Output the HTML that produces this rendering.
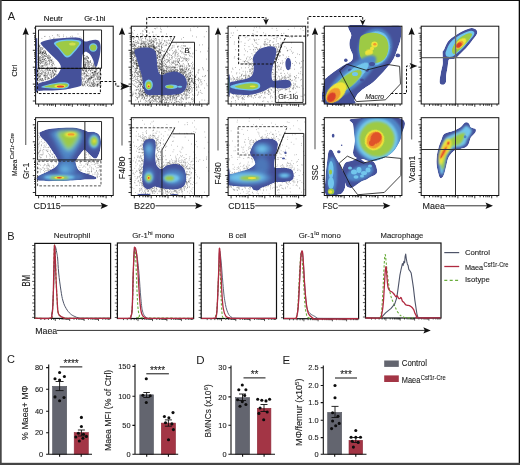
<!DOCTYPE html><html><head><meta charset="utf-8"><style>html,body{margin:0;padding:0;background:#fff}svg{display:block;will-change:transform}text{stroke:#1a1a1a;stroke-width:0.1px}</style></head><body><svg width="520" height="465" viewBox="0 0 520 465" font-family="Liberation Sans, sans-serif">
<defs>
<filter id="b1" x="-50%" y="-50%" width="200%" height="200%"><feGaussianBlur stdDeviation="1.2"/></filter>
<filter id="b2" x="-50%" y="-50%" width="200%" height="200%"><feGaussianBlur stdDeviation="2.2"/></filter>
<filter id="b05" x="-50%" y="-50%" width="200%" height="200%"><feGaussianBlur stdDeviation="0.5"/></filter>
<marker id="ah" viewBox="0 0 10 10" refX="9" refY="5" markerWidth="6" markerHeight="6" orient="auto"><path d="M0,0 L10,5 L0,10 L3,5 Z" fill="#111"/></marker>
</defs>
<rect width="520" height="465" fill="#fff"/>
<path d="M47.7 57.4h.6M38.7 63.0h.6M38.3 60.1h.6M38.9 46.4h.6M45.6 75.7h.6M39.9 51.7h.6M48.5 58.6h.6M40.3 47.5h.6M43.4 75.3h.6M41.0 65.9h.6M49.7 57.6h.6M38.7 51.0h.6M50.4 59.8h.6M43.5 66.1h.6M46.1 54.7h.6M52.6 70.6h.6M42.2 65.6h.6M47.5 77.6h.6M45.5 72.9h.6M40.4 62.2h.6M38.3 69.4h.6M52.0 65.6h.6M50.7 66.4h.6M48.5 60.9h.6M46.5 69.2h.6M38.7 70.7h.6M44.9 69.4h.6M38.0 61.2h.6M40.8 47.5h.6M38.7 73.3h.6M40.0 52.7h.6M45.0 77.4h.6M39.1 60.7h.6M48.0 77.9h.6M53.1 77.2h.6M42.8 59.3h.6M44.4 78.0h.6M40.9 52.0h.6M42.0 62.1h.6M37.6 59.5h.6M44.6 65.3h.6M55.6 70.3h.6M47.3 67.4h.6M54.6 73.8h.6M54.1 74.5h.6M45.0 58.7h.6M39.5 68.0h.6M38.7 45.5h.6M41.5 49.3h.6M37.6 48.8h.6M39.5 57.3h.6M38.1 77.6h.6M42.3 56.6h.6M46.4 62.0h.6M39.2 46.9h.6M44.1 53.3h.6M38.0 80.6h.6M53.9 70.5h.6M42.5 57.4h.6M40.7 73.5h.6M47.6 73.8h.6M43.8 51.7h.6M53.7 74.9h.6M53.1 72.2h.6M41.9 63.4h.6M38.1 53.9h.6M42.5 70.3h.6M41.7 51.8h.6M41.3 50.9h.6M49.4 78.6h.6M53.5 61.9h.6M49.9 74.6h.6M39.2 69.1h.6M54.8 73.9h.6M51.8 61.8h.6M40.9 74.2h.6M43.9 74.6h.6M40.0 48.8h.6M54.7 74.9h.6M40.3 75.7h.6M56.1 68.9h.6M44.2 64.6h.6M55.9 68.6h.6M45.8 77.5h.6M42.3 54.5h.6M42.1 66.1h.6M42.5 59.5h.6M40.1 79.0h.6M44.3 61.0h.6M48.6 78.8h.6M45.5 79.3h.6M47.1 64.0h.6M37.6 74.6h.6M40.8 61.6h.6M51.3 64.9h.6M43.7 63.4h.6M48.1 74.0h.6M39.6 65.1h.6M42.3 53.8h.6M52.2 63.0h.6M48.2 73.0h.6M49.2 62.9h.6M47.3 70.3h.6M46.1 64.0h.6M50.8 77.7h.6M39.9 60.4h.6M38.9 52.4h.6M39.0 69.4h.6M40.5 71.3h.6M41.7 80.7h.6M45.1 62.2h.6M56.3 75.9h.6M40.6 60.0h.6M47.3 56.3h.6M41.3 55.5h.6M48.1 60.3h.6M37.9 56.0h.6M49.4 63.2h.6M38.8 82.0h.6M39.6 53.4h.6M38.3 73.8h.6M42.7 48.0h.6M45.6 79.0h.6M40.4 79.3h.6M48.4 70.7h.6M39.3 45.1h.6M50.6 59.7h.6M38.9 80.1h.6M49.6 74.7h.6M39.2 76.8h.6M38.8 77.1h.6M46.2 56.3h.6M42.6 48.0h.6M39.6 49.2h.6M38.5 50.8h.6M43.5 54.9h.6M51.4 64.7h.6M41.2 61.7h.6M46.9 76.0h.6M45.0 63.0h.6M44.1 75.9h.6M50.9 68.1h.6M45.2 56.6h.6M38.6 48.0h.6M38.9 72.3h.6M42.4 49.3h.6M39.2 76.3h.6M54.0 69.5h.6M42.9 52.4h.6M43.1 61.1h.6M40.6 60.5h.6M43.4 57.0h.6M37.6 58.0h.6M46.6 62.8h.6M41.4 62.9h.6M37.7 53.3h.6M39.3 58.7h.6M38.4 43.7h.6M43.3 52.1h.6M48.7 63.8h.6M51.8 68.9h.6M51.1 77.8h.6M44.9 55.8h.6M51.3 68.4h.6M38.4 76.0h.6M54.4 67.7h.6M51.5 75.1h.6M40.2 63.6h.6M47.1 76.0h.6M52.8 75.7h.6M48.6 78.3h.6M50.5 70.4h.6M40.1 57.2h.6M39.6 76.0h.6M48.1 67.8h.6M49.4 69.9h.6M52.7 72.6h.6M47.1 64.1h.6M39.0 53.4h.6M46.9 58.0h.6M46.6 70.0h.6M52.1 67.3h.6M40.4 52.9h.6M38.7 53.5h.6M50.3 70.3h.6M47.3 61.3h.6M37.9 61.1h.6M46.1 53.5h.6M41.5 80.4h.6M41.6 65.9h.6M40.3 63.6h.6M53.1 63.0h.6M54.4 70.8h.6M41.9 78.5h.6M37.6 62.4h.6M46.1 54.8h.6M40.2 56.5h.6M43.6 76.2h.6M37.6 72.7h.6M55.1 71.2h.6M44.6 58.4h.6M44.4 59.8h.6M39.5 76.0h.6M43.0 80.0h.6M42.3 53.4h.6M54.3 75.1h.6M51.4 60.7h.6M51.8 68.4h.6M46.5 56.5h.6M43.2 72.2h.6M48.1 58.5h.6M40.7 49.2h.6M41.5 78.8h.6M42.1 53.1h.6M48.3 78.1h.6M51.8 59.2h.6M45.4 63.6h.6M44.7 56.3h.6M38.7 53.8h.6M47.1 67.8h.6M42.7 52.7h.6M45.1 60.5h.6M55.6 76.5h.6M38.2 71.0h.6M45.0 79.7h.6M53.2 76.8h.6M39.6 49.0h.6M47.5 69.9h.6M55.4 71.5h.6M49.8 73.2h.6M46.2 64.7h.6M38.3 73.9h.6M42.0 79.4h.6M40.0 52.8h.6M49.6 70.6h.6M39.7 45.6h.6M47.5 66.0h.6M44.9 51.7h.6M43.3 61.1h.6M55.7 68.4h.6M42.0 52.6h.6M55.7 70.8h.6M47.0 69.6h.6M45.5 53.0h.6M44.0 59.5h.6M52.7 72.2h.6M41.8 73.0h.6M43.2 80.6h.6M41.8 59.4h.6M40.3 58.5h.6M38.7 58.4h.6M41.1 80.0h.6M50.1 57.9h.6M44.6 56.0h.6M42.9 56.8h.6M44.3 75.5h.6M38.5 61.6h.6M44.6 79.4h.6M41.2 57.3h.6M45.3 75.1h.6M38.2 45.3h.6M44.0 53.6h.6M55.7 67.3h.6M42.5 71.3h.6M43.6 53.8h.6M37.6 72.8h.6M54.9 68.0h.6M42.0 61.7h.6M44.9 52.8h.6M45.7 62.4h.6M52.8 72.2h.6M53.1 73.5h.6M49.1 55.8h.6M43.6 57.2h.6M41.3 72.7h.6M38.2 64.8h.6M39.4 62.6h.6M51.0 60.6h.6M42.0 59.4h.6M49.3 69.6h.6M51.7 76.5h.6M48.3 57.6h.6M42.3 52.6h.6M40.5 78.0h.6M48.5 55.8h.6M52.9 68.8h.6M46.6 75.4h.6M38.3 54.5h.6M39.8 50.4h.6M42.5 73.7h.6M48.9 67.5h.6M41.7 57.5h.6M40.2 50.9h.6M42.4 66.6h.6M37.8 55.8h.6M43.5 50.9h.6M52.6 64.6h.6M38.8 46.8h.6M45.1 64.7h.6M40.7 70.5h.6M45.3 54.1h.6M43.5 65.3h.6M44.3 59.4h.6M44.5 50.7h.6M37.7 78.6h.6M45.6 75.4h.6M45.3 77.9h.6M37.9 64.7h.6M39.3 67.5h.6M44.6 62.9h.6M40.3 54.1h.6M39.6 62.3h.6M41.3 47.9h.6M54.7 67.5h.6M45.2 76.5h.6M41.7 58.7h.6M47.4 58.1h.6M39.9 52.6h.6M38.3 65.2h.6M48.9 64.7h.6M45.5 66.0h.6M45.6 69.0h.6M46.0 60.2h.6M38.0 67.4h.6M52.0 73.8h.6M40.0 59.9h.6M39.3 60.4h.6M51.5 73.7h.6M47.1 57.8h.6M51.4 75.2h.6M38.8 56.8h.6M47.1 79.4h.6M41.5 53.3h.6M47.1 55.5h.6M38.3 50.1h.6M40.6 80.0h.6M40.8 74.0h.6M39.7 63.9h.6M49.6 57.1h.6M54.1 64.9h.6M48.5 77.9h.6M49.5 58.5h.6M44.4 73.2h.6M48.7 69.2h.6M38.2 48.8h.6M49.2 60.0h.6M47.3 78.4h.6M40.1 51.8h.6M37.6 56.9h.6M39.6 57.0h.6M41.8 66.0h.6M49.4 61.7h.6M40.1 80.0h.6M42.2 48.8h.6M39.4 68.2h.6M54.1 73.9h.6M45.2 53.3h.6M37.8 68.4h.6M48.2 56.7h.6M49.8 60.5h.6M55.3 72.0h.6M42.3 78.7h.6M38.4 63.9h.6M45.3 52.3h.6M38.7 73.8h.6M37.8 64.7h.6M41.3 67.0h.6M47.2 68.3h.6M43.4 54.8h.6M38.5 78.2h.6M52.4 71.2h.6M37.7 76.4h.6M51.7 61.3h.6M51.6 60.8h.6M43.9 72.6h.6M50.7 76.4h.6M48.1 60.1h.6M52.5 63.6h.6M42.6 68.3h.6M42.5 52.2h.6M42.1 78.9h.6M49.5 70.4h.6M46.5 76.2h.6M50.8 76.9h.6M45.8 71.6h.6M48.4 55.0h.6M41.6 67.6h.6M39.0 79.0h.6M39.6 79.7h.6M38.1 44.5h.6M50.7 68.0h.6M50.8 72.1h.6M38.8 66.3h.6M44.4 75.3h.6M38.8 77.3h.6M39.6 51.0h.6M53.6 75.1h.6M49.6 75.6h.6M39.5 46.7h.6M43.6 59.7h.6M38.0 53.0h.6M42.9 71.3h.6M44.5 55.6h.6M53.7 67.4h.6M38.2 59.2h.6M45.8 73.5h.6M44.1 70.8h.6M37.6 50.8h.6M37.7 62.3h.6M46.9 74.5h.6M41.1 62.5h.6M44.1 75.9h.6M42.5 80.3h.6M42.9 51.4h.6M50.8 62.6h.6M39.7 68.1h.6M39.1 74.1h.6M50.8 74.1h.6M49.5 57.0h.6M45.2 58.5h.6M41.5 53.3h.6M44.7 77.9h.6M42.0 61.1h.6M47.6 72.8h.6M51.8 68.5h.6M44.2 55.8h.6M40.5 76.3h.6M50.1 72.3h.6M40.8 60.3h.6M52.2 65.8h.6M40.0 61.2h.6M41.2 54.8h.6M50.9 76.3h.6M40.5 49.0h.6M42.3 55.8h.6M43.8 50.3h.6M56.0 71.8h.6M39.5 81.1h.6M39.5 58.1h.6M56.2 74.4h.6M51.4 60.1h.6M41.3 68.2h.6M39.6 51.0h.6M45.1 74.3h.6M50.7 62.7h.6M49.5 61.2h.6M40.3 66.8h.6M45.2 72.3h.6M48.4 72.6h.6M45.5 51.9h.6M51.2 77.8h.6M52.2 70.6h.6M53.7 69.8h.6M49.7 60.9h.6M43.5 67.8h.6M39.4 59.5h.6M52.4 71.2h.6M45.6 60.9h.6M49.3 59.1h.6M41.0 68.8h.6M38.3 64.4h.6M40.6 73.9h.6M39.5 65.7h.6M47.8 71.3h.6M47.3 68.2h.6M53.3 63.6h.6M41.5 70.0h.6M45.0 73.1h.6M42.8 58.7h.6M37.8 59.5h.6M45.5 70.6h.6M44.2 53.4h.6M41.8 72.3h.6M41.7 74.7h.6M45.0 51.2h.6M40.0 73.7h.6M52.9 68.0h.6M46.4 65.2h.6M41.8 81.1h.6M44.3 68.2h.6M53.1 75.3h.6M46.4 54.5h.6M44.7 52.9h.6M37.6 71.5h.6M42.9 52.6h.6M43.3 61.9h.6M45.7 68.1h.6M50.0 57.2h.6M55.1 76.8h.6M38.6 75.7h.6M54.7 74.0h.6M40.2 75.9h.6" stroke="#111" stroke-width="0.65" stroke-opacity="0.8" fill="none"/>
<path d="M93.7 67.7h.6M94.1 72.4h.6M83.1 70.3h.6M85.7 82.8h.6M88.0 70.5h.6M99.1 83.2h.6M84.4 85.1h.6M93.2 82.9h.6M94.4 85.2h.6M96.8 84.1h.6M85.0 81.2h.6M91.6 82.2h.6M89.8 85.0h.6M92.1 72.7h.6M85.8 70.2h.6M90.9 68.6h.6M90.4 70.3h.6M90.9 77.3h.6M91.8 84.6h.6M81.2 84.1h.6M90.4 78.6h.6M94.3 84.1h.6M88.5 75.7h.6M100.2 68.9h.6M93.8 80.1h.6M81.7 79.5h.6M94.7 85.9h.6M91.2 77.1h.6M98.9 68.1h.6M95.4 79.8h.6M87.8 84.5h.6M88.4 76.8h.6M91.5 82.7h.6M85.3 76.1h.6M89.5 78.4h.6M97.5 73.2h.6M97.5 75.4h.6M91.1 72.8h.6M94.1 83.2h.6M87.7 73.7h.6M87.0 79.1h.6M93.7 83.0h.6M81.9 81.8h.6M98.7 78.3h.6M82.1 73.4h.6M81.2 71.2h.6M99.4 79.5h.6M94.2 83.1h.6M99.2 79.6h.6M93.4 79.9h.6M94.9 79.3h.6M94.6 71.6h.6M94.4 76.5h.6M96.3 69.4h.6M84.7 68.2h.6M96.5 85.6h.6M94.1 74.7h.6M97.4 83.0h.6M92.3 72.5h.6M87.1 75.8h.6M87.4 76.0h.6M93.8 86.0h.6M82.2 78.7h.6M81.9 69.8h.6M97.2 78.9h.6M99.4 76.3h.6M81.4 75.1h.6M92.9 86.1h.6M100.6 76.9h.6M89.3 69.4h.6M93.9 71.6h.6M84.1 67.7h.6M81.2 81.0h.6M82.8 84.7h.6M83.7 67.8h.6M95.4 72.2h.6M95.7 71.1h.6M82.1 82.8h.6M95.3 84.4h.6M95.6 69.1h.6M93.6 81.5h.6M90.2 85.9h.6M95.3 67.6h.6M81.4 80.3h.6M97.3 69.0h.6M87.3 81.9h.6M84.4 84.5h.6M90.8 68.6h.6M88.4 78.8h.6M89.8 80.9h.6M84.0 83.3h.6M88.3 80.2h.6M93.6 75.7h.6M88.8 83.0h.6M99.9 83.0h.6M92.4 73.2h.6M95.1 83.9h.6M87.7 79.5h.6M100.5 83.9h.6M93.0 73.6h.6M89.6 85.1h.6M88.6 81.0h.6M93.1 85.2h.6M97.1 73.0h.6M81.1 72.6h.6M89.5 79.1h.6M97.3 85.1h.6M81.9 84.0h.6M97.2 84.7h.6M92.5 72.9h.6M98.0 83.5h.6M94.7 85.6h.6M88.0 69.1h.6M92.1 83.3h.6M85.1 82.3h.6M99.6 72.1h.6M93.2 80.9h.6M90.3 71.5h.6M86.2 82.3h.6M96.8 76.6h.6M82.8 83.4h.6M96.4 72.0h.6M92.6 85.2h.6M98.7 77.8h.6M90.6 79.1h.6M84.9 71.2h.6M84.7 81.4h.6M88.3 78.6h.6M89.1 77.7h.6M84.1 68.3h.6M100.9 74.9h.6M83.2 80.0h.6M96.7 70.5h.6M93.0 74.3h.6M91.4 67.8h.6M98.3 77.1h.6M92.4 72.6h.6M96.6 75.9h.6M99.9 82.7h.6M97.4 86.6h.6M86.1 68.2h.6M85.1 71.0h.6M82.8 68.4h.6M92.2 84.7h.6M90.2 86.2h.6M99.2 68.7h.6M93.0 75.3h.6M86.2 78.6h.6M93.8 86.4h.6M94.4 75.2h.6M90.0 70.6h.6M100.3 87.1h.6M85.5 68.2h.6M86.2 74.4h.6M99.0 85.4h.6M97.7 68.4h.6M96.7 81.5h.6M82.2 70.3h.6M96.1 86.1h.6M94.5 73.4h.6M92.8 82.5h.6M83.2 73.9h.6M86.2 69.9h.6M90.7 70.8h.6M85.8 70.3h.6M94.6 67.7h.6M95.3 71.3h.6M81.8 85.9h.6M85.5 86.0h.6M98.3 85.1h.6M83.9 76.3h.6M83.0 85.9h.6M97.8 79.9h.6M90.1 74.2h.6M97.5 76.9h.6M93.6 70.3h.6M85.5 68.5h.6M95.3 78.4h.6M84.0 84.7h.6M86.4 75.6h.6M84.2 72.8h.6M97.8 74.1h.6M84.4 77.2h.6M87.4 85.4h.6M82.2 85.2h.6M94.4 71.6h.6M90.6 73.1h.6M86.2 71.4h.6M100.9 85.8h.6M83.0 73.2h.6M98.9 68.6h.6M95.5 73.3h.6M100.5 67.7h.6M97.1 74.2h.6M83.9 67.5h.6M97.6 77.9h.6M84.8 76.1h.6M99.2 71.8h.6M92.4 70.2h.6M84.7 82.7h.6M95.2 71.3h.6M82.7 69.2h.6M93.2 77.3h.6M86.5 71.5h.6M93.3 81.5h.6M97.2 79.0h.6M85.1 68.7h.6M95.7 75.5h.6M95.4 68.5h.6M97.2 74.1h.6M97.8 84.6h.6M90.9 67.7h.6M99.2 76.9h.6M98.4 72.7h.6M84.8 83.9h.6M88.4 70.7h.6M88.5 79.2h.6M81.2 77.7h.6M90.0 77.7h.6M83.5 81.6h.6M97.3 84.6h.6M87.5 81.6h.6M88.7 82.3h.6M82.3 84.8h.6M100.1 77.3h.6M91.3 78.0h.6M91.8 67.8h.6M100.3 71.9h.6M84.7 69.5h.6M86.1 83.7h.6M81.7 69.3h.6M95.0 71.3h.6M81.4 79.3h.6M92.6 77.8h.6M95.1 69.5h.6M98.4 81.7h.6M82.0 69.9h.6M90.9 77.4h.6M86.7 69.8h.6M89.2 70.1h.6M92.9 84.5h.6M84.0 78.8h.6M95.9 70.7h.6M97.5 86.0h.6M88.8 75.8h.6M97.8 77.9h.6M89.0 86.1h.6M96.5 74.1h.6M85.9 74.1h.6M97.1 85.6h.6M97.3 84.3h.6M82.2 77.7h.6M100.1 86.0h.6M86.1 75.8h.6M93.7 74.7h.6M91.6 68.8h.6M89.7 77.4h.6M81.5 70.2h.6M100.4 82.9h.6M99.7 80.0h.6M97.2 85.0h.6M98.7 68.1h.6M93.8 72.7h.6M94.6 72.9h.6M91.9 85.8h.6M93.4 72.4h.6M91.4 76.0h.6M100.0 73.1h.6M87.2 80.3h.6M83.5 79.2h.6M100.1 77.6h.6M86.4 76.7h.6M91.7 70.4h.6M83.6 70.0h.6M86.9 75.5h.6M86.8 72.3h.6M82.8 78.3h.6M97.8 79.5h.6M92.4 80.3h.6M85.1 81.5h.6M90.3 78.3h.6M93.3 76.7h.6M87.3 72.2h.6M85.5 77.6h.6M88.7 79.1h.6M81.3 74.4h.6M98.2 72.2h.6M92.2 77.2h.6M87.0 82.8h.6M84.2 68.7h.6M98.4 76.2h.6M82.3 75.1h.6M89.8 82.0h.6M83.3 71.9h.6M100.2 82.1h.6M84.2 74.1h.6M88.1 80.8h.6M93.3 84.3h.6M97.4 77.7h.6M95.8 82.2h.6M96.2 76.9h.6M96.7 81.5h.6M99.3 69.9h.6M98.4 67.5h.6M96.3 79.1h.6M91.0 86.5h.6M92.5 75.7h.6M96.7 84.8h.6M93.2 75.0h.6M90.1 76.5h.6M95.5 73.2h.6M88.9 78.5h.6M88.7 73.8h.6M96.7 84.3h.6M91.0 76.2h.6M84.8 73.5h.6M84.0 78.9h.6M92.7 69.2h.6M99.4 73.9h.6M97.9 84.1h.6M100.1 71.5h.6M89.6 85.5h.6M81.3 68.4h.6M92.3 77.3h.6M99.4 82.8h.6M91.4 77.7h.6M94.7 75.2h.6M88.2 79.2h.6M88.1 86.3h.6M94.5 77.9h.6M83.1 74.9h.6M89.1 78.6h.6M92.5 84.9h.6M100.3 77.1h.6M89.8 79.8h.6M100.9 74.2h.6M91.6 83.6h.6M84.5 73.7h.6M100.5 83.8h.6M91.3 69.6h.6M98.9 81.1h.6M98.7 75.8h.6M84.2 73.2h.6M91.3 77.5h.6M84.8 71.0h.6M93.6 79.4h.6M93.7 68.3h.6M89.3 83.1h.6M87.2 81.1h.6M81.2 73.5h.6M97.8 79.1h.6M94.4 71.3h.6M91.0 78.4h.6M86.4 80.3h.6M92.5 75.6h.6M83.5 70.5h.6M96.2 69.5h.6M83.1 70.8h.6M91.5 83.8h.6M93.3 83.4h.6M82.3 67.7h.6M96.4 73.8h.6M95.3 74.5h.6M84.5 72.7h.6M83.1 85.4h.6M92.7 74.4h.6M90.0 75.1h.6M82.2 85.1h.6M92.7 86.5h.6M89.8 79.7h.6M86.1 68.3h.6M99.6 84.4h.6M87.4 85.3h.6M97.3 73.5h.6M93.1 86.5h.6M90.9 86.3h.6M85.9 75.2h.6M95.4 71.8h.6M87.2 84.8h.6M90.7 83.2h.6M85.9 70.9h.6" stroke="#111" stroke-width="0.65" stroke-opacity="0.8" fill="none"/>
<path d="M88.1 57.6h.6M84.7 66.1h.6M88.0 58.4h.6M85.7 58.9h.6M85.2 64.5h.6M84.3 58.7h.6M89.3 66.2h.6M88.0 64.7h.6M88.3 67.8h.6M85.9 67.7h.6M88.2 58.4h.6M90.3 62.3h.6M86.8 65.3h.6M88.5 63.8h.6M85.5 66.4h.6M87.5 63.9h.6M84.5 62.6h.6M88.1 61.7h.6M87.4 58.1h.6M84.8 64.6h.6M87.0 60.5h.6M95.5 66.5h.6M84.9 58.8h.6M83.4 64.1h.6M88.8 63.8h.6M84.6 67.2h.6M93.4 64.6h.6M83.6 55.6h.6M85.3 57.7h.6M87.3 60.2h.6M83.5 59.2h.6M89.2 64.2h.6M83.7 58.4h.6M84.6 65.6h.6M86.0 67.2h.6M93.6 66.1h.6M87.0 56.3h.6M93.5 66.1h.6M83.8 64.4h.6M89.1 61.9h.6M93.0 65.8h.6M86.7 62.4h.6M83.8 59.9h.6M87.4 56.9h.6M93.0 64.0h.6M86.4 58.3h.6M90.3 61.0h.6M87.2 66.8h.6M85.0 62.6h.6M87.7 65.9h.6M90.8 65.2h.6M85.4 63.9h.6M93.9 66.1h.6M84.6 59.0h.6M88.1 57.9h.6M83.8 58.8h.6M85.8 64.4h.6M87.6 61.3h.6M84.2 64.6h.6M84.5 61.6h.6M91.9 67.5h.6M86.5 57.0h.6M83.4 65.4h.6M85.6 63.6h.6M95.0 67.4h.6M85.4 65.5h.6M87.6 57.6h.6M88.2 62.4h.6M88.2 66.1h.6M91.0 63.4h.6M95.8 67.6h.6M90.0 61.7h.6M85.2 59.1h.6M89.3 68.0h.6M84.3 55.6h.6M94.9 66.4h.6M87.0 63.9h.6M90.3 60.7h.6M87.8 60.9h.6M92.4 66.1h.6M87.2 61.0h.6M85.8 56.2h.6M87.6 61.2h.6M95.3 68.0h.6M92.6 63.2h.6M87.2 62.7h.6M87.9 66.8h.6M83.4 57.6h.6M84.2 63.9h.6M88.3 62.8h.6M88.9 62.1h.6M84.6 57.5h.6M84.6 66.5h.6M86.6 56.4h.6M89.9 62.5h.6M86.2 62.7h.6M84.6 61.9h.6M89.2 66.6h.6M90.8 64.6h.6M84.4 66.1h.6M86.4 60.1h.6M83.2 63.0h.6M86.0 59.1h.6M85.4 65.0h.6M87.8 65.2h.6M92.6 66.1h.6M84.7 60.1h.6M93.5 67.7h.6M90.8 65.8h.6M84.6 67.4h.6M85.7 61.0h.6M84.6 65.7h.6" stroke="#111" stroke-width="0.65" stroke-opacity="0.8" fill="none"/>
<path d="M49.8 38.2h.6M54.5 39.3h.6M58.7 34.9h.6M81.1 38.1h.6M56.9 35.0h.6M77.7 34.0h.6M49.6 40.4h.6M72.2 36.9h.6M63.0 35.0h.6M79.7 36.9h.6M44.8 36.4h.6M51.2 41.0h.6M49.1 36.7h.6M62.6 38.4h.6M59.0 36.6h.6M41.6 38.4h.6M71.8 36.0h.6M53.8 37.8h.6M53.3 38.4h.6M70.1 38.9h.6M57.8 36.0h.6M55.2 39.9h.6M74.9 37.9h.6M70.2 36.6h.6M66.4 37.0h.6M44.1 36.5h.6M63.2 36.7h.6M52.4 35.6h.6M57.2 34.8h.6" stroke="#2a2a2a" stroke-width="0.65" stroke-opacity="0.8" fill="none"/>
<path d="M40.70,42.80 C41.15,42.02 42.55,41.47 44.80,40.80 C47.05,40.13 50.40,39.32 54.20,38.80 C58.00,38.28 63.57,37.88 67.60,37.70 C71.63,37.52 75.92,37.42 78.40,37.70 C80.88,37.98 81.38,38.77 82.50,39.40 C83.62,40.03 83.77,41.33 85.10,41.50 C86.43,41.67 88.70,40.68 90.50,40.40 C92.30,40.12 94.43,39.62 95.90,39.80 C97.37,39.98 98.52,40.33 99.30,41.50 C100.08,42.67 100.50,44.57 100.60,46.80 C100.70,49.03 100.35,52.20 99.90,54.90 C99.45,57.60 98.45,61.08 97.90,63.00 C97.35,64.92 97.15,65.95 96.60,66.40 C96.05,66.85 95.17,66.72 94.60,65.70 C94.03,64.68 93.88,62.10 93.20,60.30 C92.52,58.50 91.50,56.25 90.50,54.90 C89.50,53.55 88.20,52.65 87.20,52.20 C86.20,51.75 85.28,51.75 84.50,52.20 C83.72,52.65 82.95,53.33 82.50,54.90 C82.05,56.47 81.95,59.35 81.80,61.60 C81.65,63.85 81.67,66.17 81.60,68.40 C81.53,70.63 81.40,72.32 81.40,75.00 C81.40,77.68 82.00,82.57 81.60,84.50 C81.20,86.43 80.10,86.08 79.00,86.60 C77.90,87.12 76.50,87.25 75.00,87.60 C73.50,87.95 72.50,88.30 70.00,88.70 C67.50,89.10 64.17,89.68 60.00,90.00 C55.83,90.32 48.73,90.52 45.00,90.60 C41.27,90.68 38.90,91.27 37.60,90.50 C36.30,89.73 37.05,87.18 37.20,86.00 C37.35,84.82 36.78,84.27 38.50,83.40 C40.22,82.53 44.88,81.80 47.50,80.80 C50.12,79.80 52.30,78.75 54.20,77.40 C56.10,76.05 57.78,74.43 58.90,72.70 C60.02,70.97 61.02,68.85 60.90,67.00 C60.78,65.15 59.55,63.38 58.20,61.60 C56.85,59.82 54.58,58.08 52.80,56.30 C51.02,54.52 49.28,52.70 47.50,50.90 C45.72,49.10 43.23,46.85 42.10,45.50 C40.97,44.15 40.25,43.58 40.70,42.80Z" fill="#45519a" />
<path d="M54.20,42.77 C54.99,41.97 57.23,40.91 59.74,40.37 C62.26,39.83 66.12,39.53 69.30,39.53 C72.49,39.53 76.87,39.83 78.86,40.37 C80.85,40.91 81.22,41.71 81.22,42.77 C81.22,43.83 80.06,45.11 78.86,46.73 C77.66,48.35 75.48,50.87 74.02,52.49 C72.57,54.11 71.45,55.65 70.13,56.45 C68.81,57.25 67.45,57.83 66.12,57.29 C64.78,56.75 63.42,54.69 62.10,53.21 C60.79,51.73 59.39,49.75 58.21,48.41 C57.03,47.07 55.69,46.11 55.02,45.17 C54.36,44.23 53.41,43.57 54.20,42.77Z" fill="#72c6ec" />
<path d="M56.20,43.50 C56.87,42.83 58.77,41.95 60.90,41.50 C63.03,41.05 66.30,40.80 69.00,40.80 C71.70,40.80 75.42,41.05 77.10,41.50 C78.78,41.95 79.10,42.62 79.10,43.50 C79.10,44.38 78.12,45.45 77.10,46.80 C76.08,48.15 74.23,50.25 73.00,51.60 C71.77,52.95 70.82,54.23 69.70,54.90 C68.58,55.57 67.43,56.05 66.30,55.60 C65.17,55.15 64.02,53.43 62.90,52.20 C61.78,50.97 60.60,49.32 59.60,48.20 C58.60,47.08 57.47,46.28 56.90,45.50 C56.33,44.72 55.53,44.17 56.20,43.50Z" fill="#9dca45" />
<ellipse cx="72.40" cy="43.90" rx="3.20" ry="1.50" fill="#d2e050" filter="url(#b05)"/>
<ellipse cx="93.20" cy="47.50" rx="4.20" ry="4.20" fill="#72c6ec"/>
<ellipse cx="93.20" cy="47.50" rx="3.10" ry="3.10" fill="#9dca45"/>
<path d="M41.40,86.80 C42.08,86.30 44.70,85.50 47.50,84.80 C50.30,84.10 55.07,82.97 58.20,82.60 C61.33,82.23 64.43,82.23 66.30,82.60 C68.17,82.97 69.40,83.87 69.40,84.80 C69.40,85.73 68.83,87.55 66.30,88.20 C63.77,88.85 58.02,88.77 54.20,88.70 C50.38,88.63 45.53,88.12 43.40,87.80 C41.27,87.48 40.72,87.30 41.40,86.80Z" fill="#72c6ec" />
<path d="M44.50,86.70 C45.00,86.37 46.67,85.82 49.00,85.30 C51.33,84.78 55.75,83.88 58.50,83.60 C61.25,83.32 63.92,83.37 65.50,83.60 C67.08,83.83 68.00,84.38 68.00,85.00 C68.00,85.62 67.75,86.83 65.50,87.30 C63.25,87.77 57.75,87.80 54.50,87.80 C51.25,87.80 47.67,87.48 46.00,87.30 C44.33,87.12 44.00,87.03 44.50,86.70Z" fill="#9dca45" />
<ellipse cx="60.00" cy="86.20" rx="5.60" ry="1.70" fill="#efe43a" filter="url(#b05)"/>
<ellipse cx="60.50" cy="86.40" rx="3.60" ry="1.00" fill="#e2412a" filter="url(#b05)"/>
<rect x="35.800000000000004" y="38.2" width="1.5" height="54" fill="#45519a"/>
<path d="M38.52,29.95 L83.56,29.95 L83.56,68.37 L38.52,68.37 L38.52,29.95" fill="none" stroke="#111" stroke-width="0.9"/>
<path d="M83.56,29.95 L101.54,29.95 L101.54,68.37 L83.56,68.37" fill="none" stroke="#111" stroke-width="0.9"/>
<path d="M37.57,68.37 L100.40,68.37 L100.40,93.54 L37.57,93.54 L37.57,68.37" fill="none" stroke="#111" stroke-width="1.0" stroke-dasharray="2.6,1.6"/>
<path d="M165.9 70.4h.6M174.0 98.7h.6M152.9 46.5h.6M144.4 47.3h.6M180.8 97.6h.6M173.1 71.9h.6M182.2 72.9h.6M190.3 86.3h.6M203.9 36.8h.6M136.4 65.2h.6M145.7 98.9h.6M140.1 83.0h.6M136.4 70.0h.6M149.0 46.0h.6M190.0 76.1h.6M169.0 95.1h.6M184.1 72.6h.6M176.2 94.5h.6M140.3 101.5h.6M192.5 79.7h.6M169.8 97.3h.6M152.1 32.0h.6M161.3 58.2h.6M170.9 72.2h.6M152.1 96.5h.6M135.1 56.0h.6M159.9 66.7h.6M160.2 52.8h.6M135.2 60.7h.6M158.8 56.3h.6M160.9 67.1h.6M200.8 84.8h.6M137.7 89.5h.6M194.4 93.7h.6M151.5 42.2h.6M169.3 71.5h.6M136.2 60.0h.6M135.6 93.0h.6M143.6 96.7h.6M140.6 90.3h.6M139.1 69.1h.6M177.4 62.1h.6M139.0 94.2h.6M169.8 67.9h.6M170.2 95.1h.6M143.6 47.0h.6M161.9 66.5h.6M191.9 81.3h.6M167.2 97.4h.6M142.6 41.9h.6M196.6 87.1h.6M195.9 87.6h.6M152.6 100.3h.6M178.5 95.4h.6M139.5 69.1h.6M159.7 101.7h.6M134.5 51.7h.6M176.8 71.0h.6M158.9 98.9h.6M189.5 78.8h.6M183.0 71.1h.6M192.2 91.1h.6M185.7 73.7h.6M152.7 43.1h.6M132.1 75.0h.6M134.8 90.2h.6M157.9 52.1h.6M193.7 67.9h.6M171.0 71.9h.6M137.3 63.4h.6M136.6 42.5h.6M175.0 65.7h.6M196.2 37.0h.6M192.0 62.3h.6M186.0 60.5h.6M150.1 102.5h.6M150.2 98.2h.6M133.2 84.8h.6M132.4 83.9h.6M141.2 76.6h.6M206.8 85.7h.6M163.0 73.6h.6M158.5 51.6h.6M163.0 96.9h.6M153.8 96.3h.6M188.9 84.5h.6M181.1 72.1h.6M132.9 54.5h.6M145.6 37.7h.6M142.4 87.2h.6M159.9 66.9h.6M144.9 93.1h.6M168.7 40.5h.6M181.8 66.2h.6M188.5 92.5h.6M177.6 95.9h.6M176.5 98.8h.6M133.6 55.4h.6M142.3 45.2h.6M136.2 44.7h.6M151.4 44.9h.6M148.3 47.1h.6M152.7 32.1h.6M132.1 44.4h.6M186.3 102.5h.6M168.5 46.6h.6M138.2 39.2h.6M193.4 87.5h.6M140.1 75.4h.6M135.7 48.8h.6M142.1 34.9h.6M140.8 46.6h.6M157.8 45.7h.6M167.7 102.8h.6M197.9 70.9h.6M160.5 53.8h.6M187.6 84.7h.6M141.4 96.9h.6M186.2 98.1h.6M154.9 52.0h.6M145.8 96.6h.6M151.7 47.9h.6M171.1 62.7h.6M187.0 84.2h.6M192.8 78.7h.6M150.6 42.0h.6M163.2 74.2h.6M144.2 43.5h.6M133.8 51.5h.6M161.5 73.5h.6M133.5 41.5h.6M174.0 97.5h.6M177.5 101.7h.6M136.1 36.2h.6M186.1 75.1h.6M192.0 66.2h.6M143.9 92.6h.6M152.9 97.6h.6M138.5 86.4h.6M140.9 84.2h.6M134.3 63.4h.6M197.0 95.3h.6M151.0 96.8h.6M154.8 101.1h.6M206.3 31.6h.6M132.8 42.3h.6M140.3 84.0h.6M175.8 69.7h.6M138.6 76.5h.6M155.2 51.6h.6M136.3 65.6h.6M138.8 96.0h.6M141.5 79.4h.6M176.1 101.7h.6M186.6 88.2h.6M148.8 48.0h.6M159.2 50.2h.6M189.6 83.0h.6M177.4 46.3h.6M161.7 55.8h.6M183.5 73.6h.6M177.9 65.9h.6M168.5 102.5h.6M165.5 103.0h.6M167.2 43.0h.6M159.4 57.6h.6M194.8 76.8h.6M147.4 95.7h.6M133.8 52.5h.6M137.3 74.6h.6M193.9 82.9h.6M187.9 77.2h.6M139.0 47.9h.6M163.4 65.8h.6M175.5 68.0h.6M138.2 46.1h.6M132.4 52.0h.6M161.9 50.7h.6M162.9 95.2h.6M199.3 101.8h.6M133.5 60.6h.6M137.0 98.6h.6M153.2 35.1h.6M154.7 47.8h.6M145.2 46.6h.6M161.8 59.3h.6M155.0 47.2h.6M132.7 60.1h.6M179.9 72.7h.6M132.7 33.9h.6M176.7 71.3h.6M136.8 68.3h.6M187.8 88.2h.6M140.7 72.7h.6M175.2 102.9h.6M191.1 98.5h.6M185.5 71.3h.6M184.2 91.9h.6M152.9 46.0h.6M134.2 52.9h.6M154.2 48.4h.6M151.4 46.6h.6M141.3 75.6h.6M193.1 82.8h.6M149.6 41.0h.6M161.9 69.8h.6M191.7 81.9h.6M132.6 94.1h.6M187.9 78.1h.6M187.7 71.1h.6M185.1 69.8h.6M204.5 100.2h.6M157.1 51.4h.6M164.8 95.7h.6M195.8 50.4h.6M164.4 102.2h.6M167.8 98.3h.6M162.3 100.2h.6M173.6 99.0h.6M133.7 64.3h.6M175.5 95.1h.6M171.1 102.6h.6M133.1 51.9h.6M140.9 42.8h.6M187.2 83.9h.6M159.5 56.7h.6M160.3 101.3h.6M166.2 72.2h.6M140.6 72.3h.6M136.4 82.9h.6M139.4 71.9h.6M141.1 44.3h.6M179.2 95.9h.6M143.8 46.8h.6M141.9 43.1h.6M161.0 47.6h.6M167.1 67.1h.6M184.0 68.4h.6M186.2 60.0h.6M154.1 48.2h.6M138.4 102.3h.6M165.2 98.2h.6M182.1 65.9h.6M197.0 79.6h.6M174.0 69.1h.6M139.3 93.9h.6M163.0 68.0h.6M142.9 85.2h.6M160.3 53.1h.6M157.8 51.4h.6M146.7 100.8h.6M138.7 97.3h.6M184.9 98.2h.6M191.7 79.0h.6M186.5 89.9h.6M148.8 43.7h.6M188.3 102.3h.6M132.3 53.8h.6M157.7 96.5h.6M137.3 80.2h.6M177.1 59.6h.6M138.9 81.5h.6M166.5 97.2h.6M189.0 78.1h.6M184.3 73.5h.6M131.9 32.2h.6M179.3 68.3h.6M140.2 86.5h.6M188.2 80.5h.6M202.3 67.6h.6M157.9 53.5h.6M132.1 58.8h.6M192.4 36.0h.6M158.0 102.6h.6M157.6 58.5h.6M185.6 94.9h.6M163.1 70.2h.6M187.8 74.0h.6M187.1 90.1h.6M162.0 47.4h.6M145.0 47.0h.6M132.3 46.6h.6M194.6 95.2h.6M170.2 69.8h.6M183.4 75.0h.6M160.8 32.0h.6M137.6 85.8h.6M139.5 87.9h.6M144.8 45.3h.6M138.0 86.1h.6M176.9 67.4h.6M169.8 98.9h.6M160.1 57.4h.6M148.9 47.5h.6M140.8 95.0h.6M142.6 81.8h.6M139.1 84.3h.6M139.3 71.2h.6M135.8 46.9h.6M140.9 43.3h.6M197.5 27.5h.6M153.9 46.4h.6M157.6 60.6h.6M139.7 43.4h.6M167.7 66.4h.6M167.4 98.6h.6M132.0 53.9h.6M181.8 65.1h.6M198.1 80.8h.6M179.1 94.0h.6M198.4 86.4h.6M185.7 74.4h.6M182.7 66.8h.6M181.7 73.2h.6M200.4 51.8h.6M142.3 94.6h.6M157.9 96.4h.6M150.6 40.7h.6M184.1 71.1h.6M151.1 42.8h.6M164.0 65.5h.6M182.4 66.8h.6M137.6 71.3h.6M162.2 95.4h.6M190.3 72.8h.6M183.8 91.2h.6M139.3 91.4h.6M189.5 78.7h.6M189.2 88.7h.6M161.8 58.9h.6M175.1 67.2h.6M156.4 43.6h.6M137.4 65.9h.6M149.5 95.4h.6M154.0 96.6h.6M197.7 94.4h.6M139.9 90.0h.6M188.5 69.9h.6M142.1 95.0h.6M189.2 87.7h.6M161.5 101.6h.6M136.6 63.4h.6M173.0 71.9h.6M153.4 47.8h.6M170.7 71.5h.6M141.9 76.9h.6M164.2 102.0h.6M145.6 45.2h.6M153.7 101.3h.6M134.8 62.5h.6M188.8 86.7h.6M138.6 86.2h.6M179.7 67.7h.6M142.9 43.6h.6M131.8 58.9h.6M141.9 88.8h.6M135.5 40.5h.6M133.0 41.5h.6M133.4 94.0h.6M163.8 62.6h.6M137.5 48.2h.6M136.4 73.3h.6M132.7 53.7h.6M140.8 44.0h.6M139.8 84.5h.6M144.7 94.0h.6M133.2 45.0h.6M135.7 63.8h.6M147.6 46.2h.6M179.9 72.4h.6M183.0 99.6h.6M188.9 72.5h.6M172.3 67.2h.6M133.1 36.6h.6M174.3 66.9h.6M184.0 97.0h.6M187.8 58.4h.6M161.3 70.6h.6M134.0 45.6h.6M172.5 56.5h.6M172.2 54.0h.6M165.0 73.1h.6M173.6 98.0h.6M187.2 81.9h.6M161.0 72.6h.6M208.1 48.2h.6M159.9 53.0h.6M189.2 55.5h.6M141.9 91.6h.6M180.6 71.6h.6M155.0 51.9h.6M151.9 46.0h.6M169.6 54.5h.6M185.8 89.6h.6M144.0 92.4h.6M188.5 83.5h.6M166.7 62.4h.6M160.9 46.3h.6M154.1 99.5h.6M137.0 68.5h.6M164.5 73.3h.6M155.2 98.7h.6M155.1 95.2h.6M189.2 68.6h.6M140.8 76.1h.6M139.4 82.5h.6M135.9 63.4h.6M142.1 78.4h.6M191.7 80.1h.6M167.1 97.0h.6M139.1 72.6h.6M189.7 81.6h.6M162.8 44.0h.6M164.6 72.8h.6M189.1 65.5h.6M158.5 70.5h.6M161.5 69.7h.6M145.8 93.9h.6M147.1 94.2h.6M169.3 60.8h.6M135.9 93.6h.6M182.9 74.8h.6M169.4 96.1h.6M191.3 63.5h.6M158.3 69.1h.6M152.5 96.9h.6M142.5 90.6h.6M131.8 95.5h.6M180.8 102.3h.6M194.1 87.9h.6M180.2 73.1h.6M133.1 80.8h.6M143.4 95.5h.6M188.3 79.4h.6M135.4 71.5h.6M170.7 49.0h.6M185.7 77.8h.6M151.0 101.2h.6M173.1 95.5h.6M158.1 60.0h.6M175.3 69.6h.6M175.1 98.1h.6M187.9 73.9h.6M160.2 68.3h.6M181.6 68.6h.6M160.2 69.9h.6M143.6 44.3h.6M153.6 95.9h.6M148.0 46.6h.6M186.1 69.7h.6M158.7 57.1h.6M194.5 93.4h.6M138.8 96.2h.6M165.0 61.1h.6M151.8 95.5h.6M175.5 49.9h.6M160.0 26.9h.6M144.7 44.1h.6M187.7 78.9h.6M158.7 44.6h.6M138.6 48.5h.6M163.6 70.7h.6M160.2 43.9h.6M138.3 43.2h.6M163.5 73.5h.6M172.3 71.7h.6M163.3 71.9h.6M200.0 80.9h.6M172.5 47.0h.6M149.7 96.2h.6M188.9 79.5h.6M158.1 54.1h.6M168.8 71.9h.6M188.6 86.0h.6M193.7 100.9h.6M138.6 82.9h.6M167.3 72.1h.6M153.7 50.2h.6M161.2 48.1h.6M159.0 96.3h.6M161.3 62.3h.6M195.4 76.0h.6M138.5 65.1h.6M140.2 74.6h.6M166.7 68.9h.6M138.6 65.6h.6M139.6 70.0h.6M162.0 97.4h.6M172.1 99.7h.6M207.2 102.9h.6M200.6 79.6h.6M172.7 96.1h.6M157.5 62.3h.6M164.2 103.2h.6M158.5 65.2h.6M159.0 65.5h.6M138.1 37.6h.6M141.0 95.4h.6M166.2 71.4h.6M194.5 79.4h.6M142.7 47.0h.6M186.7 91.7h.6M196.2 84.7h.6M142.5 94.2h.6M163.7 55.8h.6M177.9 101.4h.6M176.0 101.2h.6M136.9 78.7h.6M201.8 83.8h.6M137.3 76.6h.6M193.8 85.4h.6M204.9 75.9h.6M132.9 41.6h.6M157.3 98.7h.6M187.2 90.3h.6M183.9 93.0h.6M147.4 27.3h.6M145.3 45.4h.6M166.6 66.7h.6M152.6 45.8h.6M175.8 64.4h.6M147.5 47.5h.6M180.7 66.1h.6M152.6 44.7h.6M143.7 92.4h.6M163.5 99.5h.6M134.5 53.0h.6M173.1 62.6h.6M174.2 70.8h.6M161.0 61.3h.6M143.1 87.6h.6M186.3 98.0h.6M150.2 47.2h.6M132.2 78.5h.6M168.5 95.0h.6M164.5 51.4h.6M143.6 46.6h.6M175.8 65.2h.6M153.0 95.5h.6M132.1 53.9h.6M178.2 94.5h.6M163.3 56.1h.6M148.8 99.9h.6M159.2 68.4h.6M155.6 99.8h.6M161.5 100.6h.6M189.0 76.5h.6M139.4 75.5h.6M170.8 96.1h.6M140.8 73.2h.6M148.8 101.2h.6M134.1 44.8h.6M161.3 95.1h.6M137.6 68.3h.6M142.0 94.4h.6M134.6 37.3h.6M167.0 54.2h.6M148.5 41.0h.6M185.2 90.5h.6M168.4 61.0h.6M132.7 60.5h.6M182.6 57.4h.6M159.6 66.7h.6M173.4 103.2h.6M136.7 72.4h.6M149.1 46.1h.6M159.4 46.9h.6M144.8 94.2h.6M157.3 62.7h.6M136.5 59.5h.6M185.0 75.4h.6M141.2 80.5h.6M140.1 79.6h.6M143.8 97.2h.6M189.2 82.1h.6M195.4 81.6h.6M160.0 98.7h.6M194.0 86.4h.6M180.8 103.1h.6M172.0 69.3h.6M186.9 84.6h.6M142.7 31.2h.6M132.8 38.2h.6M163.0 51.4h.6M140.7 78.1h.6M136.6 68.7h.6M161.1 72.5h.6M142.5 38.4h.6M143.3 34.9h.6M176.0 71.1h.6M136.4 64.4h.6M144.0 98.4h.6M164.0 72.0h.6M161.4 50.2h.6M195.2 76.8h.6M166.7 95.7h.6M162.5 73.9h.6M135.8 64.0h.6M158.9 61.3h.6M150.3 95.8h.6M132.4 44.0h.6M189.9 75.6h.6M157.4 50.9h.6M163.5 71.2h.6M158.4 98.7h.6M149.6 43.7h.6M180.7 47.1h.6M149.8 37.5h.6M135.7 49.4h.6M133.7 52.0h.6M189.3 93.5h.6M154.6 47.7h.6M136.4 58.4h.6M160.4 63.5h.6M150.4 45.2h.6M146.7 96.5h.6M168.1 71.0h.6M186.7 89.7h.6M141.0 41.6h.6M157.8 63.2h.6M143.8 87.8h.6M169.8 95.1h.6M135.2 55.3h.6M137.6 78.6h.6M145.4 38.7h.6M138.7 80.6h.6M185.9 72.2h.6M151.8 99.6h.6M163.1 54.6h.6M162.9 71.3h.6M158.8 97.2h.6M202.3 44.8h.6M159.0 52.5h.6M132.5 66.1h.6M151.9 96.1h.6M183.2 37.5h.6M155.4 97.6h.6M134.9 42.5h.6M137.5 82.5h.6M131.8 56.6h.6M190.3 102.8h.6M159.7 101.6h.6M192.6 53.9h.6M161.0 73.3h.6M201.7 100.0h.6M132.3 50.8h.6M161.2 61.4h.6M191.3 99.7h.6M156.4 100.0h.6M140.3 75.3h.6M188.9 86.2h.6M193.9 87.6h.6M158.7 51.8h.6M181.6 99.1h.6M134.0 55.9h.6M164.0 40.5h.6M155.1 51.3h.6M200.1 90.4h.6M155.1 51.1h.6M178.0 62.5h.6M136.1 68.2h.6M154.7 100.0h.6M148.9 47.0h.6M150.0 43.5h.6M157.2 48.1h.6M193.5 83.8h.6M153.1 46.0h.6M187.6 85.5h.6M144.4 97.6h.6M186.8 70.8h.6M191.7 78.6h.6M135.0 45.3h.6M162.8 99.3h.6M154.0 47.7h.6M165.8 73.1h.6M141.7 91.8h.6M134.3 75.9h.6M161.2 69.6h.6M140.3 46.8h.6M135.2 72.1h.6M198.0 85.1h.6M135.8 68.1h.6M134.6 74.4h.6M153.5 101.3h.6M134.6 48.2h.6M147.1 97.8h.6M138.3 75.0h.6M143.7 43.3h.6M132.6 72.9h.6M152.5 41.1h.6M134.4 47.8h.6M165.4 70.7h.6M140.8 44.6h.6M189.2 84.4h.6M189.0 90.7h.6M136.4 76.6h.6M165.6 102.6h.6M185.6 76.3h.6M168.5 53.6h.6M145.8 94.8h.6M133.0 60.1h.6M180.7 65.9h.6M193.6 100.9h.6M159.9 67.5h.6M188.8 74.5h.6M178.4 96.4h.6M194.9 83.8h.6M156.7 57.4h.6M150.9 42.6h.6M157.9 50.5h.6M149.9 102.1h.6M155.3 99.4h.6M174.5 67.5h.6M133.8 76.6h.6M200.6 92.4h.6M160.9 98.0h.6M170.6 95.1h.6M192.4 101.9h.6M138.6 97.0h.6M180.4 66.5h.6M163.8 96.6h.6M170.3 97.5h.6M141.1 47.7h.6M200.7 82.1h.6M132.1 60.8h.6M152.7 96.8h.6M183.5 58.7h.6M144.0 29.1h.6M158.2 52.9h.6M139.1 67.1h.6M136.4 63.7h.6M166.7 69.0h.6M140.6 77.8h.6M156.8 43.4h.6M166.6 68.7h.6M172.1 97.2h.6M135.4 48.8h.6M161.7 40.6h.6M134.6 83.8h.6M134.6 50.3h.6M141.5 83.7h.6M152.9 49.0h.6M141.8 85.9h.6M158.4 68.0h.6M143.4 47.6h.6M194.0 90.6h.6M135.8 65.9h.6M156.6 102.8h.6M138.1 65.1h.6M133.7 61.7h.6M139.8 95.8h.6M140.8 91.6h.6M134.4 53.0h.6M132.3 94.2h.6M132.7 59.9h.6M155.3 52.3h.6M161.4 95.5h.6M189.0 90.2h.6M188.3 81.3h.6M183.0 72.8h.6M155.3 48.6h.6M153.6 41.5h.6M196.6 89.3h.6M180.2 66.0h.6M163.2 70.7h.6M149.6 98.0h.6M135.2 48.6h.6M182.9 74.4h.6M148.4 44.2h.6M134.9 51.0h.6M165.4 100.0h.6M134.2 49.2h.6M158.1 99.6h.6M140.5 76.7h.6M158.7 52.3h.6M133.8 45.0h.6M159.0 72.2h.6M185.8 89.7h.6M190.1 75.2h.6M159.7 60.0h.6M160.3 51.1h.6M185.1 59.8h.6M158.6 70.2h.6M146.9 39.4h.6M191.4 80.8h.6M192.2 64.9h.6M167.3 95.4h.6M166.1 102.2h.6M189.2 52.2h.6M133.2 49.9h.6M207.1 70.7h.6M133.4 62.6h.6M136.4 49.0h.6M134.0 55.3h.6M143.3 88.7h.6M166.7 71.4h.6M157.6 66.5h.6M136.9 66.4h.6M191.1 78.8h.6M158.9 71.9h.6M158.9 72.1h.6M169.6 99.8h.6M157.4 55.4h.6M136.0 66.3h.6M166.2 71.1h.6M139.6 46.5h.6M136.2 48.3h.6M159.6 102.2h.6M155.0 96.2h.6M159.5 101.6h.6M170.0 45.6h.6M163.1 55.7h.6M179.0 69.4h.6M174.5 70.8h.6M145.8 36.5h.6M138.3 101.4h.6M140.5 82.2h.6M180.8 69.6h.6M176.9 94.7h.6M154.5 28.5h.6M165.0 64.5h.6M148.9 39.8h.6M138.6 47.6h.6M156.2 96.9h.6M132.6 53.8h.6M159.0 67.9h.6M136.5 89.6h.6M191.4 78.0h.6M158.9 57.5h.6M148.0 43.1h.6M133.1 57.9h.6M134.1 44.6h.6M192.0 82.4h.6M132.8 44.1h.6M198.6 87.6h.6M174.1 61.0h.6M188.4 78.2h.6M151.1 48.0h.6M187.4 76.9h.6M159.4 66.9h.6M140.4 44.4h.6M168.4 98.1h.6M166.2 59.4h.6M153.7 47.6h.6M175.7 50.3h.6M135.2 68.5h.6M172.5 98.3h.6M195.1 83.2h.6M141.7 88.8h.6M159.4 97.9h.6M135.2 75.4h.6M188.1 89.1h.6M183.9 90.9h.6M149.8 47.9h.6M159.3 46.3h.6M158.1 98.2h.6M185.6 97.1h.6M145.0 30.2h.6M142.5 86.6h.6M137.1 65.1h.6M145.2 94.9h.6M180.5 69.6h.6M176.5 97.6h.6M163.0 68.9h.6M156.8 95.3h.6M140.3 73.3h.6M174.1 68.0h.6M150.7 100.6h.6M147.6 102.1h.6M134.3 56.8h.6M168.7 69.2h.6M142.3 86.6h.6M138.9 68.2h.6M170.7 71.3h.6M132.3 74.6h.6M158.7 50.1h.6M156.1 101.4h.6M142.2 86.3h.6M170.0 40.6h.6M187.8 79.5h.6M165.9 73.0h.6M138.3 48.7h.6M183.6 69.9h.6M167.3 61.8h.6M143.2 88.7h.6M175.5 67.4h.6M145.4 28.9h.6M182.7 69.8h.6M172.6 71.8h.6M169.8 70.0h.6M159.8 52.3h.6M134.1 50.0h.6M140.1 88.1h.6M155.5 100.8h.6M186.7 87.2h.6M150.8 46.2h.6M142.8 95.6h.6M149.3 103.0h.6M160.5 69.7h.6M142.9 85.9h.6M183.1 98.9h.6M188.4 81.2h.6M159.3 41.4h.6M180.7 100.6h.6M173.5 71.4h.6M166.1 70.7h.6M174.2 102.7h.6M180.3 69.0h.6M170.1 96.2h.6M167.9 72.1h.6M142.1 82.3h.6M165.8 102.5h.6M191.6 67.4h.6M184.6 76.4h.6M141.1 75.3h.6M202.4 76.4h.6M158.5 59.9h.6M171.6 71.1h.6M137.4 67.7h.6M174.0 102.8h.6M132.0 51.4h.6M140.3 82.4h.6M134.2 53.0h.6M153.2 95.3h.6M194.1 79.3h.6M145.2 46.4h.6M152.7 41.3h.6M190.1 29.0h.6M159.6 63.4h.6M187.6 82.1h.6M184.4 93.6h.6M149.8 101.8h.6M134.9 79.0h.6M157.8 65.5h.6M191.2 91.0h.6M161.8 39.0h.6M182.9 74.3h.6M203.9 76.6h.6M133.6 38.9h.6M159.7 56.0h.6M187.1 87.0h.6M161.3 102.6h.6M171.6 61.2h.6M148.8 95.2h.6M159.9 102.1h.6M145.1 96.0h.6M168.4 97.8h.6M158.8 68.3h.6M191.7 78.1h.6M141.1 84.5h.6M192.2 71.4h.6M142.2 80.3h.6M152.9 38.7h.6M157.0 96.0h.6M140.4 83.7h.6M158.8 68.6h.6M177.2 71.7h.6M156.8 55.5h.6M144.8 92.7h.6M149.6 95.3h.6M174.4 70.5h.6M173.2 95.8h.6M137.4 66.7h.6M140.3 71.7h.6M157.2 101.5h.6M134.8 93.1h.6M137.3 48.2h.6M157.6 62.1h.6M141.2 74.7h.6M138.5 72.2h.6M137.8 66.5h.6M160.3 63.8h.6M185.8 78.1h.6M202.7 68.8h.6M160.7 49.6h.6M197.7 72.3h.6M143.4 99.7h.6M166.6 40.7h.6M179.8 69.0h.6M134.2 85.5h.6M184.2 71.8h.6M134.2 64.0h.6M138.8 66.3h.6M162.2 66.0h.6M131.8 56.2h.6M170.9 68.1h.6M173.3 71.8h.6M143.5 96.2h.6M137.1 60.7h.6M194.7 85.3h.6M191.7 85.0h.6M193.3 83.4h.6M137.1 87.4h.6M179.9 93.8h.6M154.0 99.1h.6M166.3 99.3h.6M153.0 48.2h.6M164.4 70.4h.6M140.3 71.5h.6M198.6 69.8h.6M142.9 85.5h.6M136.2 87.1h.6M162.2 95.7h.6M156.9 57.5h.6M170.9 70.4h.6M179.0 102.5h.6M182.1 95.1h.6M148.5 43.9h.6M136.6 95.1h.6M151.3 45.8h.6M181.2 39.1h.6M135.5 86.6h.6M161.3 102.6h.6M181.7 69.0h.6M164.8 97.4h.6M158.6 43.7h.6M163.4 74.1h.6M203.1 69.8h.6M188.9 90.3h.6M162.5 35.8h.6M178.1 94.5h.6M153.1 44.8h.6M187.4 95.4h.6M132.3 67.9h.6M136.3 89.6h.6M183.7 72.1h.6M133.2 77.8h.6M138.5 48.0h.6M132.9 66.7h.6M181.7 98.3h.6M138.9 70.2h.6M139.7 83.0h.6M189.1 84.6h.6M135.3 93.9h.6M192.4 99.6h.6M173.4 70.4h.6M189.4 95.9h.6M188.7 92.9h.6M173.4 96.2h.6M163.9 96.7h.6M140.4 77.1h.6M158.6 97.4h.6M184.5 91.8h.6M139.7 40.6h.6M191.1 74.4h.6M195.5 77.0h.6M154.7 48.7h.6M134.2 53.8h.6M188.5 88.2h.6M198.1 78.7h.6M182.5 61.0h.6M135.2 58.1h.6M192.3 94.3h.6M135.9 49.2h.6M162.5 57.6h.6M189.0 97.5h.6M189.7 78.6h.6M163.4 65.8h.6M132.1 52.4h.6M183.9 94.6h.6M146.3 95.5h.6M138.9 69.2h.6M132.3 46.0h.6M149.7 45.6h.6M163.2 71.1h.6M133.3 52.9h.6M136.2 90.6h.6M178.7 101.6h.6M188.7 73.3h.6M158.7 96.0h.6M140.0 47.6h.6M198.0 78.0h.6M190.6 86.3h.6M157.4 65.9h.6M182.0 70.3h.6M187.2 61.8h.6M134.9 79.4h.6M185.6 74.4h.6M138.0 65.6h.6M190.8 81.9h.6M199.0 102.2h.6M166.1 34.0h.6M167.2 67.7h.6M187.5 82.2h.6M148.9 96.4h.6M143.6 92.6h.6M175.8 94.5h.6M198.7 69.8h.6M151.8 97.9h.6M164.4 51.1h.6M166.7 72.9h.6M158.2 66.6h.6M138.0 37.9h.6M157.2 55.2h.6M157.1 63.7h.6M176.3 94.6h.6M174.6 100.5h.6M177.5 94.3h.6M159.6 66.2h.6M181.7 73.2h.6M163.6 95.2h.6M155.5 47.8h.6M141.4 80.7h.6M136.6 64.2h.6M143.5 92.6h.6M188.2 79.7h.6M160.8 52.4h.6M192.7 95.3h.6M137.6 86.9h.6M185.8 69.6h.6M140.2 91.9h.6M196.0 74.9h.6M191.4 80.8h.6M152.0 102.8h.6M177.5 61.7h.6M188.6 78.1h.6M146.3 95.5h.6M187.2 76.7h.6M132.7 92.1h.6M154.5 42.0h.6M132.9 52.6h.6M137.6 65.5h.6M150.3 46.4h.6M185.9 93.8h.6M145.1 94.7h.6M168.3 67.0h.6M196.1 86.9h.6M185.8 96.0h.6M183.4 42.9h.6M182.3 69.9h.6M141.8 33.3h.6M190.4 76.0h.6M142.5 30.9h.6M156.9 96.1h.6M138.7 71.8h.6M195.6 79.7h.6M155.5 38.5h.6M167.4 26.9h.6M150.9 43.0h.6M156.6 50.5h.6M148.3 100.5h.6M182.7 70.9h.6M142.1 95.7h.6M175.5 95.8h.6M176.4 102.1h.6M159.1 56.1h.6M143.5 88.6h.6M171.8 66.1h.6M159.9 99.9h.6M153.0 96.6h.6M144.7 47.3h.6M199.4 45.0h.6M133.9 51.7h.6M182.0 95.8h.6M137.2 73.5h.6M166.0 102.7h.6M135.5 69.8h.6M156.9 55.8h.6M140.3 89.0h.6M145.6 44.0h.6M194.1 65.6h.6M171.1 102.3h.6M188.4 97.8h.6M170.2 66.3h.6M156.3 42.3h.6M154.9 51.9h.6M163.1 57.7h.6M141.6 46.8h.6M145.0 93.9h.6M135.4 60.4h.6M146.3 47.3h.6M145.8 41.4h.6M172.6 63.1h.6M168.1 67.9h.6M185.7 59.0h.6M144.8 44.3h.6M178.0 70.5h.6M160.8 55.7h.6M162.8 72.6h.6M160.1 100.2h.6M158.5 48.8h.6M185.5 89.4h.6M134.2 62.3h.6M188.8 83.0h.6M187.7 91.5h.6M147.6 95.1h.6M136.7 65.3h.6M140.5 37.7h.6M159.9 56.2h.6M164.3 73.0h.6M188.3 80.9h.6M172.2 70.0h.6M175.4 94.5h.6M159.8 69.2h.6M158.3 66.7h.6M156.4 53.0h.6M187.0 75.2h.6M145.0 94.7h.6M137.9 76.5h.6M159.1 63.1h.6M167.0 51.9h.6M165.3 71.2h.6M138.6 84.5h.6M180.0 70.9h.6M150.1 98.5h.6M161.0 48.2h.6M141.5 84.5h.6M140.7 85.7h.6M140.4 86.0h.6M204.0 88.1h.6M151.4 97.0h.6M138.7 66.0h.6M176.7 64.8h.6M184.8 71.7h.6M186.0 90.3h.6M143.0 46.0h.6M176.6 58.3h.6M148.5 45.6h.6M144.3 92.8h.6M162.1 56.3h.6M132.1 76.2h.6M188.3 69.1h.6M159.8 59.4h.6M139.7 79.9h.6M142.9 88.1h.6M175.4 71.3h.6M180.6 70.1h.6M137.6 74.8h.6M155.8 47.0h.6M192.1 97.8h.6M174.6 63.9h.6M140.3 46.4h.6M171.5 95.7h.6M161.1 73.8h.6M159.0 53.9h.6M134.1 73.0h.6M137.7 73.0h.6M153.0 44.8h.6M143.8 43.0h.6M141.5 84.4h.6M134.8 70.0h.6M181.4 95.3h.6M159.8 53.2h.6M159.3 62.8h.6M165.2 45.4h.6M156.8 46.7h.6M192.7 75.8h.6M181.0 71.9h.6M189.6 78.7h.6M151.8 96.4h.6M182.2 72.0h.6M136.1 63.7h.6M159.2 59.4h.6M192.0 57.0h.6M153.2 46.8h.6M172.2 58.0h.6M141.8 84.2h.6M192.3 68.8h.6M159.3 49.1h.6M141.9 35.8h.6M141.8 91.6h.6M163.1 73.3h.6M160.7 70.0h.6M152.9 98.4h.6M137.3 43.4h.6M166.7 69.9h.6M143.2 87.2h.6M137.8 89.1h.6M143.5 87.9h.6M156.7 27.9h.6M176.5 97.2h.6M143.8 47.1h.6M140.1 76.6h.6M156.9 42.6h.6M134.3 45.7h.6M136.8 61.7h.6M170.9 67.7h.6M198.5 92.0h.6M204.0 80.6h.6M168.9 97.0h.6M172.9 67.3h.6M163.4 64.0h.6M136.3 60.0h.6M149.3 48.2h.6M154.0 45.4h.6M167.0 52.4h.6M171.2 64.3h.6M186.1 67.2h.6M156.9 58.3h.6M144.1 99.1h.6M190.6 89.4h.6M134.7 44.0h.6M171.9 100.9h.6M167.6 100.4h.6M171.8 96.1h.6M152.5 40.7h.6M169.2 70.9h.6M137.0 80.1h.6M133.0 46.4h.6M167.2 48.7h.6M189.6 84.7h.6M188.9 80.1h.6M142.3 98.4h.6M133.6 59.5h.6M206.3 83.9h.6M154.0 46.6h.6M145.3 42.8h.6M179.1 99.5h.6M131.9 75.0h.6M172.1 50.6h.6M148.9 33.1h.6M182.0 98.6h.6M170.1 100.0h.6M142.8 94.0h.6M174.2 67.5h.6M168.9 67.7h.6M159.3 45.1h.6M188.5 75.8h.6M136.2 61.6h.6M185.3 58.1h.6M156.7 58.6h.6M134.9 46.4h.6M186.1 74.8h.6M149.3 46.1h.6M159.3 67.8h.6M140.4 93.2h.6M157.8 56.5h.6M174.3 95.0h.6M138.2 73.9h.6M174.2 71.6h.6M170.1 97.9h.6M156.0 48.0h.6M133.1 48.5h.6M164.6 63.5h.6M140.1 85.7h.6M187.4 80.7h.6M142.7 90.8h.6M186.3 77.6h.6M166.1 66.1h.6M160.4 60.1h.6M189.1 87.9h.6M185.4 95.6h.6M198.0 92.9h.6M153.3 98.5h.6M170.5 68.1h.6M162.7 73.1h.6M168.2 95.7h.6M159.1 40.1h.6M144.4 91.2h.6M141.2 98.7h.6M185.1 72.0h.6M156.5 54.8h.6M155.9 96.2h.6M166.4 101.3h.6M133.0 57.8h.6M143.6 46.4h.6M164.8 98.1h.6M190.4 76.6h.6M146.0 46.8h.6M170.3 37.9h.6M133.9 80.5h.6M142.4 97.0h.6M167.8 59.9h.6M134.4 50.0h.6M171.6 67.2h.6M174.5 95.8h.6M143.0 83.6h.6M147.6 44.9h.6M185.5 94.2h.6M144.3 90.8h.6M158.9 55.2h.6M161.1 46.6h.6M158.9 64.7h.6M161.3 101.5h.6M134.8 72.3h.6M162.3 63.0h.6M167.9 44.1h.6M141.3 77.0h.6M153.0 43.3h.6M164.1 54.1h.6M146.6 94.0h.6M160.3 64.3h.6M155.9 50.0h.6M161.1 72.4h.6M189.0 84.5h.6M194.5 80.6h.6M157.9 68.0h.6M136.9 99.3h.6M136.5 67.7h.6M153.3 97.2h.6M176.4 98.5h.6M149.8 102.3h.6M132.6 65.4h.6M133.5 63.0h.6M159.7 49.9h.6M193.7 26.8h.6M132.7 52.9h.6M179.0 63.7h.6M185.2 91.1h.6M155.8 34.9h.6M137.1 65.4h.6M190.5 30.7h.6M188.4 90.0h.6M177.1 96.5h.6M136.2 42.9h.6M184.5 76.3h.6M188.9 90.9h.6M147.1 40.7h.6M136.6 60.8h.6M174.9 101.0h.6M142.4 82.4h.6M185.9 89.2h.6M183.3 93.6h.6M186.8 79.3h.6M140.2 33.7h.6M138.0 90.0h.6M135.7 60.1h.6M163.3 43.4h.6M138.5 46.5h.6M158.0 52.0h.6M186.7 92.3h.6M155.3 28.8h.6M191.6 87.6h.6M139.0 90.7h.6M190.1 70.7h.6M201.5 81.9h.6M155.7 96.0h.6M164.4 54.8h.6M161.4 74.1h.6M186.5 94.0h.6M176.8 70.1h.6M162.9 73.7h.6M186.3 89.0h.6M140.2 46.9h.6M179.7 64.9h.6M167.4 72.1h.6M150.0 103.1h.6M153.5 41.4h.6M132.6 71.5h.6M176.3 97.5h.6M139.9 74.6h.6M187.0 83.5h.6M188.5 52.2h.6M159.4 73.2h.6M137.6 48.8h.6M153.4 47.1h.6M141.7 79.1h.6M191.6 80.7h.6M165.7 98.7h.6M180.5 99.0h.6M193.7 64.1h.6M144.1 97.9h.6M157.6 66.3h.6M182.1 69.0h.6M160.7 64.6h.6M167.7 95.8h.6M133.6 69.0h.6M140.2 90.6h.6M141.2 82.0h.6M177.1 60.8h.6M156.8 95.4h.6M186.6 79.6h.6M147.2 95.2h.6M153.1 96.6h.6M192.3 89.0h.6M136.5 63.4h.6M142.0 97.4h.6M187.7 85.1h.6M133.8 43.9h.6M179.3 72.2h.6M181.1 94.5h.6M141.9 90.2h.6M197.9 73.1h.6M186.7 87.1h.6M166.4 68.1h.6M178.5 94.7h.6M139.8 84.4h.6M141.4 39.2h.6M135.5 100.1h.6M137.4 72.8h.6M180.8 51.5h.6M134.6 54.4h.6M134.9 64.0h.6M157.1 58.1h.6M140.4 37.7h.6M173.0 53.1h.6M132.0 48.6h.6M150.8 46.2h.6M132.7 57.8h.6M180.4 70.8h.6M149.3 47.7h.6M136.3 60.8h.6M135.8 81.9h.6M164.4 60.7h.6M158.8 97.4h.6M138.1 93.1h.6M134.4 48.7h.6M201.7 93.5h.6M154.2 39.3h.6M154.9 38.7h.6M188.8 66.5h.6M159.4 100.3h.6M179.3 71.3h.6M175.1 61.6h.6M187.2 89.7h.6M141.5 80.0h.6M161.5 95.4h.6M148.1 46.7h.6M137.7 65.0h.6M153.7 47.4h.6M147.0 35.4h.6M154.0 95.1h.6M163.1 61.5h.6M188.4 89.1h.6M141.2 93.0h.6M136.8 61.5h.6M177.3 94.0h.6M196.5 90.5h.6M186.5 95.8h.6M142.6 41.0h.6M147.2 94.6h.6M152.6 100.8h.6M175.8 95.2h.6M134.4 67.9h.6M154.4 95.1h.6M179.6 72.5h.6M172.3 63.0h.6M185.2 75.6h.6M145.5 41.7h.6M180.9 72.5h.6M135.0 61.7h.6M139.4 76.9h.6M146.1 98.3h.6M161.5 96.9h.6M170.1 96.2h.6M156.4 47.0h.6M160.0 28.7h.6M142.3 93.2h.6M161.1 45.1h.6M140.3 100.2h.6M138.5 81.2h.6M137.0 97.8h.6M183.5 94.7h.6M169.6 99.0h.6M199.2 103.3h.6M135.1 49.9h.6M159.3 70.5h.6M132.6 51.9h.6M139.8 95.0h.6M173.5 96.8h.6M139.9 89.7h.6M182.7 60.7h.6M171.9 67.4h.6M174.9 99.5h.6M151.6 97.4h.6M177.0 71.0h.6M134.7 62.9h.6M190.2 72.7h.6M152.5 47.3h.6M156.7 50.9h.6M159.6 63.9h.6M138.2 43.2h.6M164.9 73.7h.6M173.5 66.6h.6M185.5 103.1h.6M164.8 56.0h.6M150.3 102.3h.6M135.2 86.2h.6M132.0 63.3h.6M142.9 90.5h.6M169.9 96.9h.6M185.4 71.4h.6M160.7 61.8h.6M157.9 54.5h.6M188.9 76.1h.6M140.7 45.3h.6M132.5 80.6h.6M144.9 47.7h.6M186.8 76.8h.6M188.1 87.2h.6M149.2 41.4h.6M144.1 41.8h.6M163.8 58.4h.6M188.2 69.4h.6M206.1 59.1h.6M186.6 76.8h.6M176.3 71.7h.6M158.0 46.5h.6M139.9 72.9h.6M165.6 49.8h.6M138.4 80.9h.6M141.4 94.1h.6M153.5 49.3h.6M157.7 66.8h.6M207.1 51.1h.6M134.7 42.0h.6M161.7 96.3h.6M144.9 102.1h.6M193.0 99.0h.6M135.1 56.4h.6M163.3 99.3h.6M165.1 99.8h.6M133.4 53.4h.6M165.7 64.8h.6M134.8 54.9h.6M133.9 37.4h.6M174.5 97.3h.6M169.1 71.8h.6M139.3 95.1h.6M182.0 52.1h.6M143.8 42.1h.6M136.2 79.6h.6M182.8 52.9h.6M207.8 100.9h.6M140.0 82.7h.6M132.1 95.9h.6M181.5 96.9h.6M173.7 68.1h.6M132.9 66.5h.6M167.9 72.0h.6M143.1 87.2h.6M133.6 48.4h.6M133.9 30.5h.6M160.0 95.9h.6M169.6 101.2h.6M140.7 94.6h.6M167.3 99.9h.6M143.5 92.1h.6M198.9 83.0h.6M138.5 66.4h.6M181.7 70.3h.6M159.5 53.4h.6M161.3 64.6h.6M136.1 70.3h.6M184.8 76.5h.6M153.8 48.9h.6M189.7 84.3h.6M138.6 93.9h.6M163.5 69.3h.6M150.9 40.0h.6M135.7 70.4h.6M135.5 96.5h.6M190.0 88.6h.6M142.5 80.6h.6M163.9 60.1h.6M135.0 77.2h.6M156.1 98.6h.6M142.0 83.1h.6M153.5 40.5h.6M136.7 63.6h.6M154.2 47.7h.6M133.9 57.2h.6M136.4 62.1h.6M137.4 77.1h.6M147.5 96.4h.6M195.2 77.5h.6M181.7 101.6h.6M164.5 95.6h.6M132.4 56.6h.6M137.1 47.6h.6M183.5 72.5h.6M151.1 39.2h.6M138.1 93.1h.6M189.2 79.4h.6M145.6 39.9h.6M141.1 40.4h.6M191.6 72.7h.6M133.2 66.3h.6M160.4 69.1h.6M137.7 42.1h.6M189.5 73.2h.6M159.1 49.3h.6M134.9 71.0h.6M162.9 95.3h.6M149.8 103.1h.6M160.9 29.7h.6M199.1 79.1h.6M169.0 67.3h.6M187.7 94.9h.6M186.2 94.9h.6M154.0 50.1h.6M164.4 97.8h.6M141.5 94.7h.6M149.0 99.8h.6M169.8 70.2h.6M176.6 69.5h.6M135.6 68.5h.6M153.5 49.9h.6M178.2 62.2h.6M155.0 48.9h.6M142.4 87.5h.6M160.1 96.8h.6M190.4 82.7h.6M192.6 53.1h.6M164.2 100.4h.6M142.3 79.1h.6M182.9 63.6h.6M134.2 76.6h.6M160.6 31.7h.6M141.6 84.0h.6M149.1 38.2h.6M192.4 75.2h.6M132.8 46.4h.6M140.1 47.4h.6M135.5 81.5h.6M136.9 97.6h.6M161.0 54.6h.6M160.5 95.3h.6M139.5 93.1h.6M138.0 102.0h.6M156.7 95.3h.6M150.8 45.1h.6M155.9 40.5h.6M138.8 91.7h.6M158.9 97.3h.6M167.6 95.0h.6M170.6 99.7h.6M193.2 82.8h.6M171.5 69.9h.6M183.7 54.0h.6M149.3 99.6h.6M148.5 44.5h.6M134.4 56.1h.6M164.9 73.2h.6M148.6 48.1h.6M182.4 74.1h.6M176.5 99.7h.6M157.3 57.1h.6M175.0 70.6h.6M142.9 93.0h.6M185.8 99.7h.6M136.6 67.8h.6M187.4 86.2h.6M131.8 37.4h.6M191.1 87.7h.6M172.7 97.6h.6M189.5 102.9h.6M198.2 80.1h.6M180.3 94.0h.6M169.9 43.5h.6M205.1 75.6h.6M164.7 40.9h.6M134.9 46.0h.6M152.4 97.6h.6M162.4 64.0h.6M168.9 65.9h.6M172.4 98.7h.6M177.3 70.4h.6M157.3 51.9h.6M155.9 39.5h.6M171.9 96.3h.6M143.0 87.9h.6M152.1 44.7h.6M193.1 68.1h.6M134.3 72.4h.6M174.5 71.4h.6M165.7 44.1h.6M190.6 92.6h.6M138.6 71.4h.6M192.8 81.0h.6M138.3 74.3h.6M145.0 100.5h.6M143.2 46.2h.6M137.4 34.4h.6M140.5 73.5h.6M181.6 97.6h.6M186.5 91.7h.6M146.2 101.4h.6M168.8 103.2h.6M188.6 80.1h.6M136.1 72.5h.6M161.8 50.8h.6M194.7 88.9h.6M153.8 46.8h.6M136.2 97.5h.6M141.4 47.2h.6M160.4 52.6h.6M189.4 83.6h.6M187.5 98.0h.6M159.3 72.8h.6M159.7 53.2h.6M176.1 94.8h.6M193.1 69.0h.6M166.1 99.9h.6M132.9 48.8h.6M185.8 99.2h.6M158.6 39.6h.6M162.4 44.8h.6" stroke="#111" stroke-width="0.65" stroke-opacity="0.8" fill="none"/>
<path d="M164.7 70.4h.6M184.9 46.0h.6M177.5 64.1h.6M164.1 58.1h.6M177.8 46.4h.6M165.9 66.0h.6M187.8 63.7h.6M177.5 47.5h.6M180.1 51.0h.6M181.6 45.6h.6M187.1 67.8h.6M190.5 71.2h.6M176.9 73.0h.6M169.4 57.9h.6M173.5 67.3h.6M174.6 55.3h.6M190.2 73.1h.6M168.3 70.6h.6M184.5 46.1h.6M186.5 68.9h.6M188.9 48.3h.6M185.2 54.8h.6M182.7 69.1h.6M178.9 59.9h.6M172.9 69.3h.6M177.4 64.5h.6M180.4 56.6h.6M166.5 62.7h.6M185.9 55.1h.6M173.6 61.9h.6M171.0 71.3h.6M188.7 70.1h.6M184.9 51.6h.6M169.6 50.3h.6M175.2 52.1h.6M177.2 54.7h.6M188.3 50.2h.6M169.7 63.8h.6M184.2 56.9h.6M186.9 48.7h.6M171.6 59.1h.6M184.5 54.8h.6M190.9 56.2h.6M187.3 59.7h.6M186.6 58.7h.6M182.5 47.9h.6M178.1 53.3h.6M178.7 56.0h.6M171.4 70.2h.6M175.9 43.8h.6M184.4 69.9h.6M186.1 68.6h.6M184.9 52.5h.6M191.0 68.8h.6M183.0 48.6h.6M189.9 65.9h.6M178.5 46.1h.6M179.4 63.4h.6M181.6 58.1h.6M180.3 72.8h.6M166.4 66.7h.6M176.2 61.0h.6M170.3 71.4h.6M186.3 58.5h.6M169.2 62.5h.6M183.7 45.8h.6M171.7 72.2h.6M177.5 46.7h.6M184.5 52.0h.6M167.4 59.7h.6M185.3 51.2h.6M180.9 61.5h.6M186.4 65.9h.6M171.8 48.1h.6M171.1 55.6h.6M167.2 56.0h.6M175.5 62.6h.6M177.8 55.9h.6M176.4 52.2h.6M174.1 51.4h.6M185.0 46.0h.6M175.6 56.2h.6M165.4 66.5h.6M176.4 72.4h.6M171.6 57.5h.6M188.8 59.1h.6M184.3 58.9h.6M189.3 53.0h.6M188.3 63.5h.6M189.7 56.3h.6M173.7 45.3h.6M175.4 53.0h.6M181.7 68.9h.6M169.6 55.5h.6M185.7 60.9h.6M181.6 48.9h.6M181.6 58.0h.6M165.4 67.7h.6M183.2 45.8h.6M164.1 69.2h.6M187.8 65.8h.6M184.3 66.2h.6M185.5 67.7h.6M173.9 52.0h.6M185.9 54.5h.6M168.7 54.1h.6M173.8 47.0h.6M165.7 59.9h.6M170.4 59.5h.6M179.9 50.9h.6M180.7 70.2h.6M178.9 59.1h.6M189.8 48.0h.6M175.4 64.5h.6M171.3 57.9h.6M167.8 61.4h.6M184.6 58.4h.6M188.6 54.2h.6M179.3 58.7h.6M166.0 55.4h.6M172.5 62.6h.6M178.0 62.1h.6M164.1 71.0h.6M186.2 48.1h.6M188.1 64.9h.6M169.3 72.9h.6M173.0 69.9h.6M177.3 69.3h.6M175.7 51.2h.6M175.3 60.8h.6M167.5 56.9h.6M175.0 58.8h.6M178.4 49.2h.6M168.9 61.0h.6M178.3 61.2h.6M181.2 53.0h.6M179.2 66.9h.6M190.4 53.6h.6M179.3 60.3h.6M164.5 71.8h.6M164.9 64.3h.6M168.8 59.9h.6M182.9 70.4h.6M175.5 53.7h.6M185.9 68.9h.6M174.3 57.1h.6M172.0 45.6h.6M180.6 65.9h.6M176.7 52.4h.6M171.1 55.7h.6M177.7 72.9h.6M175.5 69.3h.6M178.0 58.5h.6M179.3 66.2h.6M181.7 71.5h.6M178.1 62.2h.6M173.7 63.5h.6M173.3 60.7h.6M175.1 54.9h.6M187.3 47.7h.6M177.7 54.1h.6M174.0 71.5h.6M164.5 66.4h.6M187.9 52.4h.6M179.2 60.8h.6M168.9 58.0h.6M181.3 69.6h.6M188.5 60.3h.6M185.5 49.9h.6M167.9 60.3h.6M177.0 56.7h.6M189.1 66.2h.6M172.9 61.7h.6M188.2 64.4h.6M184.4 67.9h.6M171.0 48.1h.6M184.7 72.6h.6M180.1 57.3h.6M172.9 52.9h.6M183.8 64.9h.6M183.5 58.9h.6M164.2 70.6h.6M175.0 72.6h.6M169.3 50.2h.6M174.6 54.1h.6" stroke="#222" stroke-width="0.65" stroke-opacity="0.8" fill="none"/>
<path d="M145.4 38.3h.6M163.8 45.7h.6M150.7 40.0h.6M152.9 46.3h.6M169.2 45.7h.6M149.0 40.7h.6M159.1 43.2h.6M158.1 45.8h.6M149.9 41.9h.6M159.9 42.3h.6M164.4 41.7h.6M151.3 42.1h.6M166.4 42.5h.6M141.6 43.5h.6M145.4 46.0h.6M143.3 42.4h.6M153.2 41.9h.6M160.1 43.3h.6M139.6 39.3h.6M161.3 46.2h.6M143.4 41.7h.6M170.7 39.3h.6M154.9 40.5h.6M142.4 43.6h.6M165.7 41.9h.6M166.3 45.0h.6M170.6 38.3h.6M145.7 44.4h.6M168.0 40.0h.6M137.6 41.8h.6M160.9 42.4h.6M166.0 45.4h.6M146.1 46.3h.6M143.9 44.9h.6M141.6 43.4h.6M147.9 44.9h.6M156.4 44.5h.6M137.2 41.1h.6M146.2 44.9h.6M146.8 42.6h.6M169.0 43.1h.6M152.6 44.6h.6M152.5 46.4h.6M153.5 46.2h.6M153.8 42.6h.6M155.7 38.5h.6M133.0 39.0h.6M169.4 43.3h.6M161.2 42.3h.6M160.7 43.6h.6M147.0 43.4h.6" stroke="#222" stroke-width="0.65" stroke-opacity="0.8" fill="none"/>
<path d="M135.46,49.44 C136.88,48.65 140.19,47.71 143.03,47.55 C145.87,47.39 150.29,47.39 152.49,48.49 C154.70,49.60 155.49,51.33 156.28,54.17 C157.07,57.01 156.75,62.37 157.23,65.53 C157.70,68.68 158.27,71.52 159.12,73.10 C159.97,74.67 160.92,75.05 162.34,74.99 C163.75,74.93 165.49,73.29 167.63,72.72 C169.78,72.15 173.00,71.46 175.20,71.58 C177.41,71.71 179.24,72.59 180.88,73.48 C182.52,74.36 184.04,75.37 185.05,76.88 C186.05,78.40 186.81,80.60 186.94,82.56 C187.06,84.51 186.65,86.88 185.80,88.62 C184.95,90.35 183.91,91.93 181.83,92.97 C179.75,94.01 176.31,94.51 173.31,94.86 C170.32,95.21 166.69,95.02 163.85,95.05 C161.01,95.08 158.80,95.05 156.28,95.05 C153.76,95.05 150.60,95.49 148.71,95.05 C146.82,94.61 145.81,93.85 144.92,92.40 C144.04,90.95 143.88,88.93 143.41,86.34 C142.94,83.76 142.78,80.04 142.09,76.88 C141.39,73.73 140.19,70.57 139.25,67.42 C138.30,64.27 137.20,60.48 136.41,57.96 C135.62,55.43 134.67,53.70 134.52,52.28 C134.36,50.86 134.04,50.23 135.46,49.44Z" fill="#45519a" />
<ellipse cx="148.71" cy="84.83" rx="4.16" ry="5.30" fill="#72c6ec"/>
<ellipse cx="148.71" cy="85.40" rx="2.84" ry="3.78" fill="#9dca45"/>
<ellipse cx="148.71" cy="85.97" rx="1.51" ry="1.89" fill="#efe43a"/>
<ellipse cx="148.71" cy="86.34" rx="0.85" ry="0.95" fill="#e2412a"/>
<ellipse cx="171.42" cy="86.72" rx="6.43" ry="2.27" fill="#72c6ec"/>
<ellipse cx="169.91" cy="86.72" rx="3.78" ry="1.51" fill="#9dca45"/>
<ellipse cx="179.94" cy="86.72" rx="2.27" ry="0.95" fill="#72c6ec"/>
<path d="M131.68,36.57 L174.83,36.57" fill="none" stroke="#111" stroke-width="1.0" stroke-dasharray="2.6,1.6"/>
<path d="M174.83,36.57 L161.96,59.85 L161.96,103.75" fill="none" stroke="#111" stroke-width="0.9"/>
<path d="M171.04,42.25 L194.51,42.25 L194.51,103.75" fill="none" stroke="#111" stroke-width="0.9"/>
<text x="184.5" y="53" font-size="7.5" text-anchor="start" fill="#1a1a1a" >B</text>
<path d="M229.8 103.4h.6M268.5 94.5h.6M277.1 49.5h.6M273.9 87.8h.6M242.8 71.3h.6M283.3 70.7h.6M231.5 79.0h.6M288.6 79.5h.6M273.6 80.5h.6M277.0 54.3h.6M274.7 94.4h.6M268.0 90.0h.6M241.6 78.3h.6M275.8 44.3h.6M231.7 81.0h.6M244.2 97.2h.6M278.4 91.9h.6M274.7 74.0h.6M256.8 31.9h.6M237.1 80.6h.6M283.3 55.2h.6M283.6 33.3h.6M244.9 75.2h.6M274.5 80.5h.6M279.8 89.6h.6M249.7 73.8h.6M291.4 80.7h.6M268.7 88.6h.6M294.0 28.0h.6M257.5 103.2h.6M301.0 85.8h.6M245.7 74.2h.6M279.0 79.9h.6M275.8 80.0h.6M246.7 77.1h.6M282.6 54.8h.6M253.5 49.8h.6M251.6 53.6h.6M275.6 58.4h.6M257.6 44.5h.6M254.6 47.8h.6M261.3 95.6h.6M303.0 60.7h.6M247.6 77.0h.6M284.8 89.9h.6M248.2 75.3h.6M287.9 29.5h.6M259.5 96.3h.6M294.1 36.3h.6M240.8 79.3h.6M237.8 97.5h.6M272.3 69.6h.6M270.1 44.9h.6M244.9 37.7h.6M273.3 66.7h.6M252.7 59.5h.6M235.3 100.5h.6M286.3 78.1h.6M272.5 72.5h.6M279.3 66.6h.6M260.5 47.4h.6M245.4 50.8h.6M238.3 59.7h.6M240.6 76.6h.6M279.0 56.3h.6M251.9 72.2h.6M273.4 69.9h.6M240.2 96.3h.6M273.8 76.4h.6M279.5 78.8h.6M252.9 58.3h.6M264.5 44.7h.6M232.9 94.0h.6M267.6 42.7h.6M231.0 103.1h.6M269.4 91.4h.6M284.8 77.8h.6M245.0 71.3h.6M289.0 80.8h.6M270.1 96.3h.6M244.5 61.9h.6M268.9 92.3h.6M241.3 75.6h.6M266.2 44.3h.6M263.2 32.8h.6M288.5 56.5h.6M237.7 98.8h.6M278.4 51.1h.6M281.9 89.4h.6M276.3 28.4h.6M248.2 95.5h.6M279.4 50.9h.6M241.0 74.5h.6M251.0 73.4h.6M281.3 89.2h.6M251.9 63.9h.6M294.1 76.8h.6M262.1 92.9h.6M265.6 45.1h.6M298.1 73.2h.6M280.7 69.1h.6M289.2 103.5h.6M268.4 102.0h.6M273.8 62.9h.6M257.5 49.0h.6M275.2 35.4h.6M230.9 33.1h.6M281.8 94.8h.6M271.5 90.4h.6M233.9 44.1h.6M234.5 56.7h.6M238.6 95.2h.6M280.0 63.1h.6M235.0 27.4h.6M253.8 52.0h.6M244.2 61.7h.6M230.1 37.5h.6M251.5 74.1h.6M280.5 38.8h.6M289.1 36.9h.6M276.2 97.0h.6M254.7 54.7h.6M273.6 79.5h.6M238.0 78.9h.6M232.4 96.8h.6M252.8 34.3h.6M300.5 71.7h.6M254.7 40.3h.6M266.6 44.1h.6M273.3 42.0h.6M284.1 78.7h.6M298.0 77.7h.6M289.3 88.4h.6M274.9 77.0h.6M278.7 70.0h.6M264.3 45.8h.6M251.1 58.5h.6M283.8 77.1h.6M231.5 98.1h.6M279.0 55.4h.6M229.2 91.4h.6M278.8 76.7h.6M238.3 99.3h.6M239.5 78.2h.6M280.7 44.1h.6M233.9 58.0h.6M232.7 69.3h.6M265.3 97.8h.6M263.5 91.1h.6M288.7 87.2h.6M278.9 90.3h.6M255.3 95.3h.6M242.2 97.5h.6M278.4 47.3h.6M285.6 89.8h.6M236.7 95.3h.6M235.2 80.6h.6M277.4 51.8h.6M264.0 44.5h.6M275.3 92.8h.6M296.3 75.6h.6M254.3 102.9h.6M289.8 49.7h.6M283.9 95.7h.6M243.5 76.1h.6M230.5 93.0h.6M279.9 45.5h.6M255.6 47.5h.6M228.8 75.6h.6M277.2 50.7h.6M287.0 69.2h.6M293.3 94.0h.6M239.5 73.1h.6M235.4 49.7h.6M249.7 96.4h.6M259.1 48.8h.6M281.0 79.3h.6M295.2 88.3h.6M273.8 79.1h.6M300.3 80.1h.6M277.8 35.9h.6M247.3 61.3h.6M263.2 98.0h.6M276.8 72.3h.6M275.8 48.4h.6M299.9 73.7h.6M293.1 83.2h.6M242.8 79.2h.6M243.1 98.8h.6M282.7 62.5h.6M277.8 55.4h.6M233.7 79.1h.6M246.5 63.6h.6M277.2 51.7h.6M293.7 85.8h.6M291.3 85.2h.6M278.1 76.0h.6M258.7 92.8h.6M245.2 72.9h.6M275.0 66.3h.6M276.7 30.4h.6M278.0 59.5h.6M264.5 42.0h.6M229.1 96.0h.6M279.4 52.5h.6M256.2 39.9h.6M256.0 52.6h.6M293.8 94.3h.6M295.7 81.2h.6M275.0 90.5h.6M276.5 56.1h.6M244.0 75.6h.6M236.6 72.7h.6M294.5 84.1h.6M246.2 59.0h.6M301.1 61.4h.6M243.2 64.0h.6M271.7 101.3h.6M251.8 94.6h.6M272.8 77.0h.6M292.3 88.6h.6M285.1 76.9h.6M251.6 70.2h.6M277.5 66.6h.6M283.6 95.3h.6M284.6 46.7h.6M266.4 89.7h.6M277.8 93.2h.6M290.1 79.4h.6M248.9 66.0h.6M247.4 94.9h.6M304.7 36.6h.6M255.0 97.4h.6M236.4 96.0h.6M238.9 39.3h.6M260.4 97.1h.6M275.3 46.2h.6M295.4 61.4h.6M260.5 93.0h.6M290.5 75.8h.6M243.1 96.2h.6M290.5 86.8h.6M291.7 37.4h.6M256.5 43.2h.6M253.2 46.0h.6M284.9 58.6h.6M229.3 94.7h.6M249.5 75.7h.6M278.1 101.5h.6M270.3 40.6h.6M267.4 46.2h.6M253.4 65.2h.6M296.0 77.8h.6M250.4 71.3h.6M269.3 44.5h.6M284.8 101.8h.6M237.0 78.0h.6M248.3 75.8h.6M296.5 92.2h.6M280.6 69.1h.6M295.0 77.6h.6M255.1 49.7h.6M251.3 65.1h.6M243.4 75.7h.6M254.7 34.9h.6M252.4 74.2h.6M244.8 95.9h.6M277.8 49.9h.6M276.1 79.7h.6M295.3 83.8h.6M295.0 57.5h.6M269.9 45.0h.6M290.5 68.7h.6M281.5 94.3h.6M289.8 74.0h.6M255.5 52.2h.6M246.7 36.9h.6M236.7 79.9h.6M289.6 79.0h.6M281.2 33.7h.6M268.3 91.5h.6M228.9 92.0h.6M248.3 63.1h.6M294.0 65.2h.6M240.4 79.9h.6M252.2 69.1h.6M293.1 94.8h.6M269.3 42.1h.6M239.3 79.5h.6M291.1 47.6h.6M276.0 52.2h.6M271.0 89.5h.6M251.3 95.4h.6M289.6 77.1h.6M256.6 48.1h.6M295.3 93.4h.6M245.5 78.1h.6M248.4 67.6h.6M295.0 84.9h.6M299.4 54.6h.6M300.7 96.2h.6M302.0 27.6h.6M268.5 94.3h.6M278.2 99.8h.6M277.1 62.5h.6M249.7 70.5h.6M252.7 55.1h.6M270.2 93.0h.6M233.3 97.9h.6M252.4 66.5h.6M251.6 97.2h.6M292.8 89.2h.6M245.3 75.3h.6M252.6 33.6h.6M274.9 79.2h.6M232.9 94.2h.6M262.4 101.4h.6M256.3 94.8h.6M294.9 98.0h.6M269.9 89.1h.6M280.2 73.3h.6M241.1 79.2h.6M286.0 57.1h.6M272.3 87.7h.6M301.8 96.5h.6M296.5 86.7h.6M232.5 35.5h.6M276.8 67.7h.6M277.8 66.3h.6M271.8 28.3h.6M275.9 37.3h.6M291.3 84.4h.6M251.9 44.3h.6M296.7 86.2h.6M256.1 47.5h.6M264.8 92.2h.6M273.6 38.5h.6M282.6 78.0h.6M284.5 97.3h.6M233.0 32.9h.6M302.8 103.5h.6M268.3 90.5h.6M243.9 99.6h.6M246.7 78.7h.6M273.0 44.8h.6M278.6 53.1h.6M276.5 65.8h.6M242.5 99.7h.6M244.7 43.3h.6M280.8 79.5h.6M264.4 97.2h.6M284.0 76.4h.6M265.2 41.9h.6M273.6 46.8h.6M252.1 71.8h.6M250.5 59.6h.6M239.0 97.1h.6M234.4 42.0h.6M251.8 67.8h.6M245.4 77.1h.6M290.4 87.1h.6M243.9 54.8h.6M276.0 46.8h.6M253.3 68.2h.6M277.4 37.3h.6M282.3 78.0h.6M243.6 63.5h.6M244.1 102.3h.6M281.3 73.2h.6M259.5 97.8h.6M247.7 62.2h.6M285.2 93.8h.6M237.0 79.8h.6M275.4 76.4h.6M292.4 63.5h.6M268.1 92.2h.6M291.0 42.8h.6M245.0 60.5h.6M253.1 36.3h.6M241.8 98.6h.6M248.5 96.0h.6M285.4 79.6h.6M254.1 95.8h.6M276.1 54.5h.6M282.4 63.8h.6M274.8 88.6h.6M250.9 72.7h.6M278.4 45.0h.6M300.5 28.8h.6M267.4 101.7h.6M268.0 89.9h.6M249.8 49.5h.6M249.1 71.7h.6M260.7 93.3h.6M295.6 100.2h.6M280.2 90.0h.6M246.6 75.6h.6M247.0 96.2h.6M249.3 69.4h.6M270.0 45.8h.6M235.7 94.6h.6M247.4 71.9h.6M267.1 90.5h.6M254.1 95.4h.6M303.0 99.7h.6M245.8 61.5h.6M274.4 77.0h.6M274.2 46.6h.6M289.6 91.7h.6M250.2 69.3h.6M249.0 57.9h.6M287.3 77.2h.6M297.5 87.2h.6M242.8 95.3h.6M253.2 59.1h.6M277.4 88.4h.6M280.3 51.8h.6M241.3 67.9h.6M247.6 56.8h.6M228.7 96.5h.6M244.3 61.7h.6M279.9 52.4h.6M293.2 85.3h.6M265.0 43.8h.6M236.5 77.8h.6M244.5 45.5h.6M248.7 60.0h.6M294.1 76.6h.6M259.0 48.9h.6M251.4 68.9h.6M274.8 90.1h.6M272.5 42.2h.6M234.3 78.6h.6M296.2 62.8h.6M278.0 43.5h.6M232.4 76.0h.6M237.4 77.2h.6M252.2 61.1h.6M299.1 63.0h.6M233.3 80.0h.6M229.3 82.6h.6M286.9 50.8h.6M248.7 46.6h.6M251.6 63.0h.6M247.8 97.2h.6M302.8 30.4h.6M229.4 81.5h.6M251.8 68.5h.6M280.0 79.9h.6M281.9 60.9h.6M236.9 30.3h.6M275.1 96.4h.6M251.1 96.4h.6M245.3 67.8h.6M267.5 44.5h.6M283.8 77.7h.6M237.5 96.7h.6M281.3 44.8h.6M287.5 94.7h.6M286.0 89.4h.6M237.0 58.6h.6M229.3 77.2h.6M247.0 51.7h.6M241.5 102.3h.6M280.9 67.3h.6M239.1 69.7h.6M272.8 74.1h.6M287.1 73.1h.6M301.0 67.1h.6M245.0 78.5h.6M275.9 39.1h.6M293.7 87.1h.6M263.5 101.0h.6M279.4 77.0h.6M273.7 44.6h.6M279.9 44.4h.6M291.4 51.2h.6M289.7 76.0h.6M264.3 43.2h.6M278.3 54.2h.6M245.3 77.4h.6M252.1 63.4h.6M277.3 62.6h.6M255.6 42.7h.6M252.1 69.1h.6M242.8 61.2h.6M288.6 74.8h.6M293.1 88.7h.6M299.5 63.7h.6M247.7 63.1h.6M278.9 46.9h.6M295.2 78.7h.6M239.1 77.0h.6M257.7 94.3h.6M277.7 88.3h.6M247.2 96.6h.6M232.2 68.2h.6M288.5 68.5h.6M269.1 40.9h.6M260.6 46.2h.6M297.2 54.0h.6M254.0 41.0h.6M280.2 45.6h.6M264.8 91.9h.6M258.6 39.5h.6M272.8 74.5h.6M276.1 55.1h.6M241.7 97.9h.6M229.8 78.0h.6M254.4 40.1h.6M269.8 45.5h.6M266.9 93.6h.6M249.8 95.7h.6M275.1 92.0h.6M264.6 94.1h.6M258.0 97.3h.6M240.8 41.8h.6M273.4 45.8h.6M284.0 73.6h.6M247.9 40.3h.6M290.1 91.5h.6M241.0 75.7h.6M248.6 62.8h.6M236.4 79.4h.6M248.8 76.9h.6M248.5 95.4h.6M281.3 75.6h.6M266.6 38.8h.6M294.5 79.9h.6M236.1 73.8h.6M248.6 64.9h.6M276.3 71.9h.6M256.4 27.3h.6M273.9 91.9h.6M275.3 57.7h.6M231.3 101.5h.6M302.2 74.8h.6M287.3 68.9h.6M264.6 93.1h.6M249.6 39.1h.6M280.5 63.2h.6M301.2 79.4h.6M270.3 98.0h.6M272.5 72.6h.6M293.3 87.3h.6M280.1 51.6h.6M278.6 65.1h.6M253.0 49.8h.6M278.6 89.7h.6M300.5 67.8h.6M279.2 80.2h.6M277.4 48.8h.6M240.5 59.5h.6M248.7 76.2h.6M232.8 78.1h.6M285.0 89.1h.6M292.8 52.4h.6M287.3 67.2h.6M298.9 87.4h.6M229.1 82.3h.6M302.9 88.8h.6M233.1 97.1h.6M233.4 77.4h.6M273.1 92.1h.6M237.8 96.8h.6M272.9 87.8h.6M292.0 53.3h.6M292.4 80.3h.6M258.0 50.3h.6M244.7 79.0h.6M279.8 38.2h.6M280.7 42.4h.6M235.4 67.5h.6M252.0 65.9h.6M281.7 77.0h.6M278.2 100.1h.6M289.5 75.9h.6M265.5 34.1h.6M253.7 39.3h.6M267.6 39.8h.6M292.7 87.9h.6M275.7 90.3h.6M288.5 99.7h.6M288.8 91.8h.6M235.8 96.2h.6M275.4 59.3h.6M290.1 103.0h.6M287.1 50.7h.6M275.9 74.9h.6M242.6 98.2h.6M302.8 42.9h.6M287.7 88.8h.6M289.3 90.0h.6M287.6 50.3h.6M303.9 94.4h.6M269.7 46.1h.6M253.2 98.0h.6M242.3 78.5h.6M267.9 46.5h.6M277.5 43.6h.6M276.1 41.1h.6M276.9 78.1h.6M258.8 49.4h.6M264.0 92.8h.6M276.6 56.0h.6M273.7 63.4h.6M231.0 71.9h.6M253.2 30.3h.6M230.6 79.3h.6M235.5 102.1h.6M285.5 75.3h.6M272.3 97.3h.6M303.9 95.6h.6M257.3 49.7h.6M287.9 77.7h.6M238.2 55.7h.6M286.2 48.1h.6M273.8 38.7h.6M259.7 28.1h.6M249.9 56.9h.6M234.6 79.5h.6M237.1 94.5h.6M270.9 95.9h.6M253.9 27.7h.6M269.8 93.8h.6M241.4 95.7h.6M276.0 47.3h.6M249.3 76.8h.6M278.3 91.4h.6M259.4 26.8h.6M275.9 98.6h.6M263.1 44.1h.6M271.0 36.0h.6M278.3 69.2h.6M286.6 89.3h.6M278.3 46.8h.6M277.3 90.2h.6M238.5 80.3h.6M297.3 98.8h.6M245.0 76.8h.6M264.8 39.7h.6M264.6 41.5h.6M285.2 78.1h.6M294.0 69.2h.6M288.1 77.2h.6M255.9 94.5h.6M275.2 69.5h.6M253.2 64.7h.6M253.3 65.6h.6M252.7 72.9h.6M290.7 83.5h.6M249.7 71.2h.6M246.4 58.1h.6M262.2 92.3h.6M280.9 78.5h.6M280.1 55.7h.6M241.9 74.1h.6M244.3 49.0h.6M290.4 79.7h.6M276.4 51.9h.6" stroke="#222" stroke-width="0.65" stroke-opacity="0.8" fill="none"/>
<path d="M253.23,57.01 C254.01,55.12 256.22,51.96 257.96,50.39 C259.69,48.81 261.43,48.24 263.63,47.55 C265.84,46.85 269.15,46.07 271.20,46.22 C273.25,46.38 275.15,47.01 275.94,48.49 C276.72,49.98 276.25,52.91 275.94,55.12 C275.62,57.33 274.67,59.38 274.04,61.74 C273.41,64.11 272.56,66.95 272.15,69.31 C271.74,71.68 271.43,74.04 271.58,75.94 C271.74,77.83 271.90,79.94 273.10,80.67 C274.30,81.39 276.57,80.45 278.77,80.29 C280.98,80.13 284.39,79.50 286.34,79.72 C288.30,79.94 289.81,80.51 290.51,81.61 C291.20,82.72 291.20,85.24 290.51,86.34 C289.81,87.45 288.30,87.92 286.34,88.24 C284.39,88.55 281.30,88.39 278.77,88.24 C276.25,88.08 273.41,86.97 271.20,87.29 C269.00,87.61 267.73,89.18 265.53,90.13 C263.32,91.08 260.48,92.18 257.96,92.97 C255.43,93.76 253.23,94.54 250.39,94.86 C247.55,95.18 243.92,95.02 240.92,94.86 C237.93,94.70 234.30,94.39 232.41,93.91 C230.52,93.44 230.30,92.81 229.57,92.02 C228.84,91.23 228.31,90.44 228.06,89.18 C227.80,87.92 227.65,85.62 228.06,84.45 C228.47,83.28 229.00,82.81 230.52,82.18 C232.03,81.55 234.46,81.23 237.14,80.67 C239.82,80.10 244.08,79.72 246.60,78.77 C249.13,77.83 251.08,76.88 252.28,74.99 C253.48,73.10 253.64,69.63 253.79,67.42 C253.95,65.21 253.32,63.48 253.23,61.74 C253.13,60.01 252.44,58.90 253.23,57.01Z" fill="#45519a" />
<ellipse cx="288.24" cy="64.01" rx="2.84" ry="6.25" fill="#45519a"/>
<path d="M229.95,86.72 C229.95,85.78 233.73,84.51 237.14,83.69 C240.55,82.87 246.92,81.99 250.39,81.80 C253.86,81.61 256.32,81.87 257.96,82.56 C259.60,83.25 260.23,84.89 260.23,85.97 C260.23,87.04 259.60,88.24 257.96,88.99 C256.32,89.75 253.86,90.44 250.39,90.51 C246.92,90.57 240.55,90.00 237.14,89.37 C233.73,88.74 229.95,87.67 229.95,86.72Z" fill="#72c6ec" />
<path d="M234.87,86.53 C234.87,85.90 238.34,85.18 240.92,84.64 C243.51,84.10 247.74,83.41 250.39,83.32 C253.04,83.22 255.50,83.57 256.82,84.07 C258.15,84.58 258.40,85.65 258.34,86.34 C258.27,87.04 257.77,87.76 256.44,88.24 C255.12,88.71 252.97,89.15 250.39,89.18 C247.80,89.21 243.51,88.87 240.92,88.43 C238.34,87.98 234.87,87.16 234.87,86.53Z" fill="#9dca45" />
<ellipse cx="252.66" cy="86.34" rx="3.03" ry="0.95" fill="#efe43a" filter="url(#b05)"/>
<ellipse cx="229.00" cy="85.40" rx="1.14" ry="11.35" fill="#45519a"/>
<ellipse cx="228.81" cy="85.40" rx="0.57" ry="7.95" fill="#5fa88a"/>
<path d="M238.65,35.63 L286.34,35.63 L273.48,64.01 L238.65,64.01 L238.65,35.63" fill="none" stroke="#111" stroke-width="1.0" stroke-dasharray="2.6,1.6"/>
<path d="M282.56,42.25 L303.00,42.25 L303.00,102.43 L275.37,102.43 L275.37,62.69 L282.56,42.25" fill="none" stroke="#111" stroke-width="0.9"/>
<text x="278.3" y="99.3" font-size="7.2" text-anchor="start" fill="#1a1a1a" >Gr-1lo</text>
<clipPath id="c30"><path d="M324.12,103.35 C319.24,99.77 323.59,86.60 324.12,82.19 C324.65,77.78 326.03,78.37 327.29,76.90 C328.55,75.43 330.23,74.49 331.70,73.38 C333.17,72.26 334.64,71.23 336.11,70.20 C337.58,69.17 339.05,68.14 340.52,67.20 C341.99,66.26 343.60,65.29 344.92,64.56 C346.25,63.82 347.28,63.53 348.45,62.80 C349.63,62.06 351.24,61.38 351.98,60.15 C352.71,58.92 353.21,57.45 352.86,55.39 C352.51,53.33 350.42,50.10 349.86,47.81 C349.30,45.51 349.27,43.78 349.51,41.63 C349.74,39.49 351.45,37.14 351.27,34.93 C351.10,32.73 348.86,30.00 348.45,28.41 C348.04,26.82 347.33,25.97 348.80,25.41 C350.27,24.85 354.09,25.06 357.27,25.06 C360.44,25.06 364.03,25.23 367.85,25.41 C371.67,25.59 376.67,26.06 380.19,26.12 C383.72,26.17 385.78,25.82 389.01,25.76 C392.24,25.70 397.53,25.18 399.59,25.76 C401.65,26.35 401.21,26.94 401.35,29.29 C401.50,31.64 401.21,36.34 400.47,39.87 C399.74,43.40 397.97,47.51 396.95,50.45 C395.92,53.39 395.18,55.59 394.30,57.51 C393.42,59.42 392.68,60.44 391.66,61.91 C390.63,63.38 389.45,64.71 388.13,66.32 C386.81,67.94 385.34,69.85 383.72,71.61 C382.10,73.38 380.19,75.14 378.43,76.90 C376.67,78.67 375.05,80.58 373.14,82.19 C371.23,83.81 369.03,85.13 366.97,86.60 C364.91,88.07 362.41,89.69 360.80,91.01 C359.18,92.33 358.30,93.07 357.27,94.54 C356.24,96.01 355.27,98.30 354.62,99.83 C353.98,101.36 358.47,103.12 353.39,103.71 C348.30,104.30 328.99,106.94 324.12,103.35Z"/></clipPath><g clip-path="url(#c30)">
<path d="M324.12,103.35 C319.24,99.77 323.59,86.60 324.12,82.19 C324.65,77.78 326.03,78.37 327.29,76.90 C328.55,75.43 330.23,74.49 331.70,73.38 C333.17,72.26 334.64,71.23 336.11,70.20 C337.58,69.17 339.05,68.14 340.52,67.20 C341.99,66.26 343.60,65.29 344.92,64.56 C346.25,63.82 347.28,63.53 348.45,62.80 C349.63,62.06 351.24,61.38 351.98,60.15 C352.71,58.92 353.21,57.45 352.86,55.39 C352.51,53.33 350.42,50.10 349.86,47.81 C349.30,45.51 349.27,43.78 349.51,41.63 C349.74,39.49 351.45,37.14 351.27,34.93 C351.10,32.73 348.86,30.00 348.45,28.41 C348.04,26.82 347.33,25.97 348.80,25.41 C350.27,24.85 354.09,25.06 357.27,25.06 C360.44,25.06 364.03,25.23 367.85,25.41 C371.67,25.59 376.67,26.06 380.19,26.12 C383.72,26.17 385.78,25.82 389.01,25.76 C392.24,25.70 397.53,25.18 399.59,25.76 C401.65,26.35 401.21,26.94 401.35,29.29 C401.50,31.64 401.21,36.34 400.47,39.87 C399.74,43.40 397.97,47.51 396.95,50.45 C395.92,53.39 395.18,55.59 394.30,57.51 C393.42,59.42 392.68,60.44 391.66,61.91 C390.63,63.38 389.45,64.71 388.13,66.32 C386.81,67.94 385.34,69.85 383.72,71.61 C382.10,73.38 380.19,75.14 378.43,76.90 C376.67,78.67 375.05,80.58 373.14,82.19 C371.23,83.81 369.03,85.13 366.97,86.60 C364.91,88.07 362.41,89.69 360.80,91.01 C359.18,92.33 358.30,93.07 357.27,94.54 C356.24,96.01 355.27,98.30 354.62,99.83 C353.98,101.36 358.47,103.12 353.39,103.71 C348.30,104.30 328.99,106.94 324.12,103.35Z" fill="#45519a" />
<ellipse cx="375.00" cy="48.00" rx="16.50" ry="20.00" fill="#4f86c6" filter="url(#b1)" transform="rotate(20 375.00 48.00)"/>
<ellipse cx="375.00" cy="48.50" rx="14.50" ry="17.50" fill="#72c6ec" filter="url(#b05)" transform="rotate(20 375.00 48.50)"/>
<path d="M361.00,36.30 C362.57,34.58 365.70,33.33 368.70,32.90 C371.70,32.47 376.13,32.85 379.00,33.70 C381.87,34.55 384.32,35.85 385.90,38.00 C387.48,40.15 388.35,43.73 388.50,46.60 C388.65,49.47 387.80,52.90 386.80,55.20 C385.80,57.50 384.37,59.10 382.50,60.40 C380.63,61.70 378.03,62.57 375.60,63.00 C373.17,63.43 370.20,63.58 367.90,63.00 C365.60,62.42 363.23,61.37 361.80,59.50 C360.37,57.63 359.72,54.52 359.30,51.80 C358.88,49.08 359.02,45.78 359.30,43.20 C359.58,40.62 359.43,38.02 361.00,36.30Z" fill="#9dca45" filter="url(#b05)" />
<ellipse cx="369.00" cy="52.50" rx="4.00" ry="3.00" fill="#efe43a" filter="url(#b05)" transform="rotate(-20 369.00 52.50)"/>
<ellipse cx="374.50" cy="44.50" rx="3.20" ry="3.00" fill="#efe43a" filter="url(#b05)"/>
<ellipse cx="372.00" cy="48.50" rx="2.00" ry="2.00" fill="#efe43a" filter="url(#b05)"/>
<ellipse cx="374.80" cy="44.20" rx="1.60" ry="1.30" fill="#f19a2e" filter="url(#b05)"/>
<ellipse cx="352.00" cy="77.00" rx="31.00" ry="10.00" fill="#4f86c6" filter="url(#b1)" transform="rotate(-41 352.00 77.00)"/>
<ellipse cx="366.00" cy="70.00" rx="3.00" ry="2.00" fill="#45519a" filter="url(#b05)"/>
<ellipse cx="358.00" cy="76.00" rx="2.50" ry="2.00" fill="#45519a" filter="url(#b05)"/>
<ellipse cx="372.00" cy="64.00" rx="3.00" ry="2.00" fill="#45519a" filter="url(#b05)"/>
<ellipse cx="350.00" cy="70.00" rx="2.00" ry="1.50" fill="#45519a" filter="url(#b05)"/>
<ellipse cx="362.00" cy="80.00" rx="2.00" ry="1.50" fill="#45519a" filter="url(#b05)"/>
<ellipse cx="350.00" cy="79.00" rx="24.00" ry="6.50" fill="#72c6ec" filter="url(#b05)" transform="rotate(-41 350.00 79.00)"/>
<ellipse cx="347.00" cy="82.00" rx="18.00" ry="6.00" fill="#9dca45" filter="url(#b05)" transform="rotate(-38 347.00 82.00)"/>
<ellipse cx="355.00" cy="74.00" rx="3.00" ry="2.00" fill="#72c6ec" filter="url(#b05)"/>
<ellipse cx="336.00" cy="92.50" rx="12.50" ry="7.50" fill="#efe43a" filter="url(#b05)" transform="rotate(-45 336.00 92.50)"/>
<ellipse cx="333.50" cy="95.30" rx="8.50" ry="5.80" fill="#f19a2e" filter="url(#b05)" transform="rotate(-50 333.50 95.30)"/>
<ellipse cx="331.50" cy="97.30" rx="5.20" ry="3.80" fill="#d9402a" filter="url(#b05)" transform="rotate(-55 331.50 97.30)"/>
</g>
<ellipse cx="345.81" cy="60.15" rx="1.76" ry="1.76" fill="#45519a"/>
<ellipse cx="397.83" cy="55.39" rx="2.29" ry="1.94" fill="#45519a"/>
<path d="M339.63,70.73 L346.69,64.21 L366.09,70.20 L388.13,64.56 L399.59,66.32 L400.47,83.96 L385.48,99.83 L356.39,101.59 L350.22,91.01 L339.63,70.73" fill="none" stroke="#111" stroke-width="0.8"/>
<text x="365.2" y="98.7" font-size="7.8" font-style="italic" textLength="18.8" lengthAdjust="spacingAndGlyphs" fill="#1a1a1a">Macro</text>
<clipPath id="c40"><path d="M444.10,49.40 C445.05,47.67 446.45,43.40 448.30,41.10 C450.15,38.80 452.68,37.32 455.20,35.60 C457.72,33.88 460.65,32.05 463.40,30.80 C466.15,29.55 469.52,28.22 471.70,28.10 C473.88,27.98 475.65,29.07 476.50,30.10 C477.35,31.13 477.60,32.45 476.80,34.30 C476.00,36.15 473.47,38.92 471.70,41.20 C469.93,43.48 468.03,45.95 466.20,48.00 C464.37,50.05 462.53,51.77 460.70,53.50 C458.87,55.23 457.07,57.43 455.20,58.40 C453.33,59.37 450.65,58.70 449.50,59.30 C448.35,59.90 448.62,60.67 448.30,62.00 C447.98,63.33 447.95,65.03 447.60,67.30 C447.25,69.57 446.50,73.07 446.20,75.60 C445.90,78.13 446.37,80.97 445.80,82.50 C445.23,84.03 443.83,84.80 442.80,84.80 C441.77,84.80 439.93,84.50 439.60,82.50 C439.27,80.50 440.30,75.78 440.80,72.80 C441.30,69.82 442.30,66.82 442.60,64.60 C442.90,62.38 442.60,61.00 442.60,59.50 C442.60,58.00 442.60,56.93 442.60,55.60 C442.60,54.27 442.35,52.53 442.60,51.50 C442.85,50.47 443.15,51.13 444.10,49.40Z"/></clipPath><g clip-path="url(#c40)">
<path d="M444.10,49.40 C445.05,47.67 446.45,43.40 448.30,41.10 C450.15,38.80 452.68,37.32 455.20,35.60 C457.72,33.88 460.65,32.05 463.40,30.80 C466.15,29.55 469.52,28.22 471.70,28.10 C473.88,27.98 475.65,29.07 476.50,30.10 C477.35,31.13 477.60,32.45 476.80,34.30 C476.00,36.15 473.47,38.92 471.70,41.20 C469.93,43.48 468.03,45.95 466.20,48.00 C464.37,50.05 462.53,51.77 460.70,53.50 C458.87,55.23 457.07,57.43 455.20,58.40 C453.33,59.37 450.65,58.70 449.50,59.30 C448.35,59.90 448.62,60.67 448.30,62.00 C447.98,63.33 447.95,65.03 447.60,67.30 C447.25,69.57 446.50,73.07 446.20,75.60 C445.90,78.13 446.37,80.97 445.80,82.50 C445.23,84.03 443.83,84.80 442.80,84.80 C441.77,84.80 439.93,84.50 439.60,82.50 C439.27,80.50 440.30,75.78 440.80,72.80 C441.30,69.82 442.30,66.82 442.60,64.60 C442.90,62.38 442.60,61.00 442.60,59.50 C442.60,58.00 442.60,56.93 442.60,55.60 C442.60,54.27 442.35,52.53 442.60,51.50 C442.85,50.47 443.15,51.13 444.10,49.40Z" fill="#45519a" />
<path d="M446.50,50.00 C447.25,48.25 448.42,45.08 450.00,43.00 C451.58,40.92 453.67,39.17 456.00,37.50 C458.33,35.83 461.50,34.12 464.00,33.00 C466.50,31.88 469.30,30.92 471.00,30.80 C472.70,30.68 473.78,31.52 474.20,32.30 C474.62,33.08 474.37,34.05 473.50,35.50 C472.63,36.95 470.67,39.00 469.00,41.00 C467.33,43.00 465.33,45.58 463.50,47.50 C461.67,49.42 459.83,51.00 458.00,52.50 C456.17,54.00 454.33,55.83 452.50,56.50 C450.67,57.17 448.17,57.00 447.00,56.50 C445.83,56.00 445.58,54.58 445.50,53.50 C445.42,52.42 445.75,51.75 446.50,50.00Z" fill="#72c6ec" filter="url(#b05)" />
<path d="M452.00,50.00 C452.25,48.08 454.00,44.67 455.50,42.50 C457.00,40.33 458.92,38.50 461.00,37.00 C463.08,35.50 466.17,34.00 468.00,33.50 C469.83,33.00 471.67,33.17 472.00,34.00 C472.33,34.83 471.17,36.75 470.00,38.50 C468.83,40.25 466.75,42.58 465.00,44.50 C463.25,46.42 461.33,48.42 459.50,50.00 C457.67,51.58 455.25,54.00 454.00,54.00 C452.75,54.00 451.75,51.92 452.00,50.00Z" fill="#9dca45" filter="url(#b05)" />
<ellipse cx="460.50" cy="43.50" rx="7.00" ry="3.60" fill="#efe43a" filter="url(#b05)" transform="rotate(-42 460.50 43.50)"/>
<ellipse cx="459.50" cy="44.50" rx="4.50" ry="2.60" fill="#f19a2e" filter="url(#b05)" transform="rotate(-42 459.50 44.50)"/>
<ellipse cx="459.00" cy="45.00" rx="3.20" ry="2.00" fill="#d9402a" filter="url(#b05)" transform="rotate(-42 459.00 45.00)"/>
</g>
<path d="M455.6,26.2V104 M421.2,57.6H498.8" stroke="#6a6a6a" stroke-width="1.3"/>
<path d="M47.7 165.1h.6M38.1 139.7h.6M46.7 138.3h.6M40.5 168.7h.6M44.4 168.8h.6M51.3 147.4h.6M46.6 150.1h.6M39.6 151.2h.6M48.1 165.7h.6M41.4 145.0h.6M55.7 162.4h.6M39.9 157.9h.6M41.3 157.6h.6M38.0 147.2h.6M53.6 153.1h.6M38.8 146.0h.6M54.9 153.3h.6M45.7 150.0h.6M51.5 148.1h.6M41.8 154.4h.6M44.4 160.7h.6M45.9 170.6h.6M42.1 155.0h.6M52.6 156.1h.6M47.5 139.1h.6M40.5 150.1h.6M52.8 165.4h.6M51.9 157.4h.6M48.5 170.6h.6M50.5 145.2h.6M38.7 168.2h.6M51.6 161.2h.6M53.4 167.3h.6M39.6 156.9h.6M38.0 135.5h.6M43.0 170.5h.6M44.3 171.6h.6M46.8 167.2h.6M48.8 170.2h.6M46.3 165.9h.6M43.5 137.8h.6M50.1 156.1h.6M39.7 137.2h.6M47.1 168.6h.6M42.3 160.2h.6M43.0 165.8h.6M53.3 159.7h.6M46.7 147.5h.6M52.5 150.5h.6M37.9 172.3h.6M51.1 153.9h.6M39.2 136.8h.6M49.7 155.3h.6M39.4 162.0h.6M38.6 144.5h.6M39.3 133.1h.6M37.9 149.0h.6M40.0 150.3h.6M50.0 152.4h.6M53.3 166.0h.6M40.7 154.5h.6M47.5 143.2h.6M49.6 158.4h.6M40.1 157.4h.6M44.4 140.7h.6M44.4 164.2h.6M45.4 138.0h.6M37.9 153.9h.6M38.7 137.8h.6M48.5 142.4h.6M52.0 154.4h.6M38.3 152.8h.6M49.4 154.5h.6M47.7 151.4h.6M54.4 156.2h.6M40.0 172.2h.6M48.3 168.5h.6M40.2 165.4h.6M44.8 139.4h.6M39.5 164.4h.6M44.1 169.1h.6M44.1 142.5h.6M42.4 136.1h.6M39.9 170.8h.6M51.2 167.4h.6M42.7 143.1h.6M38.7 152.3h.6M52.0 160.4h.6M43.0 149.5h.6M47.4 151.4h.6M45.5 170.7h.6M54.2 153.2h.6M45.9 140.5h.6M40.9 145.8h.6M47.7 149.8h.6M40.9 155.2h.6M41.5 139.7h.6M37.8 139.0h.6M38.0 164.7h.6M39.0 150.8h.6M45.6 159.8h.6M38.3 168.6h.6M49.7 156.2h.6M54.6 167.0h.6M39.8 161.5h.6M38.1 152.9h.6M48.6 147.4h.6M43.7 149.8h.6M45.3 147.0h.6M39.6 141.9h.6M45.2 136.7h.6M49.9 150.7h.6M39.5 152.1h.6M39.0 160.9h.6M46.0 156.0h.6M42.9 154.0h.6M48.8 140.7h.6M51.0 148.4h.6M56.7 158.7h.6M40.5 148.2h.6M50.2 169.6h.6M43.7 145.8h.6M51.5 162.3h.6M48.8 165.2h.6M54.0 157.2h.6M43.4 147.6h.6M39.7 169.3h.6M41.1 141.6h.6M46.3 157.3h.6M50.1 144.9h.6M48.2 169.9h.6M49.4 169.6h.6M48.9 166.0h.6M54.4 151.3h.6M42.7 151.7h.6M52.6 154.4h.6M39.7 154.7h.6M45.8 168.4h.6M47.1 170.6h.6M54.5 156.9h.6M44.5 147.0h.6M51.9 157.5h.6M48.2 163.9h.6M47.0 151.7h.6M42.0 137.5h.6M42.8 152.8h.6M41.1 145.0h.6M47.8 165.0h.6M44.7 139.3h.6M44.8 164.5h.6M45.4 136.8h.6M38.3 144.2h.6M55.6 158.3h.6M42.2 150.3h.6M44.3 172.2h.6M46.0 156.0h.6M48.2 153.6h.6M49.2 166.8h.6M46.8 165.6h.6M42.6 167.7h.6M45.2 134.2h.6M45.3 136.1h.6M48.3 147.4h.6M56.3 162.9h.6M38.2 133.1h.6M42.7 138.4h.6M50.1 151.2h.6M47.6 169.5h.6M38.8 143.2h.6M41.0 169.5h.6M45.2 136.2h.6M46.4 145.0h.6M54.1 157.7h.6M44.5 159.4h.6M38.1 171.5h.6M46.4 150.7h.6M44.2 165.3h.6M45.8 143.1h.6M56.3 156.8h.6M42.8 167.9h.6M47.0 163.7h.6M39.2 143.2h.6M39.0 156.2h.6M44.6 145.0h.6" stroke="#555" stroke-width="0.65" stroke-opacity="0.8" fill="none"/>
<path d="M88.2 162.8h.6M95.7 174.2h.6M79.7 165.4h.6M94.9 172.3h.6M79.6 167.5h.6M85.0 171.0h.6M84.5 176.8h.6M83.6 161.0h.6M79.9 160.7h.6M86.1 175.1h.6M99.2 176.5h.6M82.6 167.5h.6M91.2 171.0h.6M88.2 173.5h.6M99.4 165.9h.6M82.1 176.5h.6M91.0 169.4h.6M99.9 166.8h.6M97.5 176.2h.6M92.9 160.4h.6M96.3 162.0h.6M85.2 174.9h.6M91.5 171.2h.6M97.6 162.9h.6M79.7 170.8h.6M97.7 174.4h.6M87.3 163.1h.6M93.6 161.0h.6M90.7 162.6h.6M86.9 173.3h.6M100.5 162.7h.6M95.1 163.6h.6M93.6 176.9h.6M87.6 171.3h.6M88.8 160.8h.6M87.7 169.6h.6M86.7 162.0h.6M93.7 177.6h.6M97.7 165.1h.6M89.4 173.2h.6M83.1 175.7h.6M99.5 169.5h.6M86.3 163.9h.6M99.7 170.9h.6M97.0 163.1h.6M78.9 172.3h.6M96.1 171.5h.6M79.3 174.5h.6M79.1 169.3h.6M98.6 171.0h.6M83.2 176.0h.6M89.5 171.6h.6M80.1 163.1h.6M81.5 170.2h.6M93.8 164.7h.6M91.2 167.3h.6M96.7 176.2h.6M92.9 168.4h.6M87.3 164.8h.6M97.9 163.1h.6M95.3 166.4h.6M87.2 164.4h.6M84.1 166.0h.6M87.6 165.4h.6M80.6 169.8h.6M88.7 161.3h.6M97.4 176.8h.6M96.6 163.6h.6M99.0 165.1h.6M91.7 164.4h.6M85.0 164.1h.6M100.0 172.9h.6M99.3 167.1h.6M80.1 170.1h.6M92.2 175.9h.6M87.4 174.1h.6M80.4 162.1h.6M85.1 174.1h.6M87.9 162.9h.6M97.4 177.6h.6M91.4 171.2h.6M88.7 171.8h.6M92.8 160.4h.6M97.3 167.7h.6M97.7 173.9h.6M85.5 167.1h.6M87.5 174.3h.6M79.6 162.6h.6M96.7 162.8h.6M100.2 170.9h.6M97.8 160.7h.6M99.0 166.6h.6M96.2 170.4h.6M87.0 164.6h.6M94.0 162.7h.6M91.5 168.3h.6M88.7 174.0h.6M78.4 167.1h.6M89.6 165.4h.6M93.6 169.6h.6M95.5 177.2h.6M85.0 174.2h.6M93.7 162.6h.6M84.1 161.1h.6M93.8 174.4h.6M87.7 171.4h.6M79.5 173.0h.6M79.8 172.1h.6M99.9 174.8h.6M91.2 172.0h.6M82.5 175.1h.6M90.3 175.5h.6M97.2 172.4h.6M87.6 168.8h.6M100.3 161.2h.6M81.6 176.4h.6M92.0 174.2h.6M94.9 177.4h.6M96.8 175.2h.6M87.6 164.1h.6M97.9 165.6h.6M81.0 165.1h.6M99.5 170.0h.6M87.8 176.2h.6M98.0 167.6h.6M89.7 166.3h.6M91.4 161.7h.6M83.4 166.2h.6M97.6 173.3h.6M89.5 167.7h.6M95.9 167.9h.6M92.7 177.6h.6M96.3 170.6h.6M94.6 173.0h.6M86.3 161.4h.6M93.0 177.2h.6M94.6 164.5h.6" stroke="#555" stroke-width="0.65" stroke-opacity="0.8" fill="none"/>
<path d="M86.1 154.9h.6M88.1 152.6h.6M93.5 159.4h.6M84.5 149.8h.6M84.3 155.1h.6M92.5 156.5h.6M86.1 157.5h.6M91.2 154.4h.6M88.9 156.8h.6M84.1 153.8h.6M90.1 159.0h.6M85.1 157.6h.6M87.9 153.7h.6M90.5 157.0h.6M95.2 159.5h.6M91.6 159.5h.6M84.1 150.4h.6M85.9 152.5h.6M88.0 154.9h.6M89.7 153.9h.6M84.3 157.6h.6M91.4 159.3h.6M89.5 158.6h.6M85.7 154.3h.6" stroke="#555" stroke-width="0.65" stroke-opacity="0.8" fill="none"/>
<clipPath id="c01"><path d="M40.41,131.92 C41.99,131.14 45.30,129.78 48.92,129.09 C52.55,128.39 57.76,127.98 62.17,127.76 C66.59,127.54 71.79,127.38 75.42,127.76 C79.05,128.14 81.73,129.34 83.94,130.03 C86.14,130.73 86.93,131.61 88.67,131.92 C90.40,132.24 92.61,131.45 94.34,131.92 C96.08,132.40 97.97,133.19 99.08,134.76 C100.18,136.34 100.81,138.71 100.97,141.39 C101.13,144.07 100.65,148.17 100.02,150.85 C99.39,153.53 98.13,156.21 97.18,157.47 C96.24,158.73 95.45,158.73 94.34,158.42 C93.24,158.10 91.82,156.68 90.56,155.58 C89.30,154.48 87.88,152.74 86.77,151.80 C85.67,150.85 85.20,149.27 83.94,149.90 C82.67,150.53 80.47,153.85 79.20,155.58 C77.94,157.32 77.00,159.37 76.37,160.31 C75.73,161.26 75.26,160.00 75.42,161.26 C75.58,162.52 76.37,166.15 77.31,167.88 C78.26,169.62 79.52,170.72 81.10,171.67 C82.67,172.61 84.88,172.93 86.77,173.56 C88.67,174.19 90.87,174.82 92.45,175.45 C94.03,176.08 95.76,176.71 96.24,177.34 C96.71,177.97 96.87,178.86 95.29,179.24 C93.71,179.62 91.35,179.36 86.77,179.62 C82.20,179.87 74.16,180.50 67.85,180.75 C61.54,181.00 53.66,181.13 48.92,181.13 C44.19,181.13 41.51,181.07 39.46,180.75 C37.41,180.44 36.94,179.96 36.62,179.24 C36.31,178.51 36.47,177.34 37.57,176.40 C38.67,175.45 41.04,174.66 43.25,173.56 C45.46,172.46 48.61,171.04 50.82,169.77 C53.03,168.51 55.23,167.25 56.49,165.99 C57.76,164.73 58.39,163.62 58.39,162.20 C58.39,160.78 57.44,159.21 56.49,157.47 C55.55,155.74 54.29,154.16 52.71,151.80 C51.13,149.43 48.92,145.65 47.03,143.28 C45.14,140.91 42.62,139.18 41.35,137.60 C40.09,136.03 39.62,134.76 39.46,133.82 C39.30,132.87 38.83,132.71 40.41,131.92Z"/></clipPath><g clip-path="url(#c01)">
<path d="M40.41,131.92 C41.99,131.14 45.30,129.78 48.92,129.09 C52.55,128.39 57.76,127.98 62.17,127.76 C66.59,127.54 71.79,127.38 75.42,127.76 C79.05,128.14 81.73,129.34 83.94,130.03 C86.14,130.73 86.93,131.61 88.67,131.92 C90.40,132.24 92.61,131.45 94.34,131.92 C96.08,132.40 97.97,133.19 99.08,134.76 C100.18,136.34 100.81,138.71 100.97,141.39 C101.13,144.07 100.65,148.17 100.02,150.85 C99.39,153.53 98.13,156.21 97.18,157.47 C96.24,158.73 95.45,158.73 94.34,158.42 C93.24,158.10 91.82,156.68 90.56,155.58 C89.30,154.48 87.88,152.74 86.77,151.80 C85.67,150.85 85.20,149.27 83.94,149.90 C82.67,150.53 80.47,153.85 79.20,155.58 C77.94,157.32 77.00,159.37 76.37,160.31 C75.73,161.26 75.26,160.00 75.42,161.26 C75.58,162.52 76.37,166.15 77.31,167.88 C78.26,169.62 79.52,170.72 81.10,171.67 C82.67,172.61 84.88,172.93 86.77,173.56 C88.67,174.19 90.87,174.82 92.45,175.45 C94.03,176.08 95.76,176.71 96.24,177.34 C96.71,177.97 96.87,178.86 95.29,179.24 C93.71,179.62 91.35,179.36 86.77,179.62 C82.20,179.87 74.16,180.50 67.85,180.75 C61.54,181.00 53.66,181.13 48.92,181.13 C44.19,181.13 41.51,181.07 39.46,180.75 C37.41,180.44 36.94,179.96 36.62,179.24 C36.31,178.51 36.47,177.34 37.57,176.40 C38.67,175.45 41.04,174.66 43.25,173.56 C45.46,172.46 48.61,171.04 50.82,169.77 C53.03,168.51 55.23,167.25 56.49,165.99 C57.76,164.73 58.39,163.62 58.39,162.20 C58.39,160.78 57.44,159.21 56.49,157.47 C55.55,155.74 54.29,154.16 52.71,151.80 C51.13,149.43 48.92,145.65 47.03,143.28 C45.14,140.91 42.62,139.18 41.35,137.60 C40.09,136.03 39.62,134.76 39.46,133.82 C39.30,132.87 38.83,132.71 40.41,131.92Z" fill="#45519a" />
<path d="M50.82,131.92 C53.18,130.41 62.80,130.41 67.85,130.41 C72.90,130.41 78.73,130.41 81.10,131.92 C83.46,133.44 82.67,136.66 82.04,139.49 C81.41,142.33 79.05,145.96 77.31,148.96 C75.58,151.95 73.37,155.58 71.63,157.47 C69.90,159.37 68.48,160.47 66.90,160.31 C65.33,160.15 63.59,158.42 62.17,156.53 C60.75,154.63 59.81,151.80 58.39,148.96 C56.97,146.12 54.92,142.33 53.66,139.49 C52.39,136.66 48.45,133.44 50.82,131.92Z" fill="#4f86c6" filter="url(#b2)" />
<path d="M56.49,132.87 C58.23,131.86 65.07,131.55 68.80,131.55 C72.52,131.55 77.25,131.55 78.83,132.87 C80.40,134.20 78.98,137.29 78.26,139.49 C77.53,141.70 75.89,144.23 74.47,146.12 C73.05,148.01 71.16,150.22 69.74,150.85 C68.32,151.48 67.22,151.01 65.96,149.90 C64.70,148.80 63.43,146.28 62.17,144.23 C60.91,142.18 59.33,139.49 58.39,137.60 C57.44,135.71 54.76,133.88 56.49,132.87Z" fill="#72c6ec" filter="url(#b2)" />
<path d="M58.39,132.87 C59.65,131.55 65.48,131.61 68.80,131.55 C72.11,131.48 76.84,131.33 78.26,132.49 C79.68,133.66 78.04,136.59 77.31,138.55 C76.59,140.50 75.32,142.49 73.91,144.23 C72.49,145.96 70.28,148.64 68.80,148.96 C67.31,149.27 66.27,147.70 65.01,146.12 C63.75,144.54 62.33,141.70 61.23,139.49 C60.12,137.29 57.13,134.20 58.39,132.87Z" fill="#9dca45" filter="url(#b2)" />
<ellipse cx="70.69" cy="134.57" rx="6.06" ry="2.46" fill="#efe43a" filter="url(#b1)"/>
<ellipse cx="71.07" cy="134.38" rx="3.41" ry="1.23" fill="#f19a2e" filter="url(#b05)"/>
<ellipse cx="93.97" cy="141.39" rx="4.92" ry="7.57" fill="#4f86c6" filter="url(#b2)"/>
<ellipse cx="93.97" cy="141.39" rx="4.54" ry="6.43" fill="#72c6ec" filter="url(#b1)"/>
<ellipse cx="93.97" cy="141.39" rx="3.41" ry="4.73" fill="#9dca45" filter="url(#b1)"/>
<ellipse cx="94.34" cy="141.01" rx="1.51" ry="1.89" fill="#efe43a" filter="url(#b1)"/>
<ellipse cx="66.90" cy="167.88" rx="9.46" ry="8.52" fill="#4f86c6" filter="url(#b2)"/>
<ellipse cx="65.01" cy="169.77" rx="4.73" ry="4.16" fill="#72c6ec" filter="url(#b2)" fill-opacity="0.6"/>
<ellipse cx="61.23" cy="176.97" rx="22.71" ry="3.78" fill="#4f86c6" filter="url(#b2)"/>
<ellipse cx="59.33" cy="177.34" rx="15.14" ry="2.46" fill="#72c6ec" filter="url(#b1)"/>
<ellipse cx="59.33" cy="177.72" rx="9.46" ry="1.70" fill="#9dca45" filter="url(#b1)"/>
<ellipse cx="59.33" cy="177.72" rx="4.92" ry="1.14" fill="#efe43a" filter="url(#b05)"/>
<ellipse cx="59.33" cy="177.72" rx="2.65" ry="0.66" fill="#e2412a" filter="url(#b05)"/>
</g>
<path d="M37.57,121.52 L84.88,121.52 L84.88,159.93 L37.57,159.93 L37.57,121.52" fill="none" stroke="#111" stroke-width="0.9"/>
<path d="M84.88,121.52 L101.54,121.52 L101.54,159.93 L84.88,159.93" fill="none" stroke="#111" stroke-width="0.9"/>
<path d="M37.57,161.26 L100.97,161.26 L100.97,185.86 L37.57,185.86 L37.57,161.26" fill="none" stroke="#333" stroke-width="0.85" stroke-dasharray="2.6,1.6"/>
<path d="M165.5 145.9h.6M142.7 161.7h.6M179.0 133.3h.6M152.3 135.0h.6M142.9 148.7h.6M162.3 159.2h.6M152.1 191.3h.6M190.5 177.9h.6M160.8 157.7h.6M156.1 138.6h.6M155.4 138.3h.6M132.7 173.6h.6M193.9 177.6h.6M143.0 152.3h.6M175.1 164.0h.6M158.0 159.6h.6M189.5 181.3h.6M196.9 146.8h.6M158.2 151.6h.6M165.8 159.6h.6M159.5 161.9h.6M143.0 144.1h.6M142.0 171.7h.6M186.9 162.2h.6M179.0 157.8h.6M147.4 191.3h.6M138.7 169.4h.6M159.0 163.2h.6M143.1 152.8h.6M170.1 163.1h.6M172.4 141.4h.6M179.7 151.3h.6M196.3 141.4h.6M203.1 160.4h.6M135.8 178.8h.6M179.8 189.7h.6M135.4 172.4h.6M160.2 143.4h.6M138.7 168.6h.6M194.7 154.8h.6M182.8 162.2h.6M156.7 131.2h.6M187.4 182.4h.6M143.2 186.5h.6M140.3 175.3h.6M182.1 155.7h.6M133.7 188.7h.6M186.1 171.6h.6M178.3 161.1h.6M143.5 138.1h.6M135.7 165.9h.6M148.4 190.2h.6M188.6 181.4h.6M163.1 162.2h.6M183.4 167.2h.6M143.1 149.6h.6M136.6 171.4h.6M188.1 169.2h.6M141.0 182.8h.6M149.2 137.1h.6M136.1 159.9h.6M154.0 193.4h.6M142.7 149.3h.6M148.3 139.3h.6M189.0 193.2h.6M135.8 185.5h.6M188.8 160.1h.6M168.6 162.5h.6M185.8 167.0h.6M164.0 189.7h.6M179.6 164.8h.6M145.6 189.2h.6M159.9 188.9h.6M208.1 152.0h.6M158.3 160.2h.6M187.3 191.8h.6M160.5 152.6h.6M175.0 164.0h.6M158.3 141.2h.6M182.0 165.6h.6M135.6 161.8h.6M142.3 171.8h.6M140.0 156.3h.6M141.6 177.5h.6M140.1 135.9h.6M155.4 155.2h.6M185.5 162.8h.6M189.0 187.4h.6M160.1 152.9h.6M188.9 178.6h.6M183.3 186.4h.6M156.7 153.8h.6M186.3 182.2h.6M172.7 151.8h.6M153.1 135.7h.6M186.9 122.6h.6M175.5 156.2h.6M146.2 139.5h.6M145.1 193.4h.6M140.8 149.3h.6M157.7 150.2h.6M153.2 191.2h.6M160.6 151.3h.6M181.6 159.8h.6M158.1 191.2h.6M186.0 167.0h.6M181.3 190.1h.6M140.3 166.7h.6M194.7 183.5h.6M191.2 191.7h.6M183.1 162.0h.6M186.0 179.9h.6M139.1 157.1h.6M156.3 160.9h.6M183.7 157.5h.6M137.6 176.6h.6M136.9 128.3h.6M142.0 164.0h.6M138.7 152.3h.6M140.0 178.3h.6M152.6 135.6h.6M186.0 188.7h.6M156.4 145.6h.6M145.1 136.6h.6M167.4 164.8h.6M141.6 177.3h.6M152.4 138.0h.6M142.1 167.4h.6M207.7 142.3h.6M169.2 160.9h.6M148.6 137.3h.6M179.2 164.5h.6M140.4 179.2h.6M140.0 170.1h.6M141.2 185.8h.6M141.4 168.9h.6M184.9 187.1h.6M163.3 136.0h.6M149.4 189.5h.6M194.2 127.0h.6M160.2 140.3h.6M144.5 191.5h.6M193.8 178.4h.6M157.2 148.2h.6M163.0 166.4h.6M138.2 181.0h.6M142.1 136.8h.6M142.6 132.7h.6M157.5 158.9h.6M187.7 174.3h.6M156.0 189.1h.6M140.0 155.4h.6M156.3 156.1h.6M145.3 193.1h.6M177.9 161.1h.6M148.2 191.6h.6M158.1 163.8h.6M157.0 193.4h.6M144.4 136.9h.6M162.9 194.0h.6M143.7 153.7h.6M163.5 143.6h.6M141.3 188.6h.6M186.6 174.8h.6M155.9 144.1h.6M149.9 135.0h.6M143.9 155.8h.6M149.8 193.2h.6M206.2 158.2h.6M139.6 190.7h.6M141.9 160.7h.6M164.5 165.1h.6M142.0 183.2h.6M156.3 155.3h.6M144.0 124.2h.6M171.7 136.0h.6M156.8 139.2h.6M161.4 148.0h.6M141.8 182.9h.6M175.5 157.7h.6M181.1 165.7h.6M143.5 192.6h.6M180.6 152.6h.6M189.8 166.8h.6M170.3 190.1h.6M139.1 188.6h.6M169.4 163.1h.6M187.5 187.1h.6M176.0 190.3h.6M188.9 182.5h.6M152.7 188.2h.6M173.4 193.6h.6M151.3 190.9h.6M144.0 138.7h.6M158.6 135.9h.6M157.4 140.0h.6M143.5 186.0h.6M143.8 157.3h.6M139.5 167.0h.6M157.5 144.4h.6M142.3 172.7h.6M197.1 176.8h.6M143.2 154.6h.6M137.2 164.0h.6M152.4 191.2h.6M155.9 188.4h.6M186.3 181.7h.6M181.9 166.1h.6M185.8 183.0h.6M166.3 164.7h.6M143.6 137.3h.6M162.3 166.8h.6M191.4 161.4h.6M178.4 121.9h.6M173.1 163.0h.6M192.8 158.8h.6M189.6 164.5h.6M189.4 158.3h.6M168.6 192.4h.6M150.6 189.3h.6M142.3 138.6h.6M141.7 179.9h.6M139.5 176.0h.6M140.0 172.8h.6M152.4 188.3h.6M158.9 132.0h.6M141.1 173.4h.6M138.9 149.5h.6M153.2 137.9h.6M172.3 160.9h.6M144.8 139.3h.6M145.7 131.7h.6M185.9 172.9h.6M137.7 181.7h.6M145.1 193.1h.6M184.6 169.3h.6M149.2 138.5h.6M151.0 139.2h.6M169.8 130.0h.6M138.7 149.8h.6M137.7 193.8h.6M162.9 144.4h.6M141.6 189.2h.6M154.9 192.0h.6M161.0 163.3h.6M132.5 170.3h.6M189.6 175.3h.6M189.6 171.3h.6M172.9 191.2h.6M136.5 170.8h.6M160.5 188.8h.6M167.7 164.1h.6M183.9 188.3h.6M175.4 164.2h.6M168.1 162.8h.6M188.4 181.3h.6M179.7 160.6h.6M185.4 165.4h.6M192.4 168.4h.6M139.2 185.4h.6M150.4 135.6h.6M137.9 180.7h.6M153.4 121.2h.6M173.7 137.2h.6M145.5 190.1h.6M188.0 174.5h.6M170.4 164.6h.6M174.5 191.2h.6M166.1 165.5h.6M184.7 162.1h.6M146.9 139.4h.6M139.9 180.2h.6M141.8 155.6h.6M204.3 192.2h.6M142.0 134.7h.6M140.8 145.6h.6M157.8 147.3h.6M141.7 149.7h.6M187.0 187.7h.6M141.7 190.2h.6M143.1 161.0h.6M158.1 139.3h.6M182.4 191.7h.6M141.8 171.3h.6M144.4 186.8h.6M143.0 143.4h.6M187.2 171.8h.6M161.6 167.9h.6M156.5 140.2h.6M166.6 194.7h.6M187.8 168.3h.6M156.7 147.2h.6M150.8 188.8h.6M179.4 164.8h.6M185.9 184.2h.6M154.7 136.0h.6M142.9 141.4h.6M153.0 190.6h.6M139.6 190.5h.6M187.4 124.6h.6M170.4 164.7h.6M139.9 172.9h.6M193.7 161.2h.6M156.7 145.5h.6M182.1 194.0h.6M193.3 168.9h.6M137.2 148.6h.6M189.0 168.0h.6M150.1 137.3h.6M189.9 190.8h.6M183.9 188.2h.6M141.7 144.4h.6M156.8 157.0h.6M162.8 188.6h.6M160.0 151.6h.6M178.8 190.6h.6M181.5 191.9h.6M144.2 188.1h.6M158.9 149.0h.6M192.2 123.0h.6M142.1 191.3h.6M178.7 164.4h.6M199.4 178.1h.6M138.7 152.4h.6M158.1 137.2h.6M154.4 187.0h.6M165.1 190.7h.6M132.9 160.8h.6M155.9 190.9h.6M140.7 172.0h.6M142.9 159.5h.6M133.1 119.6h.6M143.1 185.6h.6M142.1 181.4h.6M157.5 158.4h.6M156.3 162.7h.6M192.6 193.2h.6M195.8 157.8h.6M179.1 162.2h.6M139.1 148.9h.6M140.2 175.5h.6M184.3 133.7h.6M157.4 140.0h.6M173.8 160.8h.6M141.6 177.9h.6M153.8 135.8h.6M173.5 164.4h.6M143.0 140.7h.6M142.2 120.4h.6M141.2 167.6h.6M144.0 190.3h.6M141.2 184.2h.6M188.9 186.4h.6M138.5 156.9h.6M152.7 188.7h.6M138.8 176.8h.6M193.2 182.2h.6M181.0 161.2h.6M204.9 137.3h.6M160.2 168.0h.6M176.0 160.5h.6M181.2 156.7h.6M159.9 155.2h.6M140.7 165.0h.6M180.8 188.3h.6M172.7 132.0h.6M158.6 143.2h.6M146.0 130.6h.6M176.6 191.9h.6M140.8 137.7h.6M171.5 192.3h.6M178.2 159.1h.6M186.1 173.6h.6M158.4 161.8h.6M146.2 139.6h.6M175.4 160.9h.6M167.1 194.6h.6M156.8 189.6h.6M169.3 162.0h.6M167.2 190.1h.6M155.6 142.7h.6M186.7 174.5h.6M131.9 187.6h.6M140.9 164.7h.6M191.7 189.1h.6M142.0 149.8h.6M161.1 189.8h.6M151.7 191.8h.6M195.4 172.6h.6M187.4 133.7h.6M139.6 158.1h.6M155.9 142.3h.6M177.5 192.1h.6M142.0 181.8h.6M191.4 144.0h.6M186.8 177.1h.6M157.5 165.8h.6M186.3 166.6h.6M188.8 179.6h.6M184.6 162.9h.6M165.0 147.4h.6M160.3 145.2h.6M147.2 193.5h.6M156.9 164.4h.6M182.7 147.9h.6M203.9 148.2h.6M145.4 139.7h.6M141.9 160.2h.6M189.0 174.7h.6M184.9 186.2h.6M168.9 164.8h.6M139.4 136.4h.6M145.8 137.1h.6M173.0 141.1h.6M163.4 156.4h.6M163.0 165.5h.6M162.1 189.1h.6M172.3 162.5h.6M172.7 164.5h.6M188.4 163.7h.6M170.8 191.4h.6M157.9 163.1h.6M170.3 193.5h.6M181.5 149.2h.6M141.2 192.8h.6M191.1 133.2h.6M141.8 143.5h.6M178.0 195.0h.6M180.3 188.4h.6M165.8 162.7h.6M137.8 140.1h.6M159.4 157.4h.6M141.8 148.5h.6M192.2 165.0h.6M154.8 137.9h.6M138.4 134.0h.6M148.1 138.3h.6M169.4 189.4h.6M135.1 192.5h.6M208.1 171.0h.6M153.9 136.2h.6M151.3 189.8h.6M141.2 160.6h.6M139.5 183.8h.6M140.2 157.1h.6M180.5 189.6h.6M140.0 137.0h.6M155.6 142.2h.6M188.1 140.3h.6M138.8 160.8h.6M152.0 192.6h.6M166.6 124.5h.6M142.7 152.5h.6M139.4 182.3h.6M138.3 136.3h.6M165.5 192.2h.6M190.6 162.1h.6M188.2 181.3h.6M182.4 166.9h.6M159.5 190.1h.6M160.3 167.5h.6M170.2 155.4h.6M139.8 173.7h.6M193.6 131.6h.6M198.4 161.2h.6M185.5 163.1h.6M147.3 189.7h.6M133.9 174.3h.6M158.8 166.3h.6M183.5 187.6h.6M184.6 124.7h.6M182.6 189.2h.6M196.4 161.4h.6M142.6 187.1h.6M156.1 148.8h.6M142.4 185.5h.6M150.4 138.7h.6M140.3 169.3h.6M163.0 140.0h.6M160.4 142.7h.6M134.2 157.8h.6M139.2 170.8h.6M174.4 162.2h.6M154.3 191.5h.6M141.5 140.7h.6M187.6 168.9h.6M156.3 145.9h.6M136.3 151.2h.6M159.6 166.2h.6M140.9 157.0h.6M204.5 131.9h.6M141.5 163.6h.6M189.3 168.7h.6M185.1 159.1h.6M134.0 146.0h.6M159.5 167.8h.6M132.9 173.0h.6M156.7 161.1h.6M176.4 158.9h.6M190.6 164.9h.6M186.8 168.5h.6M142.0 147.6h.6M176.1 162.9h.6M196.6 183.0h.6M167.4 191.4h.6M140.8 148.5h.6M184.4 190.2h.6M158.5 165.6h.6M184.2 169.0h.6M162.6 166.9h.6M139.3 146.6h.6M174.7 190.9h.6M136.9 156.2h.6M174.7 190.4h.6M167.0 191.9h.6M159.2 146.3h.6M157.0 150.2h.6M146.5 189.7h.6M154.0 190.4h.6M149.6 139.0h.6M157.8 147.3h.6M194.4 120.7h.6M163.4 192.2h.6M184.5 186.0h.6M141.7 146.2h.6M141.3 172.5h.6M181.7 192.0h.6M171.1 164.3h.6M169.7 163.6h.6M164.4 189.1h.6M139.1 191.6h.6M194.9 170.3h.6M158.9 159.5h.6M180.4 155.8h.6M156.0 143.7h.6M173.6 163.7h.6M176.4 161.4h.6M154.0 188.1h.6M159.0 191.1h.6M139.2 172.7h.6M178.6 188.6h.6M187.3 184.9h.6M142.2 160.4h.6M185.8 154.5h.6M179.2 164.5h.6M137.2 178.2h.6M141.8 169.6h.6M142.0 145.2h.6M162.1 193.9h.6M185.4 167.9h.6M142.8 167.7h.6M174.6 191.3h.6M146.1 133.3h.6M175.2 162.0h.6M159.0 149.3h.6M184.2 189.9h.6M152.8 193.1h.6M172.3 193.6h.6M172.7 191.8h.6M143.1 135.1h.6M153.4 126.1h.6M155.8 147.0h.6M134.3 182.4h.6M181.1 162.5h.6M147.2 139.3h.6M150.7 190.7h.6M143.7 155.6h.6M183.1 166.5h.6M170.6 161.1h.6M206.2 159.5h.6M137.0 139.8h.6M165.7 159.9h.6M158.8 151.6h.6M145.3 140.5h.6M161.3 166.8h.6M139.2 170.6h.6M142.5 144.5h.6M135.5 162.8h.6M190.5 183.9h.6M155.4 141.8h.6M184.1 159.5h.6M140.7 188.2h.6M190.7 177.3h.6M138.9 176.9h.6M176.8 189.6h.6M148.7 135.8h.6M136.4 131.4h.6M164.8 131.5h.6M192.7 187.6h.6M158.4 159.7h.6M170.4 194.4h.6M188.2 182.0h.6M160.9 134.2h.6M141.1 173.3h.6M139.7 152.4h.6M171.2 159.3h.6M161.2 194.1h.6M164.6 165.1h.6M154.9 133.1h.6M137.0 177.2h.6M157.2 137.7h.6M139.8 169.8h.6M153.4 130.2h.6M192.0 184.5h.6M147.8 191.4h.6M141.6 174.3h.6M153.3 130.3h.6M140.2 146.2h.6M188.1 175.1h.6M141.4 158.7h.6M184.9 164.6h.6M185.9 183.0h.6M190.6 183.8h.6M193.6 152.1h.6M189.0 172.2h.6M166.9 163.2h.6M136.1 146.5h.6M140.2 180.2h.6M159.3 164.6h.6M143.0 139.3h.6M146.0 133.0h.6M195.2 132.4h.6M158.1 161.7h.6M142.2 185.0h.6M177.1 163.5h.6M151.7 122.0h.6M165.4 166.2h.6M148.8 193.7h.6M167.9 162.7h.6M181.9 165.5h.6M173.9 163.1h.6M190.9 172.5h.6M160.4 191.4h.6M139.8 189.6h.6M173.3 131.6h.6M190.9 173.0h.6M134.5 168.4h.6M147.5 189.6h.6M177.3 154.7h.6M173.6 149.7h.6M189.2 168.4h.6M161.8 149.4h.6M165.2 155.8h.6M153.2 135.4h.6M156.5 142.6h.6M165.6 191.4h.6M156.3 162.0h.6M180.2 162.6h.6M158.2 155.4h.6M181.9 147.1h.6M184.6 186.6h.6M168.5 129.9h.6M141.6 152.4h.6M148.2 190.6h.6M142.7 184.6h.6M177.4 146.3h.6M162.6 188.7h.6M140.2 171.6h.6M195.8 174.8h.6M157.7 143.3h.6M183.6 166.9h.6M142.8 161.2h.6M142.9 166.6h.6M170.7 193.3h.6M187.3 187.3h.6M192.7 168.0h.6M160.5 127.9h.6M166.5 194.2h.6M187.2 165.2h.6M156.5 157.0h.6M158.9 166.7h.6M190.2 168.9h.6M186.7 174.5h.6M159.5 191.8h.6M165.3 189.9h.6M184.7 160.9h.6M156.3 188.0h.6M137.3 157.5h.6M186.7 168.9h.6M135.8 136.1h.6M174.1 190.8h.6M182.6 164.8h.6M186.2 181.5h.6M142.3 174.0h.6M151.7 138.9h.6M194.0 164.0h.6M178.7 189.1h.6M186.8 166.6h.6M189.7 180.5h.6M169.1 189.4h.6M191.6 167.4h.6M154.5 189.7h.6M175.9 192.5h.6M141.5 168.6h.6M150.2 123.9h.6M155.8 188.2h.6M176.2 164.1h.6M181.7 190.6h.6M134.7 182.9h.6M156.0 133.2h.6M175.2 191.2h.6M186.1 175.0h.6M152.5 130.8h.6M183.5 165.3h.6M157.8 152.4h.6M143.1 163.0h.6M160.6 159.4h.6M142.9 149.7h.6M187.0 183.3h.6M186.7 174.5h.6M164.9 193.4h.6M178.7 190.8h.6M145.0 192.1h.6M138.8 160.6h.6M161.1 138.3h.6M158.2 158.8h.6M178.2 164.3h.6M142.2 181.6h.6M191.9 161.1h.6M141.8 153.2h.6M156.2 141.0h.6M162.5 190.5h.6M167.7 135.0h.6M141.6 183.2h.6M143.8 141.7h.6M141.7 166.8h.6M186.0 182.8h.6M141.0 173.0h.6M159.1 142.3h.6M175.6 161.9h.6M177.9 163.6h.6M155.2 191.4h.6M142.4 183.7h.6M140.3 145.4h.6M166.0 189.2h.6M140.3 161.9h.6M142.2 152.7h.6M186.5 184.2h.6M199.6 159.7h.6M159.9 142.8h.6M140.9 158.6h.6M187.0 185.7h.6M155.8 156.6h.6M140.1 182.5h.6M179.0 165.2h.6M177.6 193.6h.6M152.8 133.3h.6M134.8 180.5h.6M206.5 156.8h.6M168.6 193.0h.6M139.6 172.3h.6M171.0 145.1h.6M175.8 159.1h.6M181.1 164.7h.6M189.6 156.7h.6M171.9 163.2h.6M169.1 191.6h.6M176.7 193.0h.6M137.8 155.8h.6M156.9 148.2h.6M167.4 191.2h.6M167.1 162.7h.6M186.1 133.4h.6M184.8 137.1h.6M186.3 158.5h.6M166.5 146.4h.6M142.9 151.0h.6M176.5 191.6h.6M157.1 158.8h.6M140.7 180.8h.6M171.7 164.3h.6M150.6 188.8h.6M138.9 170.5h.6M193.0 164.6h.6M139.3 165.3h.6M156.0 144.2h.6M140.3 173.6h.6M168.9 163.3h.6M195.8 129.1h.6M138.7 161.4h.6M184.0 166.1h.6M156.0 154.2h.6M143.7 140.3h.6M152.7 188.4h.6M166.5 191.6h.6M146.3 137.9h.6M160.4 143.3h.6M159.7 160.0h.6M160.0 155.5h.6M151.7 136.3h.6M165.0 150.4h.6M163.2 188.7h.6M190.7 173.9h.6M134.7 176.6h.6M190.5 178.4h.6M183.5 185.7h.6M136.8 185.4h.6M142.5 138.3h.6M149.3 138.8h.6M183.6 162.1h.6M206.0 167.4h.6M141.6 158.9h.6M154.3 187.2h.6M152.4 193.3h.6M157.8 159.3h.6M157.1 160.2h.6M157.2 150.3h.6M144.2 140.0h.6M180.9 189.0h.6M137.9 147.4h.6M133.0 142.2h.6M166.9 192.8h.6M175.4 190.7h.6M178.8 192.5h.6M182.7 160.6h.6M180.8 188.8h.6M181.6 164.2h.6M151.7 139.0h.6M195.4 144.7h.6M184.7 167.9h.6" stroke="#444" stroke-width="0.65" stroke-opacity="0.8" fill="none"/>
<clipPath id="c11"><path d="M143.98,141.39 C144.92,140.06 146.97,139.43 148.71,139.12 C150.44,138.80 153.19,138.49 154.39,139.49 C155.59,140.50 155.74,142.65 155.90,145.17 C156.06,147.70 155.27,151.48 155.33,154.63 C155.40,157.79 155.65,161.89 156.28,164.10 C156.91,166.30 158.17,167.09 159.12,167.88 C160.06,168.67 160.54,169.30 161.96,168.83 C163.38,168.35 165.11,165.83 167.63,165.04 C170.16,164.25 174.42,163.62 177.10,164.10 C179.78,164.57 182.21,165.99 183.72,167.88 C185.23,169.77 185.87,172.93 186.18,175.45 C186.50,177.97 186.34,180.97 185.61,183.02 C184.89,185.07 183.88,186.65 181.83,187.75 C179.78,188.86 176.31,189.49 173.31,189.65 C170.32,189.80 166.22,189.01 163.85,188.70 C161.48,188.38 160.70,188.07 159.12,187.75 C157.54,187.44 155.81,186.65 154.39,186.81 C152.97,186.96 152.02,188.38 150.60,188.70 C149.18,189.01 147.13,189.33 145.87,188.70 C144.61,188.07 143.66,186.81 143.03,184.91 C142.40,183.02 142.09,180.50 142.09,177.34 C142.09,174.19 142.72,169.77 143.03,165.99 C143.35,162.20 143.98,157.79 143.98,154.63 C143.98,151.48 143.03,149.27 143.03,147.06 C143.03,144.86 143.03,142.71 143.98,141.39Z"/></clipPath><g clip-path="url(#c11)">
<path d="M143.98,141.39 C144.92,140.06 146.97,139.43 148.71,139.12 C150.44,138.80 153.19,138.49 154.39,139.49 C155.59,140.50 155.74,142.65 155.90,145.17 C156.06,147.70 155.27,151.48 155.33,154.63 C155.40,157.79 155.65,161.89 156.28,164.10 C156.91,166.30 158.17,167.09 159.12,167.88 C160.06,168.67 160.54,169.30 161.96,168.83 C163.38,168.35 165.11,165.83 167.63,165.04 C170.16,164.25 174.42,163.62 177.10,164.10 C179.78,164.57 182.21,165.99 183.72,167.88 C185.23,169.77 185.87,172.93 186.18,175.45 C186.50,177.97 186.34,180.97 185.61,183.02 C184.89,185.07 183.88,186.65 181.83,187.75 C179.78,188.86 176.31,189.49 173.31,189.65 C170.32,189.80 166.22,189.01 163.85,188.70 C161.48,188.38 160.70,188.07 159.12,187.75 C157.54,187.44 155.81,186.65 154.39,186.81 C152.97,186.96 152.02,188.38 150.60,188.70 C149.18,189.01 147.13,189.33 145.87,188.70 C144.61,188.07 143.66,186.81 143.03,184.91 C142.40,183.02 142.09,180.50 142.09,177.34 C142.09,174.19 142.72,169.77 143.03,165.99 C143.35,162.20 143.98,157.79 143.98,154.63 C143.98,151.48 143.03,149.27 143.03,147.06 C143.03,144.86 143.03,142.71 143.98,141.39Z" fill="#45519a" />
<ellipse cx="149.09" cy="150.85" rx="4.16" ry="9.46" fill="#4f86c6" filter="url(#b2)"/>
<ellipse cx="148.71" cy="148.96" rx="2.27" ry="3.41" fill="#72c6ec" filter="url(#b2)"/>
<ellipse cx="149.09" cy="175.45" rx="4.92" ry="7.57" fill="#4f86c6" filter="url(#b2)"/>
<ellipse cx="148.71" cy="177.34" rx="4.16" ry="5.30" fill="#72c6ec" filter="url(#b1)"/>
<ellipse cx="148.71" cy="177.72" rx="2.65" ry="3.41" fill="#9dca45" filter="url(#b1)"/>
<ellipse cx="148.71" cy="177.91" rx="1.51" ry="1.89" fill="#efe43a" filter="url(#b05)"/>
<ellipse cx="148.71" cy="177.91" rx="0.85" ry="0.95" fill="#e2412a" filter="url(#b05)"/>
<ellipse cx="173.31" cy="177.34" rx="11.35" ry="7.95" fill="#4f86c6" filter="url(#b2)"/>
<ellipse cx="171.42" cy="178.29" rx="7.95" ry="4.16" fill="#72c6ec" filter="url(#b1)"/>
<ellipse cx="169.53" cy="178.29" rx="4.54" ry="2.27" fill="#9dca45" filter="url(#b1)"/>
</g>
<ellipse cx="143.98" cy="194.75" rx="6.62" ry="0.95" fill="#45519a"/>
<ellipse cx="174.26" cy="194.75" rx="3.78" ry="0.76" fill="#45519a"/>
<path d="M131.68,127.76 L174.83,127.76" fill="none" stroke="#333" stroke-width="0.85" stroke-dasharray="2.6,1.6"/>
<path d="M174.83,127.76 L161.96,149.90 L161.96,195.32" fill="none" stroke="#111" stroke-width="0.9"/>
<path d="M172.37,133.82 L194.51,133.82 L194.51,195.32" fill="none" stroke="#111" stroke-width="0.9"/>
<path d="M262.3 136.3h.6M229.6 187.0h.6M256.5 190.3h.6M250.6 145.8h.6M237.0 190.0h.6M247.9 162.1h.6M232.8 168.8h.6M248.0 157.2h.6M287.0 139.5h.6M298.6 128.8h.6M293.3 125.8h.6M275.3 183.2h.6M303.4 172.5h.6M277.0 187.1h.6M251.4 139.9h.6M299.5 188.6h.6M242.0 152.3h.6M270.4 185.4h.6M247.6 164.2h.6M230.8 173.9h.6M267.3 135.4h.6M237.4 187.4h.6M233.9 190.0h.6M251.6 158.1h.6M286.0 182.2h.6M245.6 153.6h.6M278.5 157.5h.6M234.8 146.8h.6M266.7 137.7h.6M244.1 168.1h.6M271.4 137.6h.6M292.5 167.3h.6M244.9 139.5h.6M279.8 153.8h.6M282.2 145.1h.6M278.9 146.1h.6M263.2 187.7h.6M278.3 147.4h.6M246.7 191.0h.6M234.1 172.7h.6M285.6 159.4h.6M276.1 187.1h.6M268.2 138.4h.6M280.6 185.2h.6M277.7 147.8h.6M278.8 185.2h.6M294.8 134.4h.6M278.6 192.6h.6M280.1 166.1h.6M245.9 193.7h.6M245.6 168.7h.6M277.0 157.5h.6M278.7 146.7h.6M303.3 183.7h.6M272.9 134.2h.6M249.0 194.7h.6M233.9 169.5h.6M293.7 181.8h.6M251.7 158.9h.6M248.3 137.8h.6M244.0 141.8h.6M256.3 125.5h.6M230.7 185.9h.6M233.1 189.5h.6M279.5 149.2h.6M279.1 190.0h.6M273.7 135.9h.6M229.2 172.9h.6M281.5 165.7h.6M278.5 131.8h.6M265.8 186.8h.6M248.2 157.6h.6M256.2 140.4h.6M255.6 141.2h.6M237.7 157.4h.6M247.5 153.0h.6M277.8 138.6h.6M230.9 155.5h.6M283.9 167.6h.6M249.2 143.1h.6M230.1 171.2h.6M288.1 184.7h.6M285.0 187.3h.6M287.5 137.1h.6M255.0 139.4h.6M242.7 170.2h.6M251.3 156.6h.6M238.2 168.4h.6M229.1 158.8h.6M278.3 189.7h.6M289.1 181.2h.6M299.8 130.1h.6M266.0 190.0h.6M249.6 189.4h.6M296.0 162.1h.6M262.3 193.2h.6M232.7 188.8h.6M297.0 182.8h.6M302.5 136.5h.6M289.9 128.8h.6M253.0 124.6h.6M231.7 172.9h.6M294.7 182.0h.6M238.4 187.8h.6M275.8 155.6h.6M301.6 182.4h.6M236.9 167.7h.6M288.7 122.5h.6M252.8 141.1h.6M266.1 136.8h.6M299.4 187.8h.6M241.3 147.1h.6M275.2 164.3h.6M289.9 167.3h.6M252.9 140.5h.6M275.0 139.7h.6M238.6 187.0h.6M229.3 145.2h.6M230.8 130.9h.6M239.8 169.5h.6M276.9 187.1h.6M252.0 159.9h.6M258.6 134.1h.6M253.0 141.2h.6M286.6 166.6h.6M233.4 186.3h.6M295.2 172.5h.6M242.1 189.3h.6M295.8 185.5h.6M301.2 143.4h.6M297.2 120.7h.6M273.7 138.8h.6M248.4 191.9h.6M249.3 157.9h.6M237.1 190.5h.6M282.0 164.5h.6M292.8 185.2h.6M272.2 138.7h.6M285.2 188.6h.6M283.2 167.3h.6M238.3 188.7h.6M243.4 191.9h.6M297.6 181.6h.6M257.9 193.6h.6M250.0 142.0h.6M242.6 147.8h.6M277.2 165.0h.6M250.1 187.8h.6M228.7 184.7h.6M230.0 186.1h.6M276.6 159.4h.6M281.4 167.5h.6M239.4 189.1h.6M274.7 138.0h.6M251.9 161.9h.6M277.1 190.4h.6M275.1 130.6h.6M261.7 139.0h.6M279.1 186.7h.6M245.2 145.0h.6M256.2 129.6h.6M228.8 187.1h.6M297.1 165.5h.6M278.2 159.2h.6M245.9 166.2h.6M244.8 187.7h.6M291.3 167.2h.6M257.9 128.6h.6M243.5 147.1h.6M281.5 185.4h.6M240.4 193.3h.6M249.8 144.0h.6M292.4 165.9h.6M251.8 142.5h.6M244.4 152.0h.6M287.1 183.9h.6M277.4 182.4h.6M246.5 150.7h.6M246.7 169.0h.6M239.6 157.5h.6M275.1 162.3h.6M252.8 144.3h.6M249.4 191.3h.6M268.1 185.5h.6M286.3 182.9h.6M274.0 183.4h.6M231.7 157.3h.6M304.1 122.0h.6M276.0 136.5h.6M297.1 185.9h.6M248.2 149.3h.6M282.4 167.2h.6M237.3 120.2h.6M301.2 192.2h.6M260.0 189.8h.6M271.6 184.2h.6M229.0 159.9h.6M233.8 190.1h.6M287.2 162.4h.6M275.4 157.1h.6M288.5 182.2h.6M288.5 163.3h.6M237.0 159.5h.6M292.8 181.4h.6M239.8 170.7h.6M280.8 150.7h.6M272.8 134.6h.6M229.3 174.2h.6M232.7 164.6h.6M277.7 189.8h.6M300.4 170.9h.6M272.1 134.2h.6M282.7 165.5h.6M261.1 137.2h.6M258.6 132.9h.6M269.1 133.7h.6M248.0 188.6h.6M247.2 168.4h.6M259.4 119.3h.6M265.7 137.3h.6M271.9 134.4h.6M282.9 151.7h.6M294.5 154.9h.6M270.1 189.0h.6M261.9 124.5h.6M232.4 141.0h.6M283.6 167.0h.6M279.1 134.9h.6M279.4 139.8h.6M247.8 167.6h.6M243.5 158.5h.6M249.5 148.3h.6M291.9 181.0h.6M289.9 183.5h.6M282.3 188.5h.6M280.8 154.4h.6M285.3 182.0h.6M292.9 169.4h.6M290.8 165.1h.6M239.9 171.2h.6M248.8 121.2h.6M283.0 125.6h.6M238.8 168.0h.6M287.2 186.8h.6M288.9 165.5h.6M233.9 189.9h.6M248.0 194.2h.6M281.9 182.6h.6M288.6 148.1h.6M275.3 158.7h.6M235.3 150.7h.6M252.9 193.8h.6M249.6 187.2h.6M273.7 187.4h.6M235.8 189.9h.6M293.9 176.5h.6M230.9 187.2h.6M301.3 164.9h.6M297.5 169.0h.6M288.8 167.1h.6M267.3 133.6h.6M280.6 135.0h.6M261.6 137.8h.6M290.5 164.8h.6M241.8 189.7h.6M254.0 143.5h.6M292.3 134.9h.6M276.4 155.7h.6M253.2 142.5h.6M296.0 184.8h.6M277.6 150.9h.6M259.1 136.0h.6M301.3 145.3h.6M261.6 137.3h.6M234.0 172.1h.6M238.0 166.8h.6M247.8 165.9h.6M231.0 187.0h.6M248.3 139.5h.6M228.8 174.1h.6M267.2 186.0h.6M283.3 188.8h.6M263.2 190.6h.6M286.9 163.4h.6M236.5 187.7h.6M276.0 136.6h.6M239.5 133.4h.6M303.2 151.4h.6M249.9 148.0h.6M278.1 149.1h.6M249.9 151.6h.6M286.3 153.4h.6M277.5 152.9h.6M260.4 137.8h.6M268.6 138.2h.6M271.0 123.0h.6M293.6 178.6h.6M298.7 169.9h.6M290.8 168.5h.6M238.0 194.1h.6M277.9 150.8h.6M250.0 187.8h.6M244.6 142.4h.6M236.7 169.5h.6M248.9 118.4h.6M243.0 152.6h.6M235.7 172.5h.6M239.1 163.9h.6M290.9 142.3h.6M270.5 186.2h.6M257.1 191.2h.6M279.4 152.9h.6M264.8 134.7h.6M293.7 173.5h.6M257.6 132.1h.6M250.7 144.4h.6M252.0 192.7h.6M275.8 133.9h.6M268.8 193.9h.6M270.6 132.2h.6M277.6 159.4h.6M271.7 138.5h.6M296.3 154.6h.6M243.3 134.4h.6M245.4 188.2h.6M280.2 145.7h.6M244.2 187.1h.6M273.6 138.8h.6M277.2 151.5h.6M276.6 166.5h.6M263.6 138.0h.6M258.1 195.0h.6M251.1 158.6h.6M270.1 187.7h.6M249.1 165.3h.6M240.4 163.1h.6M289.8 188.3h.6M293.0 163.6h.6M277.4 153.3h.6M298.8 175.5h.6M247.0 193.1h.6M268.0 185.8h.6M297.3 181.8h.6M297.0 170.5h.6M281.4 157.5h.6M278.0 140.3h.6M252.1 192.2h.6M249.2 141.1h.6M247.3 157.8h.6M295.8 138.9h.6M299.8 180.6h.6M246.9 168.6h.6M242.8 149.8h.6M294.4 169.8h.6M239.4 187.9h.6M273.5 137.4h.6M264.9 186.8h.6M279.1 148.4h.6M285.3 155.4h.6M254.5 142.0h.6M253.3 142.9h.6M292.5 170.5h.6M265.8 130.8h.6M239.2 156.0h.6M286.5 146.3h.6M241.7 129.4h.6M243.8 165.0h.6M281.6 187.9h.6M247.4 130.4h.6M243.1 168.6h.6M246.7 167.1h.6M280.4 185.2h.6M243.4 165.7h.6M286.3 165.0h.6M296.8 179.7h.6M293.6 182.8h.6M281.5 142.2h.6M298.4 159.5h.6M249.7 194.5h.6M237.7 187.1h.6M275.3 124.4h.6M250.1 140.5h.6M289.4 181.4h.6M290.3 192.0h.6M261.7 138.4h.6M248.9 146.6h.6M302.2 174.7h.6M290.2 163.3h.6M236.8 122.1h.6M256.4 141.7h.6M286.9 122.0h.6M304.5 155.5h.6M258.5 140.3h.6M288.4 168.4h.6M244.2 168.7h.6M242.7 166.8h.6M278.0 150.6h.6M303.8 189.5h.6M285.0 150.1h.6M278.6 151.2h.6M246.1 167.0h.6M233.7 150.8h.6M280.0 157.5h.6M302.1 165.0h.6M238.2 143.7h.6M291.5 160.7h.6M238.1 171.2h.6M285.7 155.9h.6M243.2 155.0h.6M240.5 166.4h.6M262.2 138.4h.6M297.4 161.4h.6M250.5 148.7h.6M263.2 189.7h.6M249.3 187.8h.6M232.3 172.6h.6M286.5 183.1h.6M293.6 144.3h.6M248.3 147.8h.6M288.7 163.5h.6M287.2 165.6h.6M281.0 141.8h.6M289.1 182.0h.6M294.3 168.2h.6M293.6 180.5h.6M275.3 157.7h.6M234.4 167.2h.6M272.0 188.1h.6M256.7 193.0h.6M280.4 146.8h.6" stroke="#555" stroke-width="0.65" stroke-opacity="0.8" fill="none"/>
<clipPath id="c21"><path d="M250.39,150.85 C251.02,148.96 252.59,145.17 254.17,143.28 C255.75,141.39 257.64,140.28 259.85,139.49 C262.06,138.71 265.05,138.55 267.42,138.55 C269.78,138.55 272.31,138.71 274.04,139.49 C275.78,140.28 277.35,141.39 277.83,143.28 C278.30,145.17 277.35,148.33 276.88,150.85 C276.41,153.37 275.46,155.90 274.99,158.42 C274.52,160.94 273.73,164.41 274.04,165.99 C274.36,167.57 274.83,167.57 276.88,167.88 C278.93,168.20 283.82,167.57 286.34,167.88 C288.87,168.20 290.76,168.51 292.02,169.77 C293.28,171.04 293.91,173.72 293.91,175.45 C293.91,177.19 293.60,179.08 292.02,180.18 C290.44,181.29 286.97,181.76 284.45,182.08 C281.93,182.39 279.41,181.60 276.88,182.08 C274.36,182.55 271.84,183.97 269.31,184.91 C266.79,185.86 263.63,186.81 261.74,187.75 C259.85,188.70 259.38,190.28 257.96,190.59 C256.54,190.91 254.49,190.28 253.23,189.65 C251.96,189.01 252.44,187.28 250.39,186.81 C248.34,186.33 244.08,186.96 240.92,186.81 C237.77,186.65 233.51,186.33 231.46,185.86 C229.41,185.39 229.19,185.70 228.62,183.97 C228.06,182.23 227.27,177.19 228.06,175.45 C228.84,173.72 230.89,174.35 233.35,173.56 C235.82,172.77 239.98,171.67 242.82,170.72 C245.66,169.77 248.34,168.99 250.39,167.88 C252.44,166.78 254.65,165.67 255.12,164.10 C255.59,162.52 254.01,160.00 253.23,158.42 C252.44,156.84 250.86,155.90 250.39,154.63 C249.91,153.37 249.76,152.74 250.39,150.85Z"/></clipPath><g clip-path="url(#c21)">
<path d="M250.39,150.85 C251.02,148.96 252.59,145.17 254.17,143.28 C255.75,141.39 257.64,140.28 259.85,139.49 C262.06,138.71 265.05,138.55 267.42,138.55 C269.78,138.55 272.31,138.71 274.04,139.49 C275.78,140.28 277.35,141.39 277.83,143.28 C278.30,145.17 277.35,148.33 276.88,150.85 C276.41,153.37 275.46,155.90 274.99,158.42 C274.52,160.94 273.73,164.41 274.04,165.99 C274.36,167.57 274.83,167.57 276.88,167.88 C278.93,168.20 283.82,167.57 286.34,167.88 C288.87,168.20 290.76,168.51 292.02,169.77 C293.28,171.04 293.91,173.72 293.91,175.45 C293.91,177.19 293.60,179.08 292.02,180.18 C290.44,181.29 286.97,181.76 284.45,182.08 C281.93,182.39 279.41,181.60 276.88,182.08 C274.36,182.55 271.84,183.97 269.31,184.91 C266.79,185.86 263.63,186.81 261.74,187.75 C259.85,188.70 259.38,190.28 257.96,190.59 C256.54,190.91 254.49,190.28 253.23,189.65 C251.96,189.01 252.44,187.28 250.39,186.81 C248.34,186.33 244.08,186.96 240.92,186.81 C237.77,186.65 233.51,186.33 231.46,185.86 C229.41,185.39 229.19,185.70 228.62,183.97 C228.06,182.23 227.27,177.19 228.06,175.45 C228.84,173.72 230.89,174.35 233.35,173.56 C235.82,172.77 239.98,171.67 242.82,170.72 C245.66,169.77 248.34,168.99 250.39,167.88 C252.44,166.78 254.65,165.67 255.12,164.10 C255.59,162.52 254.01,160.00 253.23,158.42 C252.44,156.84 250.86,155.90 250.39,154.63 C249.91,153.37 249.76,152.74 250.39,150.85Z" fill="#45519a" />
<ellipse cx="262.69" cy="148.96" rx="9.46" ry="6.06" fill="#4f86c6" filter="url(#b2)"/>
<ellipse cx="261.74" cy="148.96" rx="5.30" ry="3.41" fill="#72c6ec" filter="url(#b2)"/>
<ellipse cx="261.74" cy="165.99" rx="7.57" ry="9.46" fill="#4f86c6" filter="url(#b2)" fill-opacity="0.7"/>
<ellipse cx="248.49" cy="177.72" rx="22.71" ry="6.43" fill="#4f86c6" filter="url(#b2)"/>
<ellipse cx="246.60" cy="177.34" rx="18.92" ry="4.54" fill="#72c6ec" filter="url(#b2)"/>
<ellipse cx="250.01" cy="178.10" rx="10.41" ry="2.27" fill="#9dca45" filter="url(#b1)"/>
<ellipse cx="251.90" cy="178.10" rx="4.16" ry="1.14" fill="#efe43a" filter="url(#b05)"/>
<ellipse cx="284.45" cy="175.45" rx="6.62" ry="2.65" fill="#4f86c6" filter="url(#b1)"/>
<ellipse cx="284.45" cy="175.45" rx="3.78" ry="1.51" fill="#72c6ec" filter="url(#b1)"/>
</g>
<ellipse cx="285.40" cy="152.74" rx="1.14" ry="1.32" fill="#45519a"/>
<ellipse cx="283.51" cy="158.42" rx="1.51" ry="0.95" fill="#45519a"/>
<ellipse cx="228.81" cy="177.34" rx="0.95" ry="9.46" fill="#45519a"/>
<path d="M238.09,126.63 L287.29,126.63 L275.94,155.01 L238.09,155.01 L238.09,126.63" fill="none" stroke="#333" stroke-width="0.85" stroke-dasharray="2.6,1.6"/>
<path d="M284.45,133.44 L303.75,133.44 L303.75,195.32 L275.37,195.32 L275.37,155.58 L284.45,133.44" fill="none" stroke="#111" stroke-width="0.9"/>
<clipPath id="c31"><path d="M353.01,118.68 C361.05,117.73 393.23,115.84 401.27,118.68 C409.31,121.52 401.90,131.29 401.27,135.71 C400.64,140.13 399.06,142.33 397.48,145.17 C395.91,148.01 394.33,150.53 391.81,152.74 C389.28,154.95 385.81,157.00 382.34,158.42 C378.87,159.84 374.14,161.10 370.99,161.26 C367.84,161.42 365.94,160.00 363.42,159.37 C360.90,158.73 357.58,158.58 355.85,157.47 C354.11,156.37 353.17,155.42 353.01,152.74 C352.85,150.06 354.75,144.86 354.90,141.39 C355.06,137.92 354.27,134.76 353.96,131.92 C353.64,129.09 353.17,126.56 353.01,124.35 C352.85,122.15 344.97,119.62 353.01,118.68Z"/></clipPath><g clip-path="url(#c31)">
<path d="M353.01,118.68 C361.05,117.73 393.23,115.84 401.27,118.68 C409.31,121.52 401.90,131.29 401.27,135.71 C400.64,140.13 399.06,142.33 397.48,145.17 C395.91,148.01 394.33,150.53 391.81,152.74 C389.28,154.95 385.81,157.00 382.34,158.42 C378.87,159.84 374.14,161.10 370.99,161.26 C367.84,161.42 365.94,160.00 363.42,159.37 C360.90,158.73 357.58,158.58 355.85,157.47 C354.11,156.37 353.17,155.42 353.01,152.74 C352.85,150.06 354.75,144.86 354.90,141.39 C355.06,137.92 354.27,134.76 353.96,131.92 C353.64,129.09 353.17,126.56 353.01,124.35 C352.85,122.15 344.97,119.62 353.01,118.68Z" fill="#45519a" />
<ellipse cx="378.00" cy="138.00" rx="25.00" ry="24.00" fill="#4f86c6" filter="url(#b1)"/>
<ellipse cx="377.00" cy="139.00" rx="21.00" ry="21.00" fill="#72c6ec" filter="url(#b1)"/>
<ellipse cx="377.00" cy="139.00" rx="17.50" ry="17.50" fill="#9dca45" filter="url(#b1)"/>
<ellipse cx="374.50" cy="140.00" rx="9.50" ry="10.50" fill="#efe43a" filter="url(#b05)" transform="rotate(30 374.50 140.00)"/>
<ellipse cx="374.50" cy="140.00" rx="7.50" ry="8.80" fill="#f19a2e" filter="url(#b05)" transform="rotate(30 374.50 140.00)"/>
<ellipse cx="376.00" cy="138.00" rx="5.20" ry="6.20" fill="#e0522a" filter="url(#b05)" transform="rotate(35 376.00 138.00)"/>
<ellipse cx="372.00" cy="143.00" rx="3.00" ry="3.00" fill="#e0522a" filter="url(#b05)"/>
</g>
<clipPath id="c31b"><path d="M343.20,166.70 C343.77,165.22 344.70,163.23 346.00,162.30 C347.30,161.37 349.43,161.67 351.00,161.10 C352.57,160.53 353.92,159.63 355.40,158.90 C356.88,158.17 358.78,156.52 359.90,156.70 C361.02,156.88 360.98,159.07 362.10,160.00 C363.22,160.93 364.92,162.12 366.60,162.30 C368.28,162.48 370.72,160.73 372.20,161.10 C373.68,161.47 374.67,162.82 375.50,164.50 C376.33,166.18 377.20,169.53 377.20,171.20 C377.20,172.87 376.53,173.57 375.50,174.50 C374.47,175.43 372.48,175.97 371.00,176.80 C369.52,177.63 368.27,178.67 366.60,179.50 C364.93,180.33 362.87,180.77 361.00,181.80 C359.13,182.83 357.07,184.68 355.40,185.70 C353.73,186.72 352.38,187.72 351.00,187.90 C349.62,188.08 348.12,187.73 347.10,186.80 C346.08,185.87 345.47,183.97 344.90,182.30 C344.33,180.63 344.08,178.65 343.70,176.80 C343.32,174.95 342.68,172.88 342.60,171.20 C342.52,169.52 342.63,168.18 343.20,166.70Z"/></clipPath><g clip-path="url(#c31b)">
<path d="M343.20,166.70 C343.77,165.22 344.70,163.23 346.00,162.30 C347.30,161.37 349.43,161.67 351.00,161.10 C352.57,160.53 353.92,159.63 355.40,158.90 C356.88,158.17 358.78,156.52 359.90,156.70 C361.02,156.88 360.98,159.07 362.10,160.00 C363.22,160.93 364.92,162.12 366.60,162.30 C368.28,162.48 370.72,160.73 372.20,161.10 C373.68,161.47 374.67,162.82 375.50,164.50 C376.33,166.18 377.20,169.53 377.20,171.20 C377.20,172.87 376.53,173.57 375.50,174.50 C374.47,175.43 372.48,175.97 371.00,176.80 C369.52,177.63 368.27,178.67 366.60,179.50 C364.93,180.33 362.87,180.77 361.00,181.80 C359.13,182.83 357.07,184.68 355.40,185.70 C353.73,186.72 352.38,187.72 351.00,187.90 C349.62,188.08 348.12,187.73 347.10,186.80 C346.08,185.87 345.47,183.97 344.90,182.30 C344.33,180.63 344.08,178.65 343.70,176.80 C343.32,174.95 342.68,172.88 342.60,171.20 C342.52,169.52 342.63,168.18 343.20,166.70Z" fill="#45519a" />
<ellipse cx="360.00" cy="173.00" rx="14.00" ry="7.00" fill="#4f86c6" filter="url(#b1)" transform="rotate(-20 360.00 173.00)"/>
<ellipse cx="354.00" cy="172.00" rx="3.00" ry="2.50" fill="#72c6ec" filter="url(#b05)"/>
<ellipse cx="359.00" cy="170.00" rx="2.50" ry="3.00" fill="#72c6ec" filter="url(#b05)"/>
<ellipse cx="364.00" cy="173.00" rx="3.00" ry="2.00" fill="#72c6ec" filter="url(#b05)"/>
<ellipse cx="368.00" cy="170.00" rx="2.50" ry="2.50" fill="#72c6ec" filter="url(#b05)"/>
<ellipse cx="356.00" cy="177.00" rx="2.50" ry="1.80" fill="#72c6ec" filter="url(#b05)"/>
<ellipse cx="362.00" cy="176.00" rx="2.00" ry="1.50" fill="#72c6ec" filter="url(#b05)"/>
<ellipse cx="350.00" cy="168.00" rx="2.00" ry="1.50" fill="#72c6ec" filter="url(#b05)"/>
<ellipse cx="370.00" cy="166.00" rx="2.00" ry="1.50" fill="#72c6ec" filter="url(#b05)"/>
</g>
<clipPath id="c31c"><path d="M328.70,151.10 C329.50,149.25 330.88,149.07 332.00,150.00 C333.12,150.93 334.28,154.65 335.40,156.70 C336.52,158.75 337.68,160.45 338.70,162.30 C339.72,164.15 340.57,165.58 341.50,167.80 C342.43,170.02 343.65,173.18 344.30,175.60 C344.95,178.02 345.30,180.25 345.40,182.30 C345.50,184.35 345.37,186.22 344.90,187.90 C344.43,189.58 343.63,191.28 342.60,192.40 C341.57,193.52 341.47,194.13 338.70,194.60 C335.93,195.07 328.20,197.98 326.00,195.20 C323.80,192.42 325.30,183.58 325.50,177.90 C325.70,172.22 326.67,165.57 327.20,161.10 C327.73,156.63 327.90,152.95 328.70,151.10Z"/></clipPath><g clip-path="url(#c31c)">
<path d="M328.70,151.10 C329.50,149.25 330.88,149.07 332.00,150.00 C333.12,150.93 334.28,154.65 335.40,156.70 C336.52,158.75 337.68,160.45 338.70,162.30 C339.72,164.15 340.57,165.58 341.50,167.80 C342.43,170.02 343.65,173.18 344.30,175.60 C344.95,178.02 345.30,180.25 345.40,182.30 C345.50,184.35 345.37,186.22 344.90,187.90 C344.43,189.58 343.63,191.28 342.60,192.40 C341.57,193.52 341.47,194.13 338.70,194.60 C335.93,195.07 328.20,197.98 326.00,195.20 C323.80,192.42 325.30,183.58 325.50,177.90 C325.70,172.22 326.67,165.57 327.20,161.10 C327.73,156.63 327.90,152.95 328.70,151.10Z" fill="#45519a" />
<ellipse cx="332.00" cy="175.00" rx="5.00" ry="18.00" fill="#4f86c6" filter="url(#b1)"/>
<ellipse cx="331.00" cy="170.00" rx="2.60" ry="9.00" fill="#72c6ec" filter="url(#b05)"/>
<ellipse cx="331.00" cy="183.00" rx="3.00" ry="6.00" fill="#72c6ec" filter="url(#b05)"/>
<ellipse cx="330.50" cy="172.00" rx="1.50" ry="2.50" fill="#9dca45" filter="url(#b05)"/>
<ellipse cx="331.00" cy="191.50" rx="3.20" ry="3.00" fill="#9dca45" filter="url(#b05)"/>
<ellipse cx="330.40" cy="191.80" rx="1.80" ry="1.60" fill="#efe43a" filter="url(#b05)"/>
</g>
<ellipse cx="333.14" cy="135.71" rx="1.32" ry="1.89" fill="#45519a"/>
<ellipse cx="338.82" cy="151.80" rx="1.70" ry="1.51" fill="#45519a"/>
<ellipse cx="341.66" cy="145.17" rx="0.76" ry="0.76" fill="#45519a"/>
<path d="M339.20,163.15 L347.33,156.15 L363.42,163.15 L385.18,156.91 L400.89,158.42 L400.89,175.45 L384.24,192.48 L357.74,194.75 L350.17,184.91 L339.20,163.15" fill="none" stroke="#111" stroke-width="0.8"/>
<clipPath id="c41"><path d="M439.60,177.34 C438.66,175.45 437.24,169.46 436.76,165.99 C436.29,162.52 436.45,159.68 436.76,156.53 C437.08,153.37 437.87,149.90 438.66,147.06 C439.44,144.23 440.55,141.70 441.49,139.49 C442.44,137.29 442.44,135.24 444.33,133.82 C446.23,132.40 450.17,132.08 452.85,130.98 C455.53,129.87 458.37,128.61 460.42,127.19 C462.47,125.77 463.73,123.09 465.15,122.46 C466.57,121.83 467.99,122.62 468.94,123.41 C469.88,124.20 469.72,126.25 470.83,127.19 C471.93,128.14 474.83,128.14 475.56,129.09 C476.28,130.03 475.97,131.45 475.18,132.87 C474.39,134.29 471.87,135.87 470.83,137.60 C469.79,139.34 469.72,141.70 468.94,143.28 C468.15,144.86 467.52,146.12 466.10,147.06 C464.68,148.01 462.15,148.48 460.42,148.96 C458.68,149.43 457.11,149.27 455.69,149.90 C454.27,150.53 453.16,151.32 451.90,152.74 C450.64,154.16 449.06,156.21 448.12,158.42 C447.17,160.63 446.86,163.47 446.23,165.99 C445.59,168.51 444.96,171.67 444.33,173.56 C443.70,175.45 443.23,176.71 442.44,177.34 C441.65,177.97 440.55,179.24 439.60,177.34Z"/></clipPath><g clip-path="url(#c41)">
<path d="M439.60,177.34 C438.66,175.45 437.24,169.46 436.76,165.99 C436.29,162.52 436.45,159.68 436.76,156.53 C437.08,153.37 437.87,149.90 438.66,147.06 C439.44,144.23 440.55,141.70 441.49,139.49 C442.44,137.29 442.44,135.24 444.33,133.82 C446.23,132.40 450.17,132.08 452.85,130.98 C455.53,129.87 458.37,128.61 460.42,127.19 C462.47,125.77 463.73,123.09 465.15,122.46 C466.57,121.83 467.99,122.62 468.94,123.41 C469.88,124.20 469.72,126.25 470.83,127.19 C471.93,128.14 474.83,128.14 475.56,129.09 C476.28,130.03 475.97,131.45 475.18,132.87 C474.39,134.29 471.87,135.87 470.83,137.60 C469.79,139.34 469.72,141.70 468.94,143.28 C468.15,144.86 467.52,146.12 466.10,147.06 C464.68,148.01 462.15,148.48 460.42,148.96 C458.68,149.43 457.11,149.27 455.69,149.90 C454.27,150.53 453.16,151.32 451.90,152.74 C450.64,154.16 449.06,156.21 448.12,158.42 C447.17,160.63 446.86,163.47 446.23,165.99 C445.59,168.51 444.96,171.67 444.33,173.56 C443.70,175.45 443.23,176.71 442.44,177.34 C441.65,177.97 440.55,179.24 439.60,177.34Z" fill="#45519a" />
<path d="M440.55,173.56 C439.92,171.98 439.38,167.25 439.22,164.10 C439.07,160.94 439.07,157.79 439.60,154.63 C440.14,151.48 441.34,148.01 442.44,145.17 C443.54,142.33 444.33,139.49 446.23,137.60 C448.12,135.71 451.27,135.08 453.80,133.82 C456.32,132.56 459.38,131.36 461.37,130.03 C463.35,128.71 464.46,126.34 465.72,125.87 C466.98,125.40 467.93,126.44 468.94,127.19 C469.94,127.95 471.55,129.15 471.77,130.41 C471.99,131.67 471.05,133.25 470.26,134.76 C469.47,136.28 467.89,137.92 467.04,139.49 C466.19,141.07 466.25,143.03 465.15,144.23 C464.05,145.42 462.15,146.15 460.42,146.69 C458.68,147.22 456.48,146.75 454.74,147.44 C453.01,148.14 451.43,149.18 450.01,150.85 C448.59,152.52 447.17,154.95 446.23,157.47 C445.28,160.00 444.87,163.31 444.33,165.99 C443.80,168.67 443.64,172.30 443.01,173.56 C442.38,174.82 441.18,175.14 440.55,173.56Z" fill="#72c6ec" filter="url(#b1)" />
<path d="M441.49,167.88 C441.12,165.99 441.02,160.00 441.49,156.53 C441.97,153.06 443.23,149.75 444.33,147.06 C445.44,144.38 446.38,142.18 448.12,140.44 C449.85,138.71 452.69,137.76 454.74,136.66 C456.79,135.55 458.91,134.42 460.42,133.82 C461.93,133.22 463.07,132.81 463.83,133.06 C464.58,133.31 465.15,134.10 464.96,135.33 C464.77,136.56 463.61,138.96 462.69,140.44 C461.78,141.92 460.80,143.37 459.47,144.23 C458.15,145.08 456.16,145.08 454.74,145.55 C453.32,146.02 452.16,146.02 450.96,147.06 C449.76,148.11 448.50,149.90 447.55,151.80 C446.60,153.69 445.91,155.74 445.28,158.42 C444.65,161.10 444.40,166.30 443.77,167.88 C443.13,169.46 441.87,169.77 441.49,167.88Z" fill="#9dca45" filter="url(#b1)" />
<path d="M438.85,160.31 C438.85,158.10 439.38,154.32 439.98,151.80 C440.58,149.27 441.40,147.22 442.44,145.17 C443.48,143.12 444.87,140.38 446.23,139.49 C447.58,138.61 449.73,138.93 450.58,139.87 C451.43,140.82 451.59,143.34 451.34,145.17 C451.08,147.00 450.07,149.11 449.06,150.85 C448.06,152.58 446.38,153.53 445.28,155.58 C444.18,157.63 443.32,161.57 442.44,163.15 C441.56,164.73 440.58,165.52 439.98,165.04 C439.38,164.57 438.85,162.52 438.85,160.31Z" fill="#efe43a" filter="url(#b1)" />
<ellipse cx="443.77" cy="151.80" rx="1.70" ry="7.95" fill="#f19a2e" filter="url(#b1)" transform="rotate(28 443.77 151.80)"/>
<ellipse cx="443.39" cy="152.74" rx="0.95" ry="6.43" fill="#e0502a" filter="url(#b05)" transform="rotate(28 443.39 152.74)"/>
<ellipse cx="448.31" cy="143.28" rx="1.51" ry="2.27" fill="#f19a2e" filter="url(#b05)" transform="rotate(20 448.31 143.28)"/>
<ellipse cx="448.31" cy="143.28" rx="0.76" ry="1.32" fill="#e0502a" filter="url(#b05)" transform="rotate(20 448.31 143.28)"/>
<ellipse cx="465.15" cy="136.66" rx="1.32" ry="1.51" fill="#4f86c6" filter="url(#b05)"/>
</g>
<path d="M455.5,117.7V195.5 M421.2,149.5H498.8" stroke="#333" stroke-width="1"/>
<rect x="35.6" y="26.2" width="77.6" height="77.8" fill="none" stroke="#111" stroke-width="1"/>
<path d="M35.6,101.0h-2.8M35.6,95.7h-1.6M35.6,92.3h-1.6M35.6,89.9h-1.6M35.6,88.0h-1.6M35.6,86.5h-1.6M35.6,84.1h-2.8M35.6,78.8h-1.6M35.6,75.4h-1.6M35.6,73.0h-1.6M35.6,71.0h-1.6M35.6,69.6h-1.6M35.6,67.2h-2.8M35.6,61.9h-1.6M35.6,58.5h-1.6M35.6,56.1h-1.6M35.6,54.1h-1.6M35.6,52.7h-1.6M35.6,50.3h-2.8M35.6,44.9h-1.6M35.6,41.6h-1.6M35.6,39.1h-1.6M35.6,37.2h-1.6M35.6,35.8h-1.6M35.6,33.3h-2.8M35.6,28.0h-1.6M38.6,104.0v2.8M43.9,104.0v1.8M47.3,104.0v1.8M49.7,104.0v1.8M51.6,104.0v1.8M53.1,104.0v1.8M55.5,104.0v2.8M60.8,104.0v1.8M64.1,104.0v1.8M66.6,104.0v1.8M68.5,104.0v1.8M69.9,104.0v1.8M72.3,104.0v2.8M77.6,104.0v1.8M81.0,104.0v1.8M83.4,104.0v1.8M85.4,104.0v1.8M86.8,104.0v1.8M89.2,104.0v2.8M94.5,104.0v1.8M97.9,104.0v1.8M100.3,104.0v1.8M102.2,104.0v1.8M103.7,104.0v1.8M106.1,104.0v2.8M111.4,104.0v1.8" stroke="#1a1a1a" stroke-width="0.9" fill="none"/>
<rect x="131.3" y="26.2" width="77.6" height="77.8" fill="none" stroke="#111" stroke-width="1"/>
<path d="M131.3,101.0h-2.8M131.3,95.7h-1.6M131.3,92.3h-1.6M131.3,89.9h-1.6M131.3,88.0h-1.6M131.3,86.5h-1.6M131.3,84.1h-2.8M131.3,78.8h-1.6M131.3,75.4h-1.6M131.3,73.0h-1.6M131.3,71.0h-1.6M131.3,69.6h-1.6M131.3,67.2h-2.8M131.3,61.9h-1.6M131.3,58.5h-1.6M131.3,56.1h-1.6M131.3,54.1h-1.6M131.3,52.7h-1.6M131.3,50.3h-2.8M131.3,44.9h-1.6M131.3,41.6h-1.6M131.3,39.1h-1.6M131.3,37.2h-1.6M131.3,35.8h-1.6M131.3,33.3h-2.8M131.3,28.0h-1.6M134.3,104.0v2.8M139.6,104.0v1.8M143.0,104.0v1.8M145.4,104.0v1.8M147.3,104.0v1.8M148.8,104.0v1.8M151.2,104.0v2.8M156.5,104.0v1.8M159.8,104.0v1.8M162.3,104.0v1.8M164.2,104.0v1.8M165.6,104.0v1.8M168.0,104.0v2.8M173.3,104.0v1.8M176.7,104.0v1.8M179.1,104.0v1.8M181.1,104.0v1.8M182.5,104.0v1.8M184.9,104.0v2.8M190.2,104.0v1.8M193.6,104.0v1.8M196.0,104.0v1.8M197.9,104.0v1.8M199.4,104.0v1.8M201.8,104.0v2.8M207.1,104.0v1.8" stroke="#1a1a1a" stroke-width="0.9" fill="none"/>
<rect x="228.1" y="26.2" width="77.6" height="77.8" fill="none" stroke="#111" stroke-width="1"/>
<path d="M228.1,101.0h-2.8M228.1,95.7h-1.6M228.1,92.3h-1.6M228.1,89.9h-1.6M228.1,88.0h-1.6M228.1,86.5h-1.6M228.1,84.1h-2.8M228.1,78.8h-1.6M228.1,75.4h-1.6M228.1,73.0h-1.6M228.1,71.0h-1.6M228.1,69.6h-1.6M228.1,67.2h-2.8M228.1,61.9h-1.6M228.1,58.5h-1.6M228.1,56.1h-1.6M228.1,54.1h-1.6M228.1,52.7h-1.6M228.1,50.3h-2.8M228.1,44.9h-1.6M228.1,41.6h-1.6M228.1,39.1h-1.6M228.1,37.2h-1.6M228.1,35.8h-1.6M228.1,33.3h-2.8M228.1,28.0h-1.6M231.1,104.0v2.8M236.4,104.0v1.8M239.8,104.0v1.8M242.2,104.0v1.8M244.1,104.0v1.8M245.6,104.0v1.8M248.0,104.0v2.8M253.3,104.0v1.8M256.6,104.0v1.8M259.1,104.0v1.8M261.0,104.0v1.8M262.4,104.0v1.8M264.8,104.0v2.8M270.1,104.0v1.8M273.5,104.0v1.8M275.9,104.0v1.8M277.9,104.0v1.8M279.3,104.0v1.8M281.7,104.0v2.8M287.0,104.0v1.8M290.4,104.0v1.8M292.8,104.0v1.8M294.7,104.0v1.8M296.2,104.0v1.8M298.6,104.0v2.8M303.9,104.0v1.8" stroke="#1a1a1a" stroke-width="0.9" fill="none"/>
<rect x="324.3" y="26.2" width="77.6" height="77.8" fill="none" stroke="#111" stroke-width="1"/>
<path d="M324.3,101.0h-2.8M324.3,95.7h-1.6M324.3,92.3h-1.6M324.3,89.9h-1.6M324.3,88.0h-1.6M324.3,86.5h-1.6M324.3,84.1h-2.8M324.3,78.8h-1.6M324.3,75.4h-1.6M324.3,73.0h-1.6M324.3,71.0h-1.6M324.3,69.6h-1.6M324.3,67.2h-2.8M324.3,61.9h-1.6M324.3,58.5h-1.6M324.3,56.1h-1.6M324.3,54.1h-1.6M324.3,52.7h-1.6M324.3,50.3h-2.8M324.3,44.9h-1.6M324.3,41.6h-1.6M324.3,39.1h-1.6M324.3,37.2h-1.6M324.3,35.8h-1.6M324.3,33.3h-2.8M324.3,28.0h-1.6M327.3,104.0v2.8M332.6,104.0v1.8M336.0,104.0v1.8M338.4,104.0v1.8M340.3,104.0v1.8M341.8,104.0v1.8M344.2,104.0v2.8M349.5,104.0v1.8M352.8,104.0v1.8M355.3,104.0v1.8M357.2,104.0v1.8M358.6,104.0v1.8M361.0,104.0v2.8M366.3,104.0v1.8M369.7,104.0v1.8M372.1,104.0v1.8M374.1,104.0v1.8M375.5,104.0v1.8M377.9,104.0v2.8M383.2,104.0v1.8M386.6,104.0v1.8M389.0,104.0v1.8M390.9,104.0v1.8M392.4,104.0v1.8M394.8,104.0v2.8M400.1,104.0v1.8" stroke="#1a1a1a" stroke-width="0.9" fill="none"/>
<rect x="421.2" y="26.2" width="77.6" height="77.8" fill="none" stroke="#111" stroke-width="1"/>
<path d="M421.2,101.0h-2.8M421.2,95.7h-1.6M421.2,92.3h-1.6M421.2,89.9h-1.6M421.2,88.0h-1.6M421.2,86.5h-1.6M421.2,84.1h-2.8M421.2,78.8h-1.6M421.2,75.4h-1.6M421.2,73.0h-1.6M421.2,71.0h-1.6M421.2,69.6h-1.6M421.2,67.2h-2.8M421.2,61.9h-1.6M421.2,58.5h-1.6M421.2,56.1h-1.6M421.2,54.1h-1.6M421.2,52.7h-1.6M421.2,50.3h-2.8M421.2,44.9h-1.6M421.2,41.6h-1.6M421.2,39.1h-1.6M421.2,37.2h-1.6M421.2,35.8h-1.6M421.2,33.3h-2.8M421.2,28.0h-1.6M424.2,104.0v2.8M429.5,104.0v1.8M432.9,104.0v1.8M435.3,104.0v1.8M437.2,104.0v1.8M438.7,104.0v1.8M441.1,104.0v2.8M446.4,104.0v1.8M449.7,104.0v1.8M452.2,104.0v1.8M454.1,104.0v1.8M455.5,104.0v1.8M457.9,104.0v2.8M463.2,104.0v1.8M466.6,104.0v1.8M469.0,104.0v1.8M471.0,104.0v1.8M472.4,104.0v1.8M474.8,104.0v2.8M480.1,104.0v1.8M483.5,104.0v1.8M485.9,104.0v1.8M487.8,104.0v1.8M489.3,104.0v1.8M491.7,104.0v2.8M497.0,104.0v1.8" stroke="#1a1a1a" stroke-width="0.9" fill="none"/>
<rect x="35.6" y="117.7" width="77.6" height="77.8" fill="none" stroke="#111" stroke-width="1"/>
<path d="M35.6,192.5h-2.8M35.6,187.2h-1.6M35.6,183.8h-1.6M35.6,181.4h-1.6M35.6,179.5h-1.6M35.6,178.0h-1.6M35.6,175.6h-2.8M35.6,170.3h-1.6M35.6,166.9h-1.6M35.6,164.5h-1.6M35.6,162.5h-1.6M35.6,161.1h-1.6M35.6,158.7h-2.8M35.6,153.4h-1.6M35.6,150.0h-1.6M35.6,147.6h-1.6M35.6,145.6h-1.6M35.6,144.2h-1.6M35.6,141.8h-2.8M35.6,136.4h-1.6M35.6,133.1h-1.6M35.6,130.6h-1.6M35.6,128.7h-1.6M35.6,127.3h-1.6M35.6,124.8h-2.8M35.6,119.5h-1.6M38.6,195.5v2.8M43.9,195.5v1.8M47.3,195.5v1.8M49.7,195.5v1.8M51.6,195.5v1.8M53.1,195.5v1.8M55.5,195.5v2.8M60.8,195.5v1.8M64.1,195.5v1.8M66.6,195.5v1.8M68.5,195.5v1.8M69.9,195.5v1.8M72.3,195.5v2.8M77.6,195.5v1.8M81.0,195.5v1.8M83.4,195.5v1.8M85.4,195.5v1.8M86.8,195.5v1.8M89.2,195.5v2.8M94.5,195.5v1.8M97.9,195.5v1.8M100.3,195.5v1.8M102.2,195.5v1.8M103.7,195.5v1.8M106.1,195.5v2.8M111.4,195.5v1.8" stroke="#1a1a1a" stroke-width="0.9" fill="none"/>
<rect x="131.3" y="117.7" width="77.6" height="77.8" fill="none" stroke="#111" stroke-width="1"/>
<path d="M131.3,192.5h-2.8M131.3,187.2h-1.6M131.3,183.8h-1.6M131.3,181.4h-1.6M131.3,179.5h-1.6M131.3,178.0h-1.6M131.3,175.6h-2.8M131.3,170.3h-1.6M131.3,166.9h-1.6M131.3,164.5h-1.6M131.3,162.5h-1.6M131.3,161.1h-1.6M131.3,158.7h-2.8M131.3,153.4h-1.6M131.3,150.0h-1.6M131.3,147.6h-1.6M131.3,145.6h-1.6M131.3,144.2h-1.6M131.3,141.8h-2.8M131.3,136.4h-1.6M131.3,133.1h-1.6M131.3,130.6h-1.6M131.3,128.7h-1.6M131.3,127.3h-1.6M131.3,124.8h-2.8M131.3,119.5h-1.6M134.3,195.5v2.8M139.6,195.5v1.8M143.0,195.5v1.8M145.4,195.5v1.8M147.3,195.5v1.8M148.8,195.5v1.8M151.2,195.5v2.8M156.5,195.5v1.8M159.8,195.5v1.8M162.3,195.5v1.8M164.2,195.5v1.8M165.6,195.5v1.8M168.0,195.5v2.8M173.3,195.5v1.8M176.7,195.5v1.8M179.1,195.5v1.8M181.1,195.5v1.8M182.5,195.5v1.8M184.9,195.5v2.8M190.2,195.5v1.8M193.6,195.5v1.8M196.0,195.5v1.8M197.9,195.5v1.8M199.4,195.5v1.8M201.8,195.5v2.8M207.1,195.5v1.8" stroke="#1a1a1a" stroke-width="0.9" fill="none"/>
<rect x="228.1" y="117.7" width="77.6" height="77.8" fill="none" stroke="#111" stroke-width="1"/>
<path d="M228.1,192.5h-2.8M228.1,187.2h-1.6M228.1,183.8h-1.6M228.1,181.4h-1.6M228.1,179.5h-1.6M228.1,178.0h-1.6M228.1,175.6h-2.8M228.1,170.3h-1.6M228.1,166.9h-1.6M228.1,164.5h-1.6M228.1,162.5h-1.6M228.1,161.1h-1.6M228.1,158.7h-2.8M228.1,153.4h-1.6M228.1,150.0h-1.6M228.1,147.6h-1.6M228.1,145.6h-1.6M228.1,144.2h-1.6M228.1,141.8h-2.8M228.1,136.4h-1.6M228.1,133.1h-1.6M228.1,130.6h-1.6M228.1,128.7h-1.6M228.1,127.3h-1.6M228.1,124.8h-2.8M228.1,119.5h-1.6M231.1,195.5v2.8M236.4,195.5v1.8M239.8,195.5v1.8M242.2,195.5v1.8M244.1,195.5v1.8M245.6,195.5v1.8M248.0,195.5v2.8M253.3,195.5v1.8M256.6,195.5v1.8M259.1,195.5v1.8M261.0,195.5v1.8M262.4,195.5v1.8M264.8,195.5v2.8M270.1,195.5v1.8M273.5,195.5v1.8M275.9,195.5v1.8M277.9,195.5v1.8M279.3,195.5v1.8M281.7,195.5v2.8M287.0,195.5v1.8M290.4,195.5v1.8M292.8,195.5v1.8M294.7,195.5v1.8M296.2,195.5v1.8M298.6,195.5v2.8M303.9,195.5v1.8" stroke="#1a1a1a" stroke-width="0.9" fill="none"/>
<rect x="324.3" y="117.7" width="77.6" height="77.8" fill="none" stroke="#111" stroke-width="1"/>
<path d="M324.3,192.5h-2.8M324.3,187.2h-1.6M324.3,183.8h-1.6M324.3,181.4h-1.6M324.3,179.5h-1.6M324.3,178.0h-1.6M324.3,175.6h-2.8M324.3,170.3h-1.6M324.3,166.9h-1.6M324.3,164.5h-1.6M324.3,162.5h-1.6M324.3,161.1h-1.6M324.3,158.7h-2.8M324.3,153.4h-1.6M324.3,150.0h-1.6M324.3,147.6h-1.6M324.3,145.6h-1.6M324.3,144.2h-1.6M324.3,141.8h-2.8M324.3,136.4h-1.6M324.3,133.1h-1.6M324.3,130.6h-1.6M324.3,128.7h-1.6M324.3,127.3h-1.6M324.3,124.8h-2.8M324.3,119.5h-1.6M327.3,195.5v2.8M332.6,195.5v1.8M336.0,195.5v1.8M338.4,195.5v1.8M340.3,195.5v1.8M341.8,195.5v1.8M344.2,195.5v2.8M349.5,195.5v1.8M352.8,195.5v1.8M355.3,195.5v1.8M357.2,195.5v1.8M358.6,195.5v1.8M361.0,195.5v2.8M366.3,195.5v1.8M369.7,195.5v1.8M372.1,195.5v1.8M374.1,195.5v1.8M375.5,195.5v1.8M377.9,195.5v2.8M383.2,195.5v1.8M386.6,195.5v1.8M389.0,195.5v1.8M390.9,195.5v1.8M392.4,195.5v1.8M394.8,195.5v2.8M400.1,195.5v1.8" stroke="#1a1a1a" stroke-width="0.9" fill="none"/>
<rect x="421.2" y="117.7" width="77.6" height="77.8" fill="none" stroke="#111" stroke-width="1"/>
<path d="M421.2,192.5h-2.8M421.2,187.2h-1.6M421.2,183.8h-1.6M421.2,181.4h-1.6M421.2,179.5h-1.6M421.2,178.0h-1.6M421.2,175.6h-2.8M421.2,170.3h-1.6M421.2,166.9h-1.6M421.2,164.5h-1.6M421.2,162.5h-1.6M421.2,161.1h-1.6M421.2,158.7h-2.8M421.2,153.4h-1.6M421.2,150.0h-1.6M421.2,147.6h-1.6M421.2,145.6h-1.6M421.2,144.2h-1.6M421.2,141.8h-2.8M421.2,136.4h-1.6M421.2,133.1h-1.6M421.2,130.6h-1.6M421.2,128.7h-1.6M421.2,127.3h-1.6M421.2,124.8h-2.8M421.2,119.5h-1.6M424.2,195.5v2.8M429.5,195.5v1.8M432.9,195.5v1.8M435.3,195.5v1.8M437.2,195.5v1.8M438.7,195.5v1.8M441.1,195.5v2.8M446.4,195.5v1.8M449.7,195.5v1.8M452.2,195.5v1.8M454.1,195.5v1.8M455.5,195.5v1.8M457.9,195.5v2.8M463.2,195.5v1.8M466.6,195.5v1.8M469.0,195.5v1.8M471.0,195.5v1.8M472.4,195.5v1.8M474.8,195.5v2.8M480.1,195.5v1.8M483.5,195.5v1.8M485.9,195.5v1.8M487.8,195.5v1.8M489.3,195.5v1.8M491.7,195.5v2.8M497.0,195.5v1.8" stroke="#1a1a1a" stroke-width="0.9" fill="none"/>
<text x="7.7" y="19.8" font-size="11" text-anchor="start" fill="#1a1a1a" style="stroke-width:0">A</text>
<text x="43.8" y="20.8" font-size="7.6" textLength="19" lengthAdjust="spacingAndGlyphs">Neutr</text>
<text x="84.2" y="20.8" font-size="7.6" textLength="21.2" lengthAdjust="spacingAndGlyphs">Gr-1hi</text>
<path d="M25.7,145 V33.2" stroke="#777" stroke-width="1.3"/>
<path d="M25.7,27.2 L28.8,35.0 L25.7,34.0 L22.599999999999998,35.0 Z" fill="#111"/>
<text transform="translate(29.0,170.9) rotate(-90)" font-size="9" text-anchor="middle" textLength="16.3" lengthAdjust="spacingAndGlyphs" fill="#1a1a1a">Gr-1</text>
<path d="M122.0,145.4 V33.2" stroke="#777" stroke-width="1.3"/>
<path d="M122.0,27.2 L125.1,35.0 L122.0,34.0 L118.9,35.0 Z" fill="#111"/>
<text transform="translate(125.3,167.9) rotate(-90)" font-size="9" text-anchor="middle" textLength="22.9" lengthAdjust="spacingAndGlyphs" fill="#1a1a1a">F4/80</text>
<path d="M218.0,150.5 V33.2" stroke="#777" stroke-width="1.3"/>
<path d="M218.0,27.2 L221.1,35.0 L218.0,34.0 L214.9,35.0 Z" fill="#111"/>
<text transform="translate(221.3,173.5) rotate(-90)" font-size="9" text-anchor="middle" textLength="22.6" lengthAdjust="spacingAndGlyphs" fill="#1a1a1a">F4/80</text>
<path d="M315.0,149.2 V33.2" stroke="#777" stroke-width="1.3"/>
<path d="M315.0,27.2 L318.1,35.0 L315.0,34.0 L311.9,35.0 Z" fill="#111"/>
<text transform="translate(318.3,172.5) rotate(-90)" font-size="9" text-anchor="middle" textLength="15.5" lengthAdjust="spacingAndGlyphs" fill="#1a1a1a">SSC</text>
<path d="M411.6,139.5 V33.2" stroke="#777" stroke-width="1.3"/>
<path d="M411.6,27.2 L414.70000000000005,35.0 L411.6,34.0 L408.5,35.0 Z" fill="#111"/>
<text transform="translate(414.90000000000003,169.0) rotate(-90)" font-size="9" text-anchor="middle" textLength="26.5" lengthAdjust="spacingAndGlyphs" fill="#1a1a1a">Vcam1</text>
<text transform="translate(17.3,70.7) rotate(-90)" font-size="7.6" text-anchor="middle" textLength="12.1" lengthAdjust="spacingAndGlyphs" fill="#1a1a1a">Ctrl</text>
<text transform="translate(17.3,176.1) rotate(-90)" font-size="7.6" fill="#1a1a1a"><tspan textLength="16.6" lengthAdjust="spacingAndGlyphs">Maea</tspan><tspan x="16.9" dy="-3.4" font-size="6" textLength="26" lengthAdjust="spacingAndGlyphs">Csf1r-Cre</tspan></text>
<text x="33.6" y="209.3" font-size="9" textLength="27.1" lengthAdjust="spacingAndGlyphs" fill="#1a1a1a">CD115</text>
<path d="M61.0,205.8 H103.1" stroke="#333" stroke-width="1"/>
<path d="M108.1,205.8 L100.6,202.60000000000002 L102.1,205.8 L100.6,209.0 Z" fill="#111"/>
<text x="133.9" y="209.3" font-size="9" textLength="21.3" lengthAdjust="spacingAndGlyphs" fill="#1a1a1a">B220</text>
<path d="M155.5,205.8 H197.6" stroke="#333" stroke-width="1"/>
<path d="M202.6,205.8 L195.1,202.60000000000002 L196.6,205.8 L195.1,209.0 Z" fill="#111"/>
<text x="228.2" y="209.3" font-size="9" textLength="26.7" lengthAdjust="spacingAndGlyphs" fill="#1a1a1a">CD115</text>
<path d="M255.20000000000002,205.8 H298" stroke="#333" stroke-width="1"/>
<path d="M303,205.8 L295.5,202.60000000000002 L297,205.8 L295.5,209.0 Z" fill="#111"/>
<text x="322.8" y="209.3" font-size="9" textLength="15.3" lengthAdjust="spacingAndGlyphs" fill="#1a1a1a">FSC</text>
<path d="M338.40000000000003,205.8 H385.4" stroke="#333" stroke-width="1"/>
<path d="M390.4,205.8 L382.9,202.60000000000002 L384.4,205.8 L382.9,209.0 Z" fill="#111"/>
<text x="422.5" y="209.3" font-size="9" textLength="22.4" lengthAdjust="spacingAndGlyphs" fill="#1a1a1a">Maea</text>
<path d="M445.2,205.8 H488" stroke="#333" stroke-width="1"/>
<path d="M493,205.8 L485.5,202.60000000000002 L487,205.8 L485.5,209.0 Z" fill="#111"/>
<path d="M100.4,81.5 H115.8 V86.2 H122" stroke="#111" stroke-width="1" fill="none" stroke-dasharray="2.6,1.6"/>
<path d="M130,86.2 L120.4,82.4 L122.5,86.2 L120.4,90 Z" fill="#111"/>
<path d="M146.7,37 V17.5 H266 V20" stroke="#111" stroke-width="1" fill="none" stroke-dasharray="2.6,1.6"/>
<path d="M266,25 L263.2,18.8 L266,20.3 L268.8,18.8 Z" fill="#111"/>
<path d="M286.3,36.1 H307.9 V16.5 H362.7 V20" stroke="#111" stroke-width="1" fill="none" stroke-dasharray="2.6,1.6"/>
<path d="M362.7,25.6 L359.9,19.4 L362.7,20.9 L365.5,19.4 Z" fill="#111"/>
<path d="M390.8,93.5 H406.5 V66 H410" stroke="#111" stroke-width="1" fill="none" stroke-dasharray="2.6,1.6"/>
<path d="M417.4,66 L409.6,63.1 L411.2,66 L409.6,68.9 Z" fill="#111"/>
<text x="7.2" y="240.2" font-size="11" text-anchor="start" fill="#1a1a1a" style="stroke-width:0">B</text>
<path d="M34.8,317.4h-2.6M34.8,313.8h-1.5M34.8,310.2h-2.6M34.8,306.6h-1.5M34.8,303.0h-2.6M34.8,299.4h-1.5M34.8,295.8h-2.6M34.8,292.2h-1.5M34.8,288.6h-2.6M34.8,285.0h-1.5M34.8,281.4h-2.6M34.8,277.8h-1.5M34.8,274.2h-2.6M34.8,270.7h-1.5M34.8,267.1h-2.6M34.8,263.5h-1.5M34.8,259.9h-2.6M34.8,256.3h-1.5M34.8,252.7h-2.6M34.8,249.1h-1.5M34.8,245.5h-2.6M40.9,318.4v1.6M44.7,318.4v1.6M48.4,318.4v1.6M51.5,318.4v1.6M53.8,318.4v1.6M55.3,318.4v2.6M59.6,318.4v1.5M62.1,318.4v1.5M63.9,318.4v1.5M65.3,318.4v1.5M66.5,318.4v1.5M67.4,318.4v1.5M68.3,318.4v1.5M69.0,318.4v1.5M69.7,318.4v2.6M74.0,318.4v1.5M76.5,318.4v1.5M78.3,318.4v1.5M79.7,318.4v1.5M80.9,318.4v1.5M81.8,318.4v1.5M82.7,318.4v1.5M83.4,318.4v1.5M84.1,318.4v2.6M88.4,318.4v1.5M90.9,318.4v1.5M92.7,318.4v1.5M94.1,318.4v1.5M95.3,318.4v1.5M96.2,318.4v1.5M97.1,318.4v1.5M97.8,318.4v1.5M98.5,318.4v2.6M102.8,318.4v1.5M105.3,318.4v1.5M107.1,318.4v1.5M108.5,318.4v1.5M109.7,318.4v1.5" stroke="#222" stroke-width="0.75" fill="none"/>
<text x="53.8" y="237.7" font-size="7.8" textLength="36.6" lengthAdjust="spacingAndGlyphs" fill="#1a1a1a">Neutrophil</text>
<path d="M117.4,317.5h-2.6M117.4,313.9h-1.5M117.4,310.3h-2.6M117.4,306.6h-1.5M117.4,303.0h-2.6M117.4,299.4h-1.5M117.4,295.8h-2.6M117.4,292.2h-1.5M117.4,288.5h-2.6M117.4,284.9h-1.5M117.4,281.3h-2.6M117.4,277.7h-1.5M117.4,274.1h-2.6M117.4,270.4h-1.5M117.4,266.8h-2.6M117.4,263.2h-1.5M117.4,259.6h-2.6M117.4,255.9h-1.5M117.4,252.3h-2.6M117.4,248.7h-1.5M117.4,245.1h-2.6M123.5,318.5v1.6M127.3,318.5v1.6M131.1,318.5v1.6M134.2,318.5v1.6M136.4,318.5v1.6M138.0,318.5v2.6M142.3,318.5v1.5M144.9,318.5v1.5M146.7,318.5v1.5M148.1,318.5v1.5M149.2,318.5v1.5M150.2,318.5v1.5M151.0,318.5v1.5M151.8,318.5v1.5M152.5,318.5v2.6M156.8,318.5v1.5M159.4,318.5v1.5M161.2,318.5v1.5M162.6,318.5v1.5M163.7,318.5v1.5M164.7,318.5v1.5M165.5,318.5v1.5M166.3,318.5v1.5M166.9,318.5v2.6M171.3,318.5v1.5M173.8,318.5v1.5M175.6,318.5v1.5M177.0,318.5v1.5M178.2,318.5v1.5M179.2,318.5v1.5M180.0,318.5v1.5M180.7,318.5v1.5M181.4,318.5v2.6M185.8,318.5v1.5M188.3,318.5v1.5M190.1,318.5v1.5M191.5,318.5v1.5M192.7,318.5v1.5" stroke="#222" stroke-width="0.75" fill="none"/>
<text x="132.3" y="237.7" font-size="7.8" fill="#1a1a1a">Gr-1<tspan dy="-2.9" font-size="6.2">hi</tspan><tspan dy="2.9" font-size="7.8"> mono</tspan></text>
<path d="M201.2,317.5h-2.6M201.2,313.9h-1.5M201.2,310.3h-2.6M201.2,306.6h-1.5M201.2,303.0h-2.6M201.2,299.4h-1.5M201.2,295.8h-2.6M201.2,292.2h-1.5M201.2,288.5h-2.6M201.2,284.9h-1.5M201.2,281.3h-2.6M201.2,277.7h-1.5M201.2,274.1h-2.6M201.2,270.4h-1.5M201.2,266.8h-2.6M201.2,263.2h-1.5M201.2,259.6h-2.6M201.2,255.9h-1.5M201.2,252.3h-2.6M201.2,248.7h-1.5M201.2,245.1h-2.6M207.2,318.5v1.6M211.0,318.5v1.6M214.8,318.5v1.6M217.8,318.5v1.6M220.0,318.5v1.6M221.5,318.5v2.6M225.8,318.5v1.5M228.4,318.5v1.5M230.1,318.5v1.5M231.5,318.5v1.5M232.7,318.5v1.5M233.6,318.5v1.5M234.5,318.5v1.5M235.2,318.5v1.5M235.8,318.5v2.6M240.1,318.5v1.5M242.7,318.5v1.5M244.5,318.5v1.5M245.8,318.5v1.5M247.0,318.5v1.5M247.9,318.5v1.5M248.8,318.5v1.5M249.5,318.5v1.5M250.1,318.5v2.6M254.5,318.5v1.5M257.0,318.5v1.5M258.8,318.5v1.5M260.1,318.5v1.5M261.3,318.5v1.5M262.2,318.5v1.5M263.1,318.5v1.5M263.8,318.5v1.5M264.5,318.5v2.6M268.8,318.5v1.5M271.3,318.5v1.5M273.1,318.5v1.5M274.5,318.5v1.5M275.6,318.5v1.5" stroke="#222" stroke-width="0.75" fill="none"/>
<text x="228.5" y="237.7" font-size="7.8" textLength="18.0" lengthAdjust="spacingAndGlyphs" fill="#1a1a1a">B cell</text>
<path d="M283.6,317.7h-2.6M283.6,314.1h-1.5M283.6,310.5h-2.6M283.6,306.8h-1.5M283.6,303.2h-2.6M283.6,299.6h-1.5M283.6,296.0h-2.6M283.6,292.4h-1.5M283.6,288.7h-2.6M283.6,285.1h-1.5M283.6,281.5h-2.6M283.6,277.9h-1.5M283.6,274.3h-2.6M283.6,270.6h-1.5M283.6,267.0h-2.6M283.6,263.4h-1.5M283.6,259.8h-2.6M283.6,256.1h-1.5M283.6,252.5h-2.6M283.6,248.9h-1.5M283.6,245.3h-2.6M289.6,318.7v1.6M293.4,318.7v1.6M297.1,318.7v1.6M300.1,318.7v1.6M302.4,318.7v1.6M303.9,318.7v2.6M308.1,318.7v1.5M310.6,318.7v1.5M312.4,318.7v1.5M313.8,318.7v1.5M314.9,318.7v1.5M315.9,318.7v1.5M316.7,318.7v1.5M317.4,318.7v1.5M318.1,318.7v2.6M322.4,318.7v1.5M324.9,318.7v1.5M326.7,318.7v1.5M328.1,318.7v1.5M329.2,318.7v1.5M330.1,318.7v1.5M331.0,318.7v1.5M331.7,318.7v1.5M332.4,318.7v2.6M336.6,318.7v1.5M339.1,318.7v1.5M340.9,318.7v1.5M342.3,318.7v1.5M343.4,318.7v1.5M344.4,318.7v1.5M345.2,318.7v1.5M345.9,318.7v1.5M346.6,318.7v2.6M350.9,318.7v1.5M353.4,318.7v1.5M355.2,318.7v1.5M356.6,318.7v1.5M357.7,318.7v1.5" stroke="#222" stroke-width="0.75" fill="none"/>
<text x="298.7" y="237.7" font-size="7.8" fill="#1a1a1a">Gr-1<tspan dy="-2.9" font-size="6.2">lo</tspan><tspan dy="2.9" font-size="7.8"> mono</tspan></text>
<path d="M365.5,317.0h-2.6M365.5,313.4h-1.5M365.5,309.8h-2.6M365.5,306.2h-1.5M365.5,302.6h-2.6M365.5,299.0h-1.5M365.5,295.4h-2.6M365.5,291.8h-1.5M365.5,288.2h-2.6M365.5,284.6h-1.5M365.5,281.0h-2.6M365.5,277.4h-1.5M365.5,273.8h-2.6M365.5,270.3h-1.5M365.5,266.7h-2.6M365.5,263.1h-1.5M365.5,259.5h-2.6M365.5,255.9h-1.5M365.5,252.3h-2.6M365.5,248.7h-1.5M365.5,245.1h-2.6M371.5,318.0v1.6M375.3,318.0v1.6M379.1,318.0v1.6M382.1,318.0v1.6M384.4,318.0v1.6M385.9,318.0v2.6M390.2,318.0v1.5M392.7,318.0v1.5M394.5,318.0v1.5M395.9,318.0v1.5M397.0,318.0v1.5M398.0,318.0v1.5M398.8,318.0v1.5M399.6,318.0v1.5M400.2,318.0v2.6M404.5,318.0v1.5M407.1,318.0v1.5M408.9,318.0v1.5M410.3,318.0v1.5M411.4,318.0v1.5M412.4,318.0v1.5M413.2,318.0v1.5M413.9,318.0v1.5M414.6,318.0v2.6M418.9,318.0v1.5M421.4,318.0v1.5M423.2,318.0v1.5M424.6,318.0v1.5M425.7,318.0v1.5M426.7,318.0v1.5M427.5,318.0v1.5M428.3,318.0v1.5M428.9,318.0v2.6M433.2,318.0v1.5M435.8,318.0v1.5M437.6,318.0v1.5M438.9,318.0v1.5M440.1,318.0v1.5" stroke="#222" stroke-width="0.75" fill="none"/>
<text x="380.5" y="237.7" font-size="7.8" textLength="42.8" lengthAdjust="spacingAndGlyphs" fill="#1a1a1a">Macrophage</text>
<rect x="34.8" y="243.4" width="75.8" height="75.0" fill="none" stroke="#111" stroke-width="1.2"/>
<rect x="117.4" y="243.0" width="76.2" height="75.5" fill="none" stroke="#111" stroke-width="1.2"/>
<rect x="201.2" y="243.0" width="75.3" height="75.5" fill="none" stroke="#111" stroke-width="1.2"/>
<rect x="283.6" y="243.2" width="75.0" height="75.5" fill="none" stroke="#111" stroke-width="1.2"/>
<rect x="365.5" y="243.0" width="75.5" height="75.0" fill="none" stroke="#111" stroke-width="1.2"/>
<path d="M35.00,318.20 C38.06,318.20 46.94,318.88 50.30,318.20 C53.66,317.52 51.22,318.64 51.80,314.80 C52.38,310.96 52.76,309.96 53.20,299.00 C53.64,288.04 53.74,270.76 54.00,260.00 C54.26,249.24 54.24,246.20 54.50,245.20 C54.76,244.20 54.98,248.04 55.30,255.00 C55.62,261.96 55.74,271.14 56.10,280.00 C56.46,288.86 56.72,292.92 57.10,299.30 C57.48,305.68 57.42,308.60 58.00,311.90 C58.58,315.20 58.84,314.64 60.00,315.80 C61.16,316.96 62.06,317.20 63.80,317.70 C65.54,318.20 59.46,318.18 68.70,318.30 C77.94,318.42 101.74,318.30 110.00,318.30" fill="none" stroke="#6aad3c" stroke-width="1.1" stroke-linejoin="round" stroke-dasharray="2.4,1.8"/>
<path d="M50.50,318.20 C50.80,317.36 51.40,319.64 52.00,314.00 C52.60,308.36 52.94,302.40 53.50,290.00 C54.06,277.60 54.40,260.56 54.80,252.00 C55.20,243.44 55.14,247.20 55.50,247.20 C55.86,247.20 56.18,249.84 56.60,252.00 C57.02,254.16 57.18,253.80 57.60,258.00 C58.02,262.20 58.04,266.56 58.70,273.00 C59.36,279.44 60.04,284.60 60.90,290.20 C61.76,295.80 61.94,297.34 63.00,301.00 C64.06,304.66 64.70,305.92 66.20,308.50 C67.70,311.08 68.78,312.30 70.50,313.90 C72.22,315.50 73.30,315.74 74.80,316.50 C76.30,317.26 76.56,317.34 78.00,317.70 C79.44,318.06 75.60,318.18 82.00,318.30 C88.40,318.42 104.40,318.30 110.00,318.30" fill="none" stroke="#4e5468" stroke-width="1.0" stroke-linejoin="round"/>
<path d="M35.00,318.20 C38.06,318.20 46.94,318.88 50.30,318.20 C53.66,317.52 51.32,316.64 51.80,314.80 C52.28,312.96 52.38,313.96 52.70,309.00 C53.02,304.04 53.14,300.20 53.40,290.00 C53.66,279.80 53.78,266.98 54.00,258.00 C54.22,249.02 54.26,245.50 54.50,245.10 C54.74,244.70 54.88,249.02 55.20,256.00 C55.52,262.98 55.72,271.34 56.10,280.00 C56.48,288.66 56.72,292.92 57.10,299.30 C57.48,305.68 57.42,308.60 58.00,311.90 C58.58,315.20 58.84,314.64 60.00,315.80 C61.16,316.96 62.06,317.20 63.80,317.70 C65.54,318.20 59.38,318.18 68.70,318.30 C78.02,318.42 102.06,318.30 110.40,318.30" fill="none" stroke="#b02a40" stroke-width="1.3" stroke-linejoin="round"/>
<path d="M131.00,316.50 C131.28,314.20 131.90,314.30 132.40,305.00 C132.90,295.70 133.06,281.10 133.50,270.00 C133.94,258.90 134.18,252.30 134.60,249.50 C135.02,246.70 135.24,250.90 135.60,256.00 C135.96,261.10 136.10,267.60 136.40,275.00 C136.70,282.40 136.78,286.40 137.10,293.00 C137.42,299.60 137.52,303.48 138.00,308.00 C138.48,312.52 138.70,313.64 139.50,315.60 C140.30,317.56 131.30,317.28 142.00,317.80 C152.70,318.32 182.80,318.12 193.00,318.20" fill="none" stroke="#6aad3c" stroke-width="1.1" stroke-linejoin="round" stroke-dasharray="2.4,1.8"/>
<path d="M131.00,317.00 C131.26,315.00 131.84,316.00 132.30,307.00 C132.76,298.00 132.88,283.60 133.30,272.00 C133.72,260.40 133.96,253.40 134.40,249.00 C134.84,244.60 134.96,248.52 135.50,250.00 C136.04,251.48 136.40,251.66 137.10,256.40 C137.80,261.14 138.24,265.22 139.00,273.70 C139.76,282.18 140.12,291.06 140.90,298.80 C141.68,306.54 141.72,308.60 142.90,312.40 C144.08,316.20 145.38,316.62 146.80,317.80 C148.22,318.98 149.36,318.20 150.00,318.30" fill="none" stroke="#4e5468" stroke-width="0.9" stroke-linejoin="round"/>
<path d="M117.60,318.30 C119.98,318.28 126.84,318.62 129.50,318.20 C132.16,317.78 130.36,318.14 130.90,316.20 C131.44,314.26 131.74,317.00 132.20,308.50 C132.66,300.00 132.80,285.30 133.20,273.70 C133.60,262.10 133.88,255.72 134.20,250.50 C134.52,245.28 134.42,247.60 134.80,247.60 C135.18,247.60 135.56,247.22 136.10,250.50 C136.64,253.78 137.00,257.42 137.50,264.00 C138.00,270.58 138.10,275.66 138.60,283.40 C139.10,291.14 139.34,296.52 140.00,302.70 C140.66,308.88 140.74,311.28 141.90,314.30 C143.06,317.32 144.18,316.98 145.80,317.80 C147.42,318.62 140.48,318.28 150.00,318.40 C159.52,318.52 184.72,318.40 193.40,318.40" fill="none" stroke="#b02a40" stroke-width="1.3" stroke-linejoin="round"/>
<path d="M215.50,317.00 C215.80,315.20 216.42,315.40 217.00,308.00 C217.58,300.60 217.92,289.20 218.40,280.00 C218.88,270.80 219.04,263.60 219.40,262.00 C219.76,260.40 219.88,265.40 220.20,272.00 C220.52,278.60 220.66,287.00 221.00,295.00 C221.34,303.00 221.50,307.50 221.90,312.00 C222.30,316.50 222.18,316.26 223.00,317.50 C223.82,318.74 225.40,318.06 226.00,318.20" fill="none" stroke="#6aad3c" stroke-width="1.1" stroke-linejoin="round" stroke-dasharray="2.4,1.8"/>
<path d="M215.60,317.50 C215.90,315.70 216.50,317.26 217.10,308.50 C217.70,299.74 218.12,285.00 218.60,273.70 C219.08,262.40 219.02,254.74 219.50,252.00 C219.98,249.26 220.32,253.72 221.00,260.00 C221.68,266.28 222.14,275.24 222.90,283.40 C223.66,291.56 223.84,295.00 224.80,300.80 C225.76,306.60 226.34,309.12 227.70,312.40 C229.06,315.68 229.86,316.04 231.60,317.20 C233.34,318.36 227.52,317.98 236.40,318.20 C245.28,318.42 268.08,318.28 276.00,318.30" fill="none" stroke="#4e5468" stroke-width="0.9" stroke-linejoin="round"/>
<path d="M201.40,318.30 C204.02,318.28 211.56,318.62 214.50,318.20 C217.44,317.78 215.58,318.14 216.10,316.20 C216.62,314.26 216.60,317.00 217.10,308.50 C217.60,300.00 218.14,285.70 218.60,273.70 C219.06,261.70 219.00,250.44 219.40,248.50 C219.80,246.56 220.10,255.10 220.60,264.00 C221.10,272.90 221.36,284.10 221.90,293.00 C222.44,301.90 222.52,303.86 223.30,308.50 C224.08,313.14 224.52,314.34 225.80,316.20 C227.08,318.06 227.86,317.36 229.70,317.80 C231.54,318.24 225.68,318.28 235.00,318.40 C244.32,318.52 268.04,318.40 276.30,318.40" fill="none" stroke="#b02a40" stroke-width="1.3" stroke-linejoin="round"/>
<path d="M296.00,318.00 C296.32,316.60 297.06,316.70 297.60,311.00 C298.14,305.30 298.22,298.70 298.70,289.50 C299.18,280.30 299.50,272.30 300.00,265.00 C300.50,257.70 300.70,253.00 301.20,253.00 C301.70,253.00 301.94,257.70 302.50,265.00 C303.06,272.30 303.50,281.50 304.00,289.50 C304.50,297.50 304.56,300.26 305.00,305.00 C305.44,309.74 305.60,310.70 306.20,313.20 C306.80,315.70 306.84,316.48 308.00,317.50 C309.16,318.52 311.20,318.14 312.00,318.30" fill="none" stroke="#6aad3c" stroke-width="1.1" stroke-linejoin="round" stroke-dasharray="2.4,1.8"/>
<path d="M296.50,317.50 C296.84,315.34 297.56,314.44 298.20,306.70 C298.84,298.96 299.18,288.68 299.70,278.80 C300.22,268.92 300.36,262.76 300.80,257.30 C301.24,251.84 301.46,251.50 301.90,251.50 C302.34,251.50 302.44,250.56 303.00,257.30 C303.56,264.04 304.06,276.18 304.70,285.20 C305.34,294.22 305.68,297.66 306.20,302.40 C306.72,307.14 306.54,306.68 307.30,308.90 C308.06,311.12 308.50,312.00 310.00,313.50 C311.50,315.00 313.40,315.52 314.80,316.40 C316.20,317.28 315.96,317.52 317.00,317.90 C318.04,318.28 311.80,318.20 320.00,318.30 C328.20,318.40 350.40,318.38 358.00,318.40" fill="none" stroke="#4e5468" stroke-width="0.9" stroke-linejoin="round"/>
<path d="M283.80,318.40 C286.04,318.38 292.46,318.48 295.00,318.30 C297.54,318.12 295.86,319.82 296.50,317.50 C297.14,315.18 297.56,314.44 298.20,306.70 C298.84,298.96 299.18,288.68 299.70,278.80 C300.22,268.92 300.36,262.90 300.80,257.30 C301.24,251.70 301.46,250.80 301.90,250.80 C302.34,250.80 302.44,250.42 303.00,257.30 C303.56,264.18 304.06,276.18 304.70,285.20 C305.34,294.22 305.48,296.80 306.20,302.40 C306.92,308.00 307.02,310.10 308.30,313.20 C309.58,316.30 310.66,316.74 312.60,317.90 C314.54,319.06 308.84,318.86 318.00,319.00 C327.16,319.14 350.32,318.68 358.40,318.60" fill="none" stroke="#b02a40" stroke-width="1.3" stroke-linejoin="round"/>
<path d="M380.11,317.89 C380.40,316.54 381.02,316.14 381.57,311.13 C382.12,306.12 382.38,301.25 382.85,292.84 C383.33,284.44 383.51,276.68 383.95,269.08 C384.39,261.47 384.61,256.28 385.05,254.82 C385.48,253.36 385.67,257.82 386.14,261.77 C386.62,265.71 386.62,268.35 387.42,274.56 C388.23,280.78 388.88,286.99 390.16,292.84 C391.44,298.69 392.18,299.79 393.82,303.81 C395.47,307.84 396.38,310.29 398.39,312.95 C400.40,315.62 400.95,316.17 403.88,317.16 C406.80,318.15 411.19,317.74 413.02,317.89" fill="none" stroke="#6aad3c" stroke-width="1.1" stroke-linejoin="round" stroke-dasharray="2.4,1.8"/>
<path d="M381.02,317.89 L385.59,312.95 L391.08,308.38 L394.73,303.81 L396.56,298.33 L397.48,292.84 L398.76,283.70 L399.85,275.48 L400.95,269.99 L401.68,266.88 L402.41,263.59 L403.14,265.42 L403.88,261.40 L404.61,262.86 L405.16,256.28 L405.70,254.09 L406.25,258.48 L406.80,261.40 L407.35,263.96 L408.08,265.42 L408.81,269.44 L409.73,270.54 L411.19,273.10 L412.29,280.05 L413.38,287.36 L414.84,300.16 L417.04,314.78 L418.14,317.89 L440.44,317.89" fill="none" stroke="#4e5468" stroke-width="1.1" stroke-linejoin="round"/>
<path d="M365.48,317.89 C368.41,317.89 376.89,318.51 380.11,317.89 C383.33,317.27 381.02,316.87 381.57,314.78 C382.12,312.70 382.41,311.13 382.85,307.47 C383.29,303.81 383.44,301.25 383.77,296.50 C384.10,291.75 384.20,288.64 384.50,283.70 C384.79,278.77 384.97,275.11 385.23,271.82 C385.48,268.53 385.56,267.98 385.78,267.25 C386.00,266.52 386.07,265.97 386.33,268.16 C386.58,270.36 386.76,274.67 387.06,278.22 C387.35,281.77 387.42,283.63 387.79,285.90 C388.15,288.16 388.41,288.53 388.88,289.55 C389.36,290.58 389.54,290.54 390.16,291.02 C390.79,291.49 391.37,291.49 391.99,291.93 C392.61,292.37 392.72,292.59 393.27,293.21 C393.82,293.83 394.19,294.31 394.73,295.04 C395.28,295.77 395.54,296.72 396.01,296.87 C396.49,297.01 396.64,295.55 397.11,295.77 C397.59,295.99 397.84,297.38 398.39,297.96 C398.94,298.55 399.31,298.77 399.85,298.69 C400.40,298.62 400.62,297.12 401.13,297.60 C401.65,298.07 401.86,300.12 402.41,301.07 C402.96,302.02 403.22,301.62 403.88,302.35 C404.53,303.08 404.97,304.14 405.70,304.73 C406.44,305.31 406.80,305.09 407.53,305.28 C408.26,305.46 408.45,305.20 409.36,305.64 C410.27,306.08 411.19,306.56 412.10,307.47 C413.02,308.38 413.38,309.12 413.93,310.21 C414.48,311.31 414.30,311.75 414.84,312.95 C415.39,314.16 415.94,315.26 416.67,316.24 C417.40,317.23 413.75,317.56 418.50,317.89 C423.25,318.22 436.05,317.89 440.44,317.89" fill="none" stroke="#b02a40" stroke-width="1.3" stroke-linejoin="round"/>
<path d="M444.3,252.6H459.2" stroke="#4e5468" stroke-width="1.2"/>
<path d="M444.3,266.5H459.2" stroke="#b02a40" stroke-width="1.3"/>
<path d="M444.3,280.3H459.2" stroke="#6aad3c" stroke-width="1.2" stroke-dasharray="3,2.4"/>
<text x="464.9" y="255.4" font-size="8" textLength="25" lengthAdjust="spacingAndGlyphs" fill="#1a1a1a">Control</text>
<text x="464.9" y="270" font-size="8" fill="#1a1a1a"><tspan textLength="18.2" lengthAdjust="spacingAndGlyphs">Maea</tspan><tspan x="483.5" y="266.9" font-size="6.6" textLength="25" lengthAdjust="spacingAndGlyphs">Csf1r-Cre</tspan></text>
<text x="464.9" y="282.3" font-size="8" textLength="25" lengthAdjust="spacingAndGlyphs" fill="#1a1a1a">Isotype</text>
<text transform="translate(29.5,280.8) rotate(-90)" font-size="10" text-anchor="middle" textLength="12.1" lengthAdjust="spacingAndGlyphs" fill="#1a1a1a">BM</text>
<text x="35.2" y="333.5" font-size="9.2" textLength="22.1" lengthAdjust="spacingAndGlyphs" fill="#1a1a1a">Maea</text>
<path d="M57,330.4 H425.8" stroke="#333" stroke-width="1"/>
<path d="M430.8,330.4 L423.3,327.2 L424.8,330.4 L423.3,333.59999999999997 Z" fill="#111"/>
<text x="6.9" y="362.5" font-size="11" text-anchor="start" fill="#1a1a1a" style="stroke-width:0">C</text>
<rect x="52.599999999999994" y="386.3" width="14.1" height="67.9" fill="#63656f" stroke="#55575f" stroke-width="0.6"/>
<rect x="74.2" y="432.6" width="14.1" height="21.6" fill="#a33545" stroke="#8e2a3a" stroke-width="0.6"/>
<path d="M48.7,364.4V454.2H92M48.7,367.6h-2.6M48.7,389.3h-2.6M48.7,411.2h-2.6M48.7,432.7h-2.6M48.7,454.2h-2.6M59.6,454.2v2.5M81.2,454.2v2.5" stroke="#111" stroke-width="1.1" fill="none"/>
<text x="43.2" y="370.2" font-size="7.4" text-anchor="end" fill="#1a1a1a">80</text>
<text x="43.2" y="391.9" font-size="7.4" text-anchor="end" fill="#1a1a1a">60</text>
<text x="43.2" y="413.8" font-size="7.4" text-anchor="end" fill="#1a1a1a">40</text>
<text x="43.2" y="435.3" font-size="7.4" text-anchor="end" fill="#1a1a1a">20</text>
<text x="43.2" y="456.8" font-size="7.4" text-anchor="end" fill="#1a1a1a">0</text>
<path d="M59.6,381.5V390.6M55.6,381.5h8M55.6,390.6h8" stroke="#111" stroke-width="0.9"/>
<path d="M81.4,430V436M77.9,430h7M77.9,436h7" stroke="#111" stroke-width="0.9"/>
<circle cx="59.6" cy="372.5" r="1.55" fill="#0d0d0d"/>
<circle cx="64.4" cy="376.5" r="1.55" fill="#0d0d0d"/>
<circle cx="55" cy="378.75" r="1.55" fill="#0d0d0d"/>
<circle cx="59.6" cy="380" r="1.55" fill="#0d0d0d"/>
<circle cx="55" cy="396.9" r="1.55" fill="#0d0d0d"/>
<circle cx="64" cy="397.5" r="1.55" fill="#0d0d0d"/>
<circle cx="59.6" cy="400.8" r="1.55" fill="#0d0d0d"/>
<circle cx="81.4" cy="417.4" r="1.55" fill="#0d0d0d"/>
<circle cx="81.4" cy="426.5" r="1.55" fill="#0d0d0d"/>
<circle cx="78.4" cy="433.3" r="1.55" fill="#0d0d0d"/>
<circle cx="83.5" cy="434.2" r="1.55" fill="#0d0d0d"/>
<circle cx="75.8" cy="437" r="1.55" fill="#0d0d0d"/>
<circle cx="82.9" cy="438.3" r="1.55" fill="#0d0d0d"/>
<circle cx="86.4" cy="436.4" r="1.55" fill="#0d0d0d"/>
<circle cx="79.3" cy="441" r="1.55" fill="#0d0d0d"/>
<path d="M59.8,366.9H82.3" stroke="#111" stroke-width="1.0"/>
<text x="71.0" y="366.6" font-size="10" text-anchor="middle" fill="#1a1a1a" letter-spacing="-0.1">****</text>
<text transform="translate(27.6,412.7) rotate(-90)" font-size="8.6" text-anchor="middle" textLength="54.5" lengthAdjust="spacingAndGlyphs" fill="#1a1a1a">% Maea+ MΦ</text>
<rect x="139.8" y="394.8" width="13.7" height="59.5" fill="#63656f" stroke="#55575f" stroke-width="0.6"/>
<rect x="161.3" y="423.1" width="14.2" height="31.2" fill="#a33545" stroke="#8e2a3a" stroke-width="0.6"/>
<path d="M135,364.0V454.3H178.2M135,366.4h-2.6M135,396.2h-2.6M135,425.4h-2.6M135,454.3h-2.6M146.7,454.3v2.5M168.4,454.3v2.5" stroke="#111" stroke-width="1.1" fill="none"/>
<text x="130.5" y="369.0" font-size="7.4" text-anchor="end" fill="#1a1a1a">150</text>
<text x="130.5" y="398.8" font-size="7.4" text-anchor="end" fill="#1a1a1a">100</text>
<text x="130.5" y="428.0" font-size="7.4" text-anchor="end" fill="#1a1a1a">50</text>
<text x="130.5" y="456.9" font-size="7.4" text-anchor="end" fill="#1a1a1a">0</text>
<path d="M146.6,392.5V397.5M143.35,392.5h6.5M143.35,397.5h6.5" stroke="#111" stroke-width="0.9"/>
<path d="M168.4,419.9V426.2M164.9,419.9h7M164.9,426.2h7" stroke="#111" stroke-width="0.9"/>
<circle cx="146.3" cy="378.7" r="1.55" fill="#0d0d0d"/>
<circle cx="142.9" cy="395.2" r="1.55" fill="#0d0d0d"/>
<circle cx="150.2" cy="395.7" r="1.55" fill="#0d0d0d"/>
<circle cx="146.3" cy="402.5" r="1.55" fill="#0d0d0d"/>
<circle cx="164.4" cy="416.5" r="1.55" fill="#0d0d0d"/>
<circle cx="173" cy="412.6" r="1.55" fill="#0d0d0d"/>
<circle cx="168.9" cy="417.8" r="1.55" fill="#0d0d0d"/>
<circle cx="165.5" cy="422.8" r="1.55" fill="#0d0d0d"/>
<circle cx="171.9" cy="423.9" r="1.55" fill="#0d0d0d"/>
<circle cx="173.4" cy="429.6" r="1.55" fill="#0d0d0d"/>
<circle cx="168.5" cy="439.7" r="1.55" fill="#0d0d0d"/>
<path d="M146.3,373.8H168.9" stroke="#111" stroke-width="1.0"/>
<text x="157.6" y="373.5" font-size="10" text-anchor="middle" fill="#1a1a1a" letter-spacing="-0.1">****</text>
<text transform="translate(110.8,410.4) rotate(-90)" font-size="8.6" text-anchor="middle" textLength="81.3" lengthAdjust="spacingAndGlyphs" fill="#1a1a1a">Maea MFI (% of Ctrl)</text>
<text x="196.2" y="363.6" font-size="11.5" text-anchor="start" fill="#1a1a1a" style="stroke-width:0">D</text>
<rect x="235.5" y="397.6" width="14.1" height="56.6" fill="#63656f" stroke="#55575f" stroke-width="0.6"/>
<rect x="257.3" y="408.3" width="13.6" height="45.9" fill="#a33545" stroke="#8e2a3a" stroke-width="0.6"/>
<path d="M231,365.4V454.2H275M231,367.8h-2.6M231,396.9h-2.6M231,425.3h-2.6M231,454.2h-2.6M242.6,454.2v2.5M264.1,454.2v2.5" stroke="#111" stroke-width="1.1" fill="none"/>
<text x="226.5" y="370.4" font-size="7.4" text-anchor="end" fill="#1a1a1a">30</text>
<text x="226.5" y="399.5" font-size="7.4" text-anchor="end" fill="#1a1a1a">20</text>
<text x="226.5" y="427.9" font-size="7.4" text-anchor="end" fill="#1a1a1a">10</text>
<text x="226.5" y="456.8" font-size="7.4" text-anchor="end" fill="#1a1a1a">0</text>
<path d="M242.5,394V400.5M239.0,394h7M239.0,400.5h7" stroke="#111" stroke-width="0.9"/>
<path d="M264,404.5V411.5M260.5,404.5h7M260.5,411.5h7" stroke="#111" stroke-width="0.9"/>
<circle cx="242.3" cy="385" r="1.55" fill="#0d0d0d"/>
<circle cx="238.8" cy="389.8" r="1.55" fill="#0d0d0d"/>
<circle cx="245.9" cy="389.8" r="1.55" fill="#0d0d0d"/>
<circle cx="244.7" cy="395.5" r="1.55" fill="#0d0d0d"/>
<circle cx="237.6" cy="399.7" r="1.55" fill="#0d0d0d"/>
<circle cx="242.3" cy="401.6" r="1.55" fill="#0d0d0d"/>
<circle cx="245.9" cy="404.5" r="1.55" fill="#0d0d0d"/>
<circle cx="240" cy="406.3" r="1.55" fill="#0d0d0d"/>
<circle cx="257.7" cy="399.2" r="1.55" fill="#0d0d0d"/>
<circle cx="261.8" cy="400.2" r="1.55" fill="#0d0d0d"/>
<circle cx="266" cy="400.9" r="1.55" fill="#0d0d0d"/>
<circle cx="269.6" cy="399.2" r="1.55" fill="#0d0d0d"/>
<circle cx="260.1" cy="408" r="1.55" fill="#0d0d0d"/>
<circle cx="267.2" cy="412" r="1.55" fill="#0d0d0d"/>
<circle cx="263.7" cy="419.8" r="1.55" fill="#0d0d0d"/>
<circle cx="258.9" cy="413.4" r="1.55" fill="#0d0d0d"/>
<path d="M243.5,377.9H265.5" stroke="#111" stroke-width="1.0"/>
<text x="254.5" y="377.6" font-size="10" text-anchor="middle" fill="#1a1a1a" letter-spacing="-0.1">**</text>
<text transform="translate(210.9,410.4) rotate(-90)" font-size="8.6" text-anchor="middle" textLength="54.5" lengthAdjust="spacingAndGlyphs" fill="#1a1a1a"></text>
<text x="282.4" y="363.7" font-size="11.5" text-anchor="start" fill="#1a1a1a" style="stroke-width:0">E</text>
<rect x="327.7" y="412.40000000000003" width="14.0" height="41.8" fill="#63656f" stroke="#55575f" stroke-width="0.6"/>
<rect x="349.0" y="440.3" width="13.6" height="13.9" fill="#a33545" stroke="#8e2a3a" stroke-width="0.6"/>
<path d="M323.3,365.4V454.2H366.5M323.3,367.8h-2.6M323.3,385.5h-2.6M323.3,402.6h-2.6M323.3,420.3h-2.6M323.3,437.6h-2.6M323.3,454.2h-2.6M334.7,454.2v2.5M355.8,454.2v2.5" stroke="#111" stroke-width="1.1" fill="none"/>
<text x="318.5" y="370.4" font-size="7.4" text-anchor="end" fill="#1a1a1a">2.5</text>
<text x="318.5" y="388.1" font-size="7.4" text-anchor="end" fill="#1a1a1a">2.0</text>
<text x="318.5" y="405.2" font-size="7.4" text-anchor="end" fill="#1a1a1a">1.5</text>
<text x="318.5" y="422.9" font-size="7.4" text-anchor="end" fill="#1a1a1a">1.0</text>
<text x="318.5" y="440.2" font-size="7.4" text-anchor="end" fill="#1a1a1a">0.5</text>
<text x="318.5" y="456.8" font-size="7.4" text-anchor="end" fill="#1a1a1a">0</text>
<path d="M335,406.4V417.5M331.5,406.4h7M331.5,417.5h7" stroke="#111" stroke-width="0.9"/>
<path d="M355.8,437.5V442.5M352.3,437.5h7M352.3,442.5h7" stroke="#111" stroke-width="0.9"/>
<circle cx="335" cy="385.5" r="1.55" fill="#0d0d0d"/>
<circle cx="335" cy="397.8" r="1.55" fill="#0d0d0d"/>
<circle cx="332.6" cy="412.8" r="1.55" fill="#0d0d0d"/>
<circle cx="338" cy="416.3" r="1.55" fill="#0d0d0d"/>
<circle cx="332.6" cy="421" r="1.55" fill="#0d0d0d"/>
<circle cx="339.2" cy="423.4" r="1.55" fill="#0d0d0d"/>
<circle cx="335.7" cy="425.8" r="1.55" fill="#0d0d0d"/>
<circle cx="331.6" cy="428.6" r="1.55" fill="#0d0d0d"/>
<circle cx="355.8" cy="430.5" r="1.55" fill="#0d0d0d"/>
<circle cx="351.1" cy="437.2" r="1.55" fill="#0d0d0d"/>
<circle cx="355.8" cy="437.2" r="1.55" fill="#0d0d0d"/>
<circle cx="360.5" cy="437.2" r="1.55" fill="#0d0d0d"/>
<circle cx="352.2" cy="441.2" r="1.55" fill="#0d0d0d"/>
<circle cx="358.2" cy="442.4" r="1.55" fill="#0d0d0d"/>
<circle cx="353.4" cy="447.1" r="1.55" fill="#0d0d0d"/>
<path d="M335,378H357" stroke="#111" stroke-width="1.0"/>
<text x="346.0" y="377.7" font-size="10" text-anchor="middle" fill="#1a1a1a" letter-spacing="-0.1">***</text>
<text transform="translate(301.5,411.5) rotate(-90)" font-size="8.6" text-anchor="middle" textLength="68.7" lengthAdjust="spacingAndGlyphs" fill="#1a1a1a"></text>
<text transform="translate(211.2,437.6) rotate(-90)" font-size="9.2" fill="#1a1a1a"><tspan textLength="47" lengthAdjust="spacingAndGlyphs">BMNCs (x10</tspan><tspan dy="-3" font-size="6">6</tspan><tspan dy="3">)</tspan></text>
<text transform="translate(301.8,445.9) rotate(-90)" font-size="9.2" fill="#1a1a1a"><tspan textLength="61" lengthAdjust="spacingAndGlyphs">MΦ/femur (x10</tspan><tspan dy="-3" font-size="6">5</tspan><tspan dy="3">)</tspan></text>
<rect x="384.2" y="360.5" width="14.6" height="6.4" fill="#63656f"/>
<rect x="384.2" y="375.4" width="14.6" height="6.6" fill="#a33545"/>
<text x="401.8" y="366.2" font-size="8.6" textLength="25.1" lengthAdjust="spacingAndGlyphs" fill="#1a1a1a">Control</text>
<text x="401.8" y="382.5" font-size="8.6" fill="#1a1a1a"><tspan textLength="18.5" lengthAdjust="spacingAndGlyphs">Maea</tspan><tspan x="420.8" y="380" font-size="6.6" textLength="24.9" lengthAdjust="spacingAndGlyphs">Csf1r-Cre</tspan></text>
<rect x="0" y="0" width="520" height="1" fill="#111"/>
<rect x="0" y="0" width="1.7" height="465" fill="#474747"/>
<rect x="518.7" y="0" width="1.3" height="465" fill="#0a0a0a"/>
<rect x="0" y="462.8" width="520" height="2.2" fill="#444"/>
</svg></body></html>
